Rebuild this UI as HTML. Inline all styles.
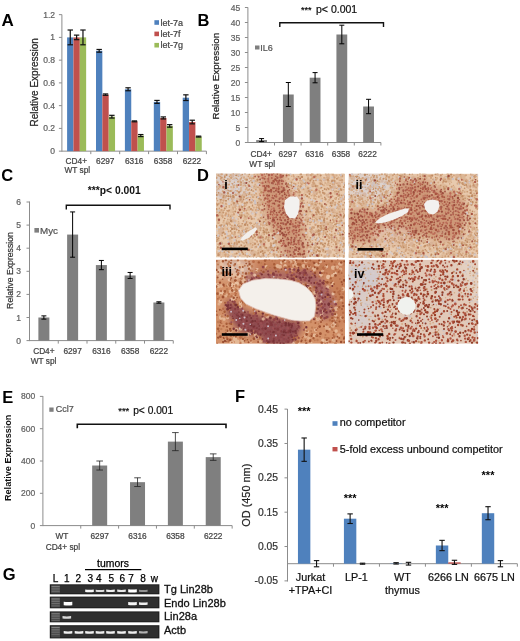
<!DOCTYPE html>
<html><head><meta charset="utf-8"><style>
html,body{margin:0;padding:0;background:#fff;width:520px;height:641px;overflow:hidden}
svg{display:block;filter:blur(0.35px)}
text{font-family:"Liberation Sans", sans-serif}
</style></head><body>
<svg width="520" height="641" viewBox="0 0 520 641">
<rect width="520" height="641" fill="#fff"/>
<defs><filter id="bl1" x="-20%" y="-20%" width="140%" height="140%"><feGaussianBlur stdDeviation="0.7"/></filter>
<filter id="bl3" x="-30%" y="-30%" width="160%" height="160%"><feGaussianBlur stdDeviation="3"/></filter>
<filter id="bl5" x="-40%" y="-40%" width="180%" height="180%"><feGaussianBlur stdDeviation="5"/></filter>
<filter id="bd" x="-50%" y="-50%" width="200%" height="200%"><feGaussianBlur stdDeviation="0.55"/></filter>
<clipPath id="c_i"><rect x="216" y="173.6" width="129" height="84"/></clipPath>
<clipPath id="c_ii"><rect x="348.5" y="173.6" width="129.8" height="84.4"/></clipPath>
<clipPath id="c_iii"><rect x="216" y="259.6" width="129" height="84.2"/></clipPath>
<clipPath id="c_iv"><rect x="348.5" y="259.8" width="129.8" height="84"/></clipPath></defs>
<text x="1.50" y="26.30" font-size="17" text-anchor="start" fill="#000" font-weight="bold" >A</text>
<line x1="61.90" y1="14.60" x2="61.90" y2="151.65" stroke="#8c8c8c" stroke-width="1" />
<line x1="58.90" y1="151.15" x2="61.90" y2="151.15" stroke="#8c8c8c" stroke-width="1" />
<text x="55.00" y="154.15" font-size="8.5" text-anchor="end" fill="#626262" font-weight="normal" stroke="#626262" stroke-width="0.22" >0</text>
<line x1="58.90" y1="128.40" x2="61.90" y2="128.40" stroke="#8c8c8c" stroke-width="1" />
<text x="55.00" y="131.40" font-size="8.5" text-anchor="end" fill="#626262" font-weight="normal" stroke="#626262" stroke-width="0.22" >0.2</text>
<line x1="58.90" y1="105.65" x2="61.90" y2="105.65" stroke="#8c8c8c" stroke-width="1" />
<text x="55.00" y="108.65" font-size="8.5" text-anchor="end" fill="#626262" font-weight="normal" stroke="#626262" stroke-width="0.22" >0.4</text>
<line x1="58.90" y1="82.90" x2="61.90" y2="82.90" stroke="#8c8c8c" stroke-width="1" />
<text x="55.00" y="85.90" font-size="8.5" text-anchor="end" fill="#626262" font-weight="normal" stroke="#626262" stroke-width="0.22" >0.6</text>
<line x1="58.90" y1="60.15" x2="61.90" y2="60.15" stroke="#8c8c8c" stroke-width="1" />
<text x="55.00" y="63.15" font-size="8.5" text-anchor="end" fill="#626262" font-weight="normal" stroke="#626262" stroke-width="0.22" >0.8</text>
<line x1="58.90" y1="37.40" x2="61.90" y2="37.40" stroke="#8c8c8c" stroke-width="1" />
<text x="55.00" y="40.40" font-size="8.5" text-anchor="end" fill="#626262" font-weight="normal" stroke="#626262" stroke-width="0.22" >1</text>
<line x1="58.90" y1="14.65" x2="61.90" y2="14.65" stroke="#8c8c8c" stroke-width="1" />
<text x="55.00" y="17.65" font-size="8.5" text-anchor="end" fill="#626262" font-weight="normal" stroke="#626262" stroke-width="0.22" >1.2</text>
<line x1="61.90" y1="151.15" x2="206.40" y2="151.15" stroke="#8c8c8c" stroke-width="1" />
<line x1="90.80" y1="151.15" x2="90.80" y2="154.15" stroke="#8c8c8c" stroke-width="1" />
<line x1="119.70" y1="151.15" x2="119.70" y2="154.15" stroke="#8c8c8c" stroke-width="1" />
<line x1="148.60" y1="151.15" x2="148.60" y2="154.15" stroke="#8c8c8c" stroke-width="1" />
<line x1="177.50" y1="151.15" x2="177.50" y2="154.15" stroke="#8c8c8c" stroke-width="1" />
<line x1="206.40" y1="151.15" x2="206.40" y2="154.15" stroke="#8c8c8c" stroke-width="1" />
<rect x="67.10" y="37.40" width="6.35" height="113.75" fill="#4F81BD" />
<rect x="73.45" y="37.40" width="6.35" height="113.75" fill="#C0504D" />
<rect x="79.80" y="37.40" width="6.35" height="113.75" fill="#9BBB59" />
<line x1="70.27" y1="30.01" x2="70.27" y2="44.79" stroke="#111" stroke-width="1.2" />
<line x1="67.57" y1="30.01" x2="72.97" y2="30.01" stroke="#111" stroke-width="1.2" />
<line x1="67.57" y1="44.79" x2="72.97" y2="44.79" stroke="#111" stroke-width="1.2" />
<line x1="76.62" y1="35.12" x2="76.62" y2="39.68" stroke="#111" stroke-width="1.2" />
<line x1="73.92" y1="35.12" x2="79.32" y2="35.12" stroke="#111" stroke-width="1.2" />
<line x1="73.92" y1="39.68" x2="79.32" y2="39.68" stroke="#111" stroke-width="1.2" />
<line x1="82.97" y1="30.01" x2="82.97" y2="44.79" stroke="#111" stroke-width="1.2" />
<line x1="80.27" y1="30.01" x2="85.67" y2="30.01" stroke="#111" stroke-width="1.2" />
<line x1="80.27" y1="44.79" x2="85.67" y2="44.79" stroke="#111" stroke-width="1.2" />
<rect x="96.00" y="50.82" width="6.35" height="100.33" fill="#4F81BD" />
<rect x="102.35" y="94.62" width="6.35" height="56.53" fill="#C0504D" />
<rect x="108.70" y="116.68" width="6.35" height="34.47" fill="#9BBB59" />
<line x1="99.17" y1="49.46" x2="99.17" y2="52.19" stroke="#111" stroke-width="1.2" />
<line x1="96.47" y1="49.46" x2="101.88" y2="49.46" stroke="#111" stroke-width="1.2" />
<line x1="96.47" y1="52.19" x2="101.88" y2="52.19" stroke="#111" stroke-width="1.2" />
<line x1="105.52" y1="93.93" x2="105.52" y2="95.30" stroke="#111" stroke-width="1.2" />
<line x1="102.82" y1="93.93" x2="108.22" y2="93.93" stroke="#111" stroke-width="1.2" />
<line x1="102.82" y1="95.30" x2="108.22" y2="95.30" stroke="#111" stroke-width="1.2" />
<line x1="111.88" y1="115.32" x2="111.88" y2="118.05" stroke="#111" stroke-width="1.2" />
<line x1="109.17" y1="115.32" x2="114.58" y2="115.32" stroke="#111" stroke-width="1.2" />
<line x1="109.17" y1="118.05" x2="114.58" y2="118.05" stroke="#111" stroke-width="1.2" />
<rect x="124.90" y="89.27" width="6.35" height="61.88" fill="#4F81BD" />
<rect x="131.25" y="121.35" width="6.35" height="29.80" fill="#C0504D" />
<rect x="137.60" y="135.57" width="6.35" height="15.58" fill="#9BBB59" />
<line x1="128.07" y1="87.79" x2="128.07" y2="90.75" stroke="#111" stroke-width="1.2" />
<line x1="125.37" y1="87.79" x2="130.77" y2="87.79" stroke="#111" stroke-width="1.2" />
<line x1="125.37" y1="90.75" x2="130.77" y2="90.75" stroke="#111" stroke-width="1.2" />
<line x1="134.43" y1="120.89" x2="134.43" y2="121.80" stroke="#111" stroke-width="1.2" />
<line x1="131.73" y1="120.89" x2="137.12" y2="120.89" stroke="#111" stroke-width="1.2" />
<line x1="131.73" y1="121.80" x2="137.12" y2="121.80" stroke="#111" stroke-width="1.2" />
<line x1="140.78" y1="134.54" x2="140.78" y2="136.59" stroke="#111" stroke-width="1.2" />
<line x1="138.08" y1="134.54" x2="143.47" y2="134.54" stroke="#111" stroke-width="1.2" />
<line x1="138.08" y1="136.59" x2="143.47" y2="136.59" stroke="#111" stroke-width="1.2" />
<rect x="153.80" y="101.90" width="6.35" height="49.25" fill="#4F81BD" />
<rect x="160.15" y="117.94" width="6.35" height="33.21" fill="#C0504D" />
<rect x="166.50" y="125.90" width="6.35" height="25.25" fill="#9BBB59" />
<line x1="156.97" y1="100.42" x2="156.97" y2="103.38" stroke="#111" stroke-width="1.2" />
<line x1="154.28" y1="100.42" x2="159.67" y2="100.42" stroke="#111" stroke-width="1.2" />
<line x1="154.28" y1="103.38" x2="159.67" y2="103.38" stroke="#111" stroke-width="1.2" />
<line x1="163.32" y1="116.91" x2="163.32" y2="118.96" stroke="#111" stroke-width="1.2" />
<line x1="160.62" y1="116.91" x2="166.02" y2="116.91" stroke="#111" stroke-width="1.2" />
<line x1="160.62" y1="118.96" x2="166.02" y2="118.96" stroke="#111" stroke-width="1.2" />
<line x1="169.67" y1="124.65" x2="169.67" y2="127.15" stroke="#111" stroke-width="1.2" />
<line x1="166.97" y1="124.65" x2="172.37" y2="124.65" stroke="#111" stroke-width="1.2" />
<line x1="166.97" y1="127.15" x2="172.37" y2="127.15" stroke="#111" stroke-width="1.2" />
<rect x="182.70" y="97.69" width="6.35" height="53.46" fill="#4F81BD" />
<rect x="189.05" y="122.03" width="6.35" height="29.12" fill="#C0504D" />
<rect x="195.40" y="136.59" width="6.35" height="14.56" fill="#9BBB59" />
<line x1="185.88" y1="94.84" x2="185.88" y2="100.53" stroke="#111" stroke-width="1.2" />
<line x1="183.18" y1="94.84" x2="188.57" y2="94.84" stroke="#111" stroke-width="1.2" />
<line x1="183.18" y1="100.53" x2="188.57" y2="100.53" stroke="#111" stroke-width="1.2" />
<line x1="192.22" y1="120.21" x2="192.22" y2="123.85" stroke="#111" stroke-width="1.2" />
<line x1="189.53" y1="120.21" x2="194.92" y2="120.21" stroke="#111" stroke-width="1.2" />
<line x1="189.53" y1="123.85" x2="194.92" y2="123.85" stroke="#111" stroke-width="1.2" />
<line x1="198.57" y1="136.13" x2="198.57" y2="137.05" stroke="#111" stroke-width="1.2" />
<line x1="195.88" y1="136.13" x2="201.27" y2="136.13" stroke="#111" stroke-width="1.2" />
<line x1="195.88" y1="137.05" x2="201.27" y2="137.05" stroke="#111" stroke-width="1.2" />
<text x="76.35" y="164.30" font-size="8.3" text-anchor="middle" fill="#444" font-weight="normal" stroke="#444" stroke-width="0.22" >CD4+</text>
<text x="105.25" y="164.30" font-size="8.3" text-anchor="middle" fill="#444" font-weight="normal" stroke="#444" stroke-width="0.22" >6297</text>
<text x="134.15" y="164.30" font-size="8.3" text-anchor="middle" fill="#444" font-weight="normal" stroke="#444" stroke-width="0.22" >6316</text>
<text x="163.05" y="164.30" font-size="8.3" text-anchor="middle" fill="#444" font-weight="normal" stroke="#444" stroke-width="0.22" >6358</text>
<text x="191.95" y="164.30" font-size="8.3" text-anchor="middle" fill="#444" font-weight="normal" stroke="#444" stroke-width="0.22" >6222</text>
<text x="77.35" y="172.60" font-size="8.3" text-anchor="middle" fill="#444" font-weight="normal" stroke="#444" stroke-width="0.22" >WT spl</text>
<text x="37.70" y="82.30" font-size="10" text-anchor="middle" fill="#222" font-weight="normal" stroke="#222" stroke-width="0.22" transform="rotate(-90 37.7 82.3)">Relative Expression</text>
<rect x="154.40" y="20.20" width="4.60" height="4.60" fill="#4F81BD" />
<text x="160.60" y="25.50" font-size="9" text-anchor="start" fill="#444" font-weight="normal" stroke="#444" stroke-width="0.22" >let-7a</text>
<rect x="154.40" y="31.60" width="4.60" height="4.60" fill="#C0504D" />
<text x="160.60" y="36.90" font-size="9" text-anchor="start" fill="#444" font-weight="normal" stroke="#444" stroke-width="0.22" >let-7f</text>
<rect x="154.40" y="42.90" width="4.60" height="4.60" fill="#9BBB59" />
<text x="160.60" y="48.20" font-size="9" text-anchor="start" fill="#444" font-weight="normal" stroke="#444" stroke-width="0.22" >let-7g</text>
<text x="197.50" y="26.30" font-size="16.5" text-anchor="start" fill="#000" font-weight="bold" >B</text>
<text x="197.00" y="181.00" font-size="16.5" text-anchor="start" fill="#000" font-weight="bold" >D</text>
<line x1="247.90" y1="7.40" x2="247.90" y2="143.00" stroke="#8c8c8c" stroke-width="1" />
<line x1="244.90" y1="142.50" x2="247.90" y2="142.50" stroke="#8c8c8c" stroke-width="1" />
<text x="240.20" y="145.50" font-size="8.5" text-anchor="end" fill="#626262" font-weight="normal" stroke="#626262" stroke-width="0.22" >0</text>
<line x1="244.90" y1="127.50" x2="247.90" y2="127.50" stroke="#8c8c8c" stroke-width="1" />
<text x="240.20" y="130.50" font-size="8.5" text-anchor="end" fill="#626262" font-weight="normal" stroke="#626262" stroke-width="0.22" >5</text>
<line x1="244.90" y1="112.50" x2="247.90" y2="112.50" stroke="#8c8c8c" stroke-width="1" />
<text x="240.20" y="115.50" font-size="8.5" text-anchor="end" fill="#626262" font-weight="normal" stroke="#626262" stroke-width="0.22" >10</text>
<line x1="244.90" y1="97.50" x2="247.90" y2="97.50" stroke="#8c8c8c" stroke-width="1" />
<text x="240.20" y="100.50" font-size="8.5" text-anchor="end" fill="#626262" font-weight="normal" stroke="#626262" stroke-width="0.22" >15</text>
<line x1="244.90" y1="82.50" x2="247.90" y2="82.50" stroke="#8c8c8c" stroke-width="1" />
<text x="240.20" y="85.50" font-size="8.5" text-anchor="end" fill="#626262" font-weight="normal" stroke="#626262" stroke-width="0.22" >20</text>
<line x1="244.90" y1="67.50" x2="247.90" y2="67.50" stroke="#8c8c8c" stroke-width="1" />
<text x="240.20" y="70.50" font-size="8.5" text-anchor="end" fill="#626262" font-weight="normal" stroke="#626262" stroke-width="0.22" >25</text>
<line x1="244.90" y1="52.50" x2="247.90" y2="52.50" stroke="#8c8c8c" stroke-width="1" />
<text x="240.20" y="55.50" font-size="8.5" text-anchor="end" fill="#626262" font-weight="normal" stroke="#626262" stroke-width="0.22" >30</text>
<line x1="244.90" y1="37.50" x2="247.90" y2="37.50" stroke="#8c8c8c" stroke-width="1" />
<text x="240.20" y="40.50" font-size="8.5" text-anchor="end" fill="#626262" font-weight="normal" stroke="#626262" stroke-width="0.22" >35</text>
<line x1="244.90" y1="22.50" x2="247.90" y2="22.50" stroke="#8c8c8c" stroke-width="1" />
<text x="240.20" y="25.50" font-size="8.5" text-anchor="end" fill="#626262" font-weight="normal" stroke="#626262" stroke-width="0.22" >40</text>
<line x1="244.90" y1="7.50" x2="247.90" y2="7.50" stroke="#8c8c8c" stroke-width="1" />
<text x="240.20" y="10.50" font-size="8.5" text-anchor="end" fill="#626262" font-weight="normal" stroke="#626262" stroke-width="0.22" >45</text>
<line x1="247.90" y1="142.50" x2="380.90" y2="142.50" stroke="#8c8c8c" stroke-width="1" />
<line x1="274.50" y1="142.50" x2="274.50" y2="145.50" stroke="#8c8c8c" stroke-width="1" />
<line x1="301.10" y1="142.50" x2="301.10" y2="145.50" stroke="#8c8c8c" stroke-width="1" />
<line x1="327.70" y1="142.50" x2="327.70" y2="145.50" stroke="#8c8c8c" stroke-width="1" />
<line x1="354.30" y1="142.50" x2="354.30" y2="145.50" stroke="#8c8c8c" stroke-width="1" />
<line x1="380.90" y1="142.50" x2="380.90" y2="145.50" stroke="#8c8c8c" stroke-width="1" />
<rect x="256.18" y="140.10" width="10.80" height="2.40" fill="#7F7F7F" />
<line x1="261.57" y1="138.60" x2="261.57" y2="141.60" stroke="#000" stroke-width="1" />
<line x1="259.07" y1="138.60" x2="264.07" y2="138.60" stroke="#000" stroke-width="1" />
<line x1="259.07" y1="141.60" x2="264.07" y2="141.60" stroke="#000" stroke-width="1" />
<rect x="282.93" y="94.50" width="10.80" height="48.00" fill="#7F7F7F" />
<line x1="288.32" y1="82.50" x2="288.32" y2="106.50" stroke="#000" stroke-width="1" />
<line x1="285.82" y1="82.50" x2="290.82" y2="82.50" stroke="#000" stroke-width="1" />
<line x1="285.82" y1="106.50" x2="290.82" y2="106.50" stroke="#000" stroke-width="1" />
<rect x="309.68" y="77.70" width="10.80" height="64.80" fill="#7F7F7F" />
<line x1="315.07" y1="72.60" x2="315.07" y2="82.80" stroke="#000" stroke-width="1" />
<line x1="312.57" y1="72.60" x2="317.57" y2="72.60" stroke="#000" stroke-width="1" />
<line x1="312.57" y1="82.80" x2="317.57" y2="82.80" stroke="#000" stroke-width="1" />
<rect x="336.43" y="34.50" width="10.80" height="108.00" fill="#7F7F7F" />
<line x1="341.82" y1="25.20" x2="341.82" y2="43.80" stroke="#000" stroke-width="1" />
<line x1="339.32" y1="25.20" x2="344.32" y2="25.20" stroke="#000" stroke-width="1" />
<line x1="339.32" y1="43.80" x2="344.32" y2="43.80" stroke="#000" stroke-width="1" />
<rect x="363.18" y="106.50" width="10.80" height="36.00" fill="#7F7F7F" />
<line x1="368.57" y1="99.30" x2="368.57" y2="113.70" stroke="#000" stroke-width="1" />
<line x1="366.07" y1="99.30" x2="371.07" y2="99.30" stroke="#000" stroke-width="1" />
<line x1="366.07" y1="113.70" x2="371.07" y2="113.70" stroke="#000" stroke-width="1" />
<text x="261.20" y="156.70" font-size="8.3" text-anchor="middle" fill="#444" font-weight="normal" stroke="#444" stroke-width="0.22" >CD4+</text>
<text x="287.80" y="156.70" font-size="8.3" text-anchor="middle" fill="#444" font-weight="normal" stroke="#444" stroke-width="0.22" >6297</text>
<text x="314.40" y="156.70" font-size="8.3" text-anchor="middle" fill="#444" font-weight="normal" stroke="#444" stroke-width="0.22" >6316</text>
<text x="341.00" y="156.70" font-size="8.3" text-anchor="middle" fill="#444" font-weight="normal" stroke="#444" stroke-width="0.22" >6358</text>
<text x="367.60" y="156.70" font-size="8.3" text-anchor="middle" fill="#444" font-weight="normal" stroke="#444" stroke-width="0.22" >6222</text>
<text x="262.20" y="166.60" font-size="8.3" text-anchor="middle" fill="#444" font-weight="normal" stroke="#444" stroke-width="0.22" >WT spl</text>
<text x="218.60" y="76.10" font-size="9.8" text-anchor="middle" fill="#222" font-weight="normal" stroke="#222" stroke-width="0.22" transform="rotate(-90 218.6 76.1)">Relative Expression</text>
<rect x="255.00" y="45.50" width="4.50" height="4.00" fill="#7F7F7F" />
<text x="260.30" y="50.50" font-size="9" text-anchor="start" fill="#555" font-weight="normal" stroke="#555" stroke-width="0.22" >IL6</text>
<path d="M279.8,27 V22.7 H383.5 V27" fill="none" stroke="#111" stroke-width="1.4"/>
<text x="301.00" y="12.80" font-size="9" text-anchor="start" fill="#111" font-weight="bold" >***</text>
<text x="316.00" y="12.80" font-size="10.5" text-anchor="start" fill="#111" font-weight="normal" stroke="#111" stroke-width="0.22" >p&lt; 0.001</text>
<text x="1.20" y="180.80" font-size="16.5" text-anchor="start" fill="#000" font-weight="bold" >C</text>
<line x1="29.50" y1="201.50" x2="29.50" y2="341.10" stroke="#8c8c8c" stroke-width="1" />
<line x1="26.50" y1="340.60" x2="29.50" y2="340.60" stroke="#8c8c8c" stroke-width="1" />
<text x="21.00" y="343.60" font-size="8.5" text-anchor="end" fill="#626262" font-weight="normal" stroke="#626262" stroke-width="0.22" >0</text>
<line x1="26.50" y1="317.50" x2="29.50" y2="317.50" stroke="#8c8c8c" stroke-width="1" />
<text x="21.00" y="320.50" font-size="8.5" text-anchor="end" fill="#626262" font-weight="normal" stroke="#626262" stroke-width="0.22" >1</text>
<line x1="26.50" y1="294.40" x2="29.50" y2="294.40" stroke="#8c8c8c" stroke-width="1" />
<text x="21.00" y="297.40" font-size="8.5" text-anchor="end" fill="#626262" font-weight="normal" stroke="#626262" stroke-width="0.22" >2</text>
<line x1="26.50" y1="271.30" x2="29.50" y2="271.30" stroke="#8c8c8c" stroke-width="1" />
<text x="21.00" y="274.30" font-size="8.5" text-anchor="end" fill="#626262" font-weight="normal" stroke="#626262" stroke-width="0.22" >3</text>
<line x1="26.50" y1="248.20" x2="29.50" y2="248.20" stroke="#8c8c8c" stroke-width="1" />
<text x="21.00" y="251.20" font-size="8.5" text-anchor="end" fill="#626262" font-weight="normal" stroke="#626262" stroke-width="0.22" >4</text>
<line x1="26.50" y1="225.10" x2="29.50" y2="225.10" stroke="#8c8c8c" stroke-width="1" />
<text x="21.00" y="228.10" font-size="8.5" text-anchor="end" fill="#626262" font-weight="normal" stroke="#626262" stroke-width="0.22" >5</text>
<line x1="26.50" y1="202.00" x2="29.50" y2="202.00" stroke="#8c8c8c" stroke-width="1" />
<text x="21.00" y="205.00" font-size="8.5" text-anchor="end" fill="#626262" font-weight="normal" stroke="#626262" stroke-width="0.22" >6</text>
<line x1="29.50" y1="340.60" x2="173.25" y2="340.60" stroke="#8c8c8c" stroke-width="1" />
<line x1="58.25" y1="340.60" x2="58.25" y2="343.60" stroke="#8c8c8c" stroke-width="1" />
<line x1="87.00" y1="340.60" x2="87.00" y2="343.60" stroke="#8c8c8c" stroke-width="1" />
<line x1="115.75" y1="340.60" x2="115.75" y2="343.60" stroke="#8c8c8c" stroke-width="1" />
<line x1="144.50" y1="340.60" x2="144.50" y2="343.60" stroke="#8c8c8c" stroke-width="1" />
<line x1="173.25" y1="340.60" x2="173.25" y2="343.60" stroke="#8c8c8c" stroke-width="1" />
<rect x="38.38" y="317.50" width="11.00" height="23.10" fill="#7F7F7F" />
<line x1="43.88" y1="315.88" x2="43.88" y2="319.12" stroke="#000" stroke-width="1" />
<line x1="41.38" y1="315.88" x2="46.38" y2="315.88" stroke="#000" stroke-width="1" />
<line x1="41.38" y1="319.12" x2="46.38" y2="319.12" stroke="#000" stroke-width="1" />
<rect x="67.12" y="234.57" width="11.00" height="106.03" fill="#7F7F7F" />
<line x1="72.62" y1="211.93" x2="72.62" y2="257.21" stroke="#000" stroke-width="1" />
<line x1="70.12" y1="211.93" x2="75.12" y2="211.93" stroke="#000" stroke-width="1" />
<line x1="70.12" y1="257.21" x2="75.12" y2="257.21" stroke="#000" stroke-width="1" />
<rect x="95.88" y="265.06" width="11.00" height="75.54" fill="#7F7F7F" />
<line x1="101.38" y1="260.44" x2="101.38" y2="269.68" stroke="#000" stroke-width="1" />
<line x1="98.88" y1="260.44" x2="103.88" y2="260.44" stroke="#000" stroke-width="1" />
<line x1="98.88" y1="269.68" x2="103.88" y2="269.68" stroke="#000" stroke-width="1" />
<rect x="124.62" y="275.46" width="11.00" height="65.14" fill="#7F7F7F" />
<line x1="130.12" y1="272.46" x2="130.12" y2="278.46" stroke="#000" stroke-width="1" />
<line x1="127.62" y1="272.46" x2="132.62" y2="272.46" stroke="#000" stroke-width="1" />
<line x1="127.62" y1="278.46" x2="132.62" y2="278.46" stroke="#000" stroke-width="1" />
<rect x="153.38" y="302.49" width="11.00" height="38.12" fill="#7F7F7F" />
<line x1="158.88" y1="301.79" x2="158.88" y2="303.18" stroke="#000" stroke-width="1" />
<line x1="156.38" y1="301.79" x2="161.38" y2="301.79" stroke="#000" stroke-width="1" />
<line x1="156.38" y1="303.18" x2="161.38" y2="303.18" stroke="#000" stroke-width="1" />
<text x="43.88" y="354.20" font-size="8.3" text-anchor="middle" fill="#444" font-weight="normal" stroke="#444" stroke-width="0.22" >CD4+</text>
<text x="72.62" y="354.20" font-size="8.3" text-anchor="middle" fill="#444" font-weight="normal" stroke="#444" stroke-width="0.22" >6297</text>
<text x="101.38" y="354.20" font-size="8.3" text-anchor="middle" fill="#444" font-weight="normal" stroke="#444" stroke-width="0.22" >6316</text>
<text x="130.12" y="354.20" font-size="8.3" text-anchor="middle" fill="#444" font-weight="normal" stroke="#444" stroke-width="0.22" >6358</text>
<text x="158.88" y="354.20" font-size="8.3" text-anchor="middle" fill="#444" font-weight="normal" stroke="#444" stroke-width="0.22" >6222</text>
<text x="43.58" y="363.60" font-size="8.3" text-anchor="middle" fill="#444" font-weight="normal" stroke="#444" stroke-width="0.22" >WT spl</text>
<text x="12.80" y="270.50" font-size="8.7" text-anchor="middle" fill="#333" font-weight="normal" stroke="#333" stroke-width="0.22" transform="rotate(-90 12.8 270.5)">Relative Expression</text>
<rect x="34.40" y="228.00" width="4.60" height="4.60" fill="#7F7F7F" />
<text x="40.00" y="234.00" font-size="9.8" text-anchor="start" fill="#555" font-weight="normal" stroke="#555" stroke-width="0.22" >Myc</text>
<path d="M66.3,209.5 V205.2 H170 V209.5" fill="none" stroke="#111" stroke-width="1.4"/>
<text x="114.30" y="193.50" font-size="10.3" text-anchor="middle" fill="#111" font-weight="bold" >***p&lt; 0.001</text>
<text x="2.20" y="402.50" font-size="16.5" text-anchor="start" fill="#000" font-weight="bold" >E</text>
<line x1="42.90" y1="396.00" x2="42.90" y2="526.10" stroke="#8c8c8c" stroke-width="1" />
<line x1="39.90" y1="525.60" x2="42.90" y2="525.60" stroke="#8c8c8c" stroke-width="1" />
<text x="35.20" y="528.60" font-size="8.5" text-anchor="end" fill="#626262" font-weight="normal" stroke="#626262" stroke-width="0.22" >0</text>
<line x1="39.90" y1="493.30" x2="42.90" y2="493.30" stroke="#8c8c8c" stroke-width="1" />
<text x="35.20" y="496.30" font-size="8.5" text-anchor="end" fill="#626262" font-weight="normal" stroke="#626262" stroke-width="0.22" >200</text>
<line x1="39.90" y1="461.00" x2="42.90" y2="461.00" stroke="#8c8c8c" stroke-width="1" />
<text x="35.20" y="464.00" font-size="8.5" text-anchor="end" fill="#626262" font-weight="normal" stroke="#626262" stroke-width="0.22" >400</text>
<line x1="39.90" y1="428.70" x2="42.90" y2="428.70" stroke="#8c8c8c" stroke-width="1" />
<text x="35.20" y="431.70" font-size="8.5" text-anchor="end" fill="#626262" font-weight="normal" stroke="#626262" stroke-width="0.22" >600</text>
<line x1="39.90" y1="396.40" x2="42.90" y2="396.40" stroke="#8c8c8c" stroke-width="1" />
<text x="35.20" y="399.40" font-size="8.5" text-anchor="end" fill="#626262" font-weight="normal" stroke="#626262" stroke-width="0.22" >800</text>
<line x1="42.90" y1="525.60" x2="232.15" y2="525.60" stroke="#8c8c8c" stroke-width="1" />
<line x1="80.75" y1="525.60" x2="80.75" y2="528.60" stroke="#8c8c8c" stroke-width="1" />
<line x1="118.60" y1="525.60" x2="118.60" y2="528.60" stroke="#8c8c8c" stroke-width="1" />
<line x1="156.45" y1="525.60" x2="156.45" y2="528.60" stroke="#8c8c8c" stroke-width="1" />
<line x1="194.30" y1="525.60" x2="194.30" y2="528.60" stroke="#8c8c8c" stroke-width="1" />
<line x1="232.15" y1="525.60" x2="232.15" y2="528.60" stroke="#8c8c8c" stroke-width="1" />
<rect x="92.17" y="465.52" width="15.00" height="60.08" fill="#7F7F7F" />
<line x1="99.67" y1="461.00" x2="99.67" y2="470.04" stroke="#222" stroke-width="0.8" />
<line x1="96.38" y1="461.00" x2="102.97" y2="461.00" stroke="#222" stroke-width="0.8" />
<line x1="96.38" y1="470.04" x2="102.97" y2="470.04" stroke="#222" stroke-width="0.8" />
<rect x="130.03" y="482.16" width="15.00" height="43.44" fill="#7F7F7F" />
<line x1="137.53" y1="477.80" x2="137.53" y2="486.52" stroke="#222" stroke-width="0.8" />
<line x1="134.22" y1="477.80" x2="140.83" y2="477.80" stroke="#222" stroke-width="0.8" />
<line x1="134.22" y1="486.52" x2="140.83" y2="486.52" stroke="#222" stroke-width="0.8" />
<rect x="167.88" y="441.62" width="15.00" height="83.98" fill="#7F7F7F" />
<line x1="175.38" y1="432.58" x2="175.38" y2="450.66" stroke="#222" stroke-width="0.8" />
<line x1="172.08" y1="432.58" x2="178.68" y2="432.58" stroke="#222" stroke-width="0.8" />
<line x1="172.08" y1="450.66" x2="178.68" y2="450.66" stroke="#222" stroke-width="0.8" />
<rect x="205.73" y="457.12" width="15.00" height="68.48" fill="#7F7F7F" />
<line x1="213.23" y1="453.89" x2="213.23" y2="460.35" stroke="#222" stroke-width="0.8" />
<line x1="209.93" y1="453.89" x2="216.53" y2="453.89" stroke="#222" stroke-width="0.8" />
<line x1="209.93" y1="460.35" x2="216.53" y2="460.35" stroke="#222" stroke-width="0.8" />
<text x="61.83" y="539.20" font-size="8.3" text-anchor="middle" fill="#444" font-weight="normal" stroke="#444" stroke-width="0.22" >WT</text>
<text x="99.67" y="539.20" font-size="8.3" text-anchor="middle" fill="#444" font-weight="normal" stroke="#444" stroke-width="0.22" >6297</text>
<text x="137.53" y="539.20" font-size="8.3" text-anchor="middle" fill="#444" font-weight="normal" stroke="#444" stroke-width="0.22" >6316</text>
<text x="175.38" y="539.20" font-size="8.3" text-anchor="middle" fill="#444" font-weight="normal" stroke="#444" stroke-width="0.22" >6358</text>
<text x="213.23" y="539.20" font-size="8.3" text-anchor="middle" fill="#444" font-weight="normal" stroke="#444" stroke-width="0.22" >6222</text>
<text x="62.83" y="549.60" font-size="8.3" text-anchor="middle" fill="#444" font-weight="normal" stroke="#444" stroke-width="0.22" >CD4+ spl</text>
<text x="10.80" y="457.80" font-size="9.1" text-anchor="middle" fill="#111" font-weight="bold" transform="rotate(-90 10.8 457.8)">Relative Expression</text>
<rect x="49.30" y="407.50" width="4.30" height="4.30" fill="#7F7F7F" />
<text x="55.70" y="412.30" font-size="9" text-anchor="start" fill="#555" font-weight="normal" stroke="#555" stroke-width="0.22" >Ccl7</text>
<path d="M77.3,428.3 V424.2 H226 V428.3" fill="none" stroke="#111" stroke-width="1.6"/>
<text x="118.20" y="413.80" font-size="9.5" text-anchor="start" fill="#111" font-weight="normal" stroke="#111" stroke-width="0.22" >***</text>
<text x="133.20" y="413.80" font-size="10.2" text-anchor="start" fill="#111" font-weight="normal" stroke="#111" stroke-width="0.22" >p&lt; 0.001</text>
<text x="235.00" y="402.00" font-size="16.5" text-anchor="start" fill="#000" font-weight="bold" >F</text>
<line x1="287.50" y1="409.00" x2="287.50" y2="581.50" stroke="#8c8c8c" stroke-width="1" />
<line x1="284.50" y1="580.88" x2="287.50" y2="580.88" stroke="#8c8c8c" stroke-width="1" />
<text x="278.00" y="584.48" font-size="10.3" text-anchor="end" fill="#333" font-weight="normal" stroke="#333" stroke-width="0.22" >-0.05</text>
<line x1="284.50" y1="546.53" x2="287.50" y2="546.53" stroke="#8c8c8c" stroke-width="1" />
<text x="278.00" y="550.13" font-size="10.3" text-anchor="end" fill="#333" font-weight="normal" stroke="#333" stroke-width="0.22" >0.05</text>
<line x1="284.50" y1="512.18" x2="287.50" y2="512.18" stroke="#8c8c8c" stroke-width="1" />
<text x="278.00" y="515.78" font-size="10.3" text-anchor="end" fill="#333" font-weight="normal" stroke="#333" stroke-width="0.22" >0.15</text>
<line x1="284.50" y1="477.83" x2="287.50" y2="477.83" stroke="#8c8c8c" stroke-width="1" />
<text x="278.00" y="481.43" font-size="10.3" text-anchor="end" fill="#333" font-weight="normal" stroke="#333" stroke-width="0.22" >0.25</text>
<line x1="284.50" y1="443.48" x2="287.50" y2="443.48" stroke="#8c8c8c" stroke-width="1" />
<text x="278.00" y="447.08" font-size="10.3" text-anchor="end" fill="#333" font-weight="normal" stroke="#333" stroke-width="0.22" >0.35</text>
<line x1="284.50" y1="409.12" x2="287.50" y2="409.12" stroke="#8c8c8c" stroke-width="1" />
<text x="278.00" y="412.73" font-size="10.3" text-anchor="end" fill="#333" font-weight="normal" stroke="#333" stroke-width="0.22" >0.45</text>
<line x1="287.50" y1="563.70" x2="517.35" y2="563.70" stroke="#8c8c8c" stroke-width="1" />
<line x1="333.47" y1="563.70" x2="333.47" y2="566.70" stroke="#8c8c8c" stroke-width="1" />
<line x1="379.44" y1="563.70" x2="379.44" y2="566.70" stroke="#8c8c8c" stroke-width="1" />
<line x1="425.41" y1="563.70" x2="425.41" y2="566.70" stroke="#8c8c8c" stroke-width="1" />
<line x1="471.38" y1="563.70" x2="471.38" y2="566.70" stroke="#8c8c8c" stroke-width="1" />
<line x1="517.35" y1="563.70" x2="517.35" y2="566.70" stroke="#8c8c8c" stroke-width="1" />
<rect x="297.95" y="449.66" width="12.40" height="114.04" fill="#4F81BD" />
<line x1="304.15" y1="437.98" x2="304.15" y2="461.34" stroke="#111" stroke-width="1.1" />
<line x1="301.45" y1="437.98" x2="306.85" y2="437.98" stroke="#111" stroke-width="1.1" />
<line x1="301.45" y1="461.34" x2="306.85" y2="461.34" stroke="#111" stroke-width="1.1" />
<line x1="316.55" y1="560.61" x2="316.55" y2="566.79" stroke="#111" stroke-width="1.1" />
<line x1="313.85" y1="560.61" x2="319.25" y2="560.61" stroke="#111" stroke-width="1.1" />
<line x1="313.85" y1="566.79" x2="319.25" y2="566.79" stroke="#111" stroke-width="1.1" />
<rect x="343.92" y="518.70" width="12.40" height="45.00" fill="#4F81BD" />
<line x1="350.12" y1="513.89" x2="350.12" y2="523.51" stroke="#111" stroke-width="1.1" />
<line x1="347.42" y1="513.89" x2="352.82" y2="513.89" stroke="#111" stroke-width="1.1" />
<line x1="347.42" y1="523.51" x2="352.82" y2="523.51" stroke="#111" stroke-width="1.1" />
<line x1="362.52" y1="563.18" x2="362.52" y2="564.22" stroke="#111" stroke-width="1.1" />
<line x1="359.82" y1="563.18" x2="365.22" y2="563.18" stroke="#111" stroke-width="1.1" />
<line x1="359.82" y1="564.22" x2="365.22" y2="564.22" stroke="#111" stroke-width="1.1" />
<rect x="389.89" y="563.36" width="12.40" height="0.34" fill="#4F81BD" />
<line x1="396.09" y1="562.67" x2="396.09" y2="564.04" stroke="#111" stroke-width="1.1" />
<line x1="393.39" y1="562.67" x2="398.79" y2="562.67" stroke="#111" stroke-width="1.1" />
<line x1="393.39" y1="564.04" x2="398.79" y2="564.04" stroke="#111" stroke-width="1.1" />
<line x1="408.49" y1="562.33" x2="408.49" y2="565.07" stroke="#111" stroke-width="1.1" />
<line x1="405.79" y1="562.33" x2="411.19" y2="562.33" stroke="#111" stroke-width="1.1" />
<line x1="405.79" y1="565.07" x2="411.19" y2="565.07" stroke="#111" stroke-width="1.1" />
<rect x="435.86" y="545.49" width="12.40" height="18.21" fill="#4F81BD" />
<line x1="442.06" y1="540.34" x2="442.06" y2="550.65" stroke="#111" stroke-width="1.1" />
<line x1="439.36" y1="540.34" x2="444.76" y2="540.34" stroke="#111" stroke-width="1.1" />
<line x1="439.36" y1="550.65" x2="444.76" y2="550.65" stroke="#111" stroke-width="1.1" />
<rect x="448.26" y="562.33" width="12.40" height="1.37" fill="#C0504D" />
<line x1="454.46" y1="560.27" x2="454.46" y2="564.39" stroke="#111" stroke-width="1.1" />
<line x1="451.76" y1="560.27" x2="457.16" y2="560.27" stroke="#111" stroke-width="1.1" />
<line x1="451.76" y1="564.39" x2="457.16" y2="564.39" stroke="#111" stroke-width="1.1" />
<rect x="481.83" y="513.21" width="12.40" height="50.49" fill="#4F81BD" />
<line x1="488.03" y1="506.68" x2="488.03" y2="519.73" stroke="#111" stroke-width="1.1" />
<line x1="485.33" y1="506.68" x2="490.73" y2="506.68" stroke="#111" stroke-width="1.1" />
<line x1="485.33" y1="519.73" x2="490.73" y2="519.73" stroke="#111" stroke-width="1.1" />
<line x1="500.43" y1="560.61" x2="500.43" y2="566.79" stroke="#111" stroke-width="1.1" />
<line x1="497.73" y1="560.61" x2="503.13" y2="560.61" stroke="#111" stroke-width="1.1" />
<line x1="497.73" y1="566.79" x2="503.13" y2="566.79" stroke="#111" stroke-width="1.1" />
<text x="304.15" y="415.10" font-size="11" text-anchor="middle" fill="#000" font-weight="bold" >***</text>
<text x="350.12" y="501.50" font-size="11" text-anchor="middle" fill="#000" font-weight="bold" >***</text>
<text x="442.06" y="512.10" font-size="11" text-anchor="middle" fill="#000" font-weight="bold" >***</text>
<text x="488.03" y="479.00" font-size="11" text-anchor="middle" fill="#000" font-weight="bold" >***</text>
<text x="310.49" y="581.00" font-size="10.8" text-anchor="middle" fill="#111" font-weight="normal" stroke="#111" stroke-width="0.22" >Jurkat</text>
<text x="310.49" y="593.50" font-size="10.8" text-anchor="middle" fill="#111" font-weight="normal" stroke="#111" stroke-width="0.22" >+TPA+CI</text>
<text x="356.46" y="581.00" font-size="10.8" text-anchor="middle" fill="#111" font-weight="normal" stroke="#111" stroke-width="0.22" >LP-1</text>
<text x="402.43" y="581.00" font-size="10.8" text-anchor="middle" fill="#111" font-weight="normal" stroke="#111" stroke-width="0.22" >WT</text>
<text x="402.43" y="593.50" font-size="10.8" text-anchor="middle" fill="#111" font-weight="normal" stroke="#111" stroke-width="0.22" >thymus</text>
<text x="448.39" y="581.00" font-size="10.8" text-anchor="middle" fill="#111" font-weight="normal" stroke="#111" stroke-width="0.22" >6266 LN</text>
<text x="494.37" y="581.00" font-size="10.8" text-anchor="middle" fill="#111" font-weight="normal" stroke="#111" stroke-width="0.22" >6675 LN</text>
<text x="250.40" y="495.20" font-size="10.9" text-anchor="middle" fill="#222" font-weight="normal" stroke="#222" stroke-width="0.22" transform="rotate(-90 250.4 495.2)">OD (450 nm)</text>
<rect x="332.50" y="421.20" width="5.00" height="4.60" fill="#4F81BD" />
<text x="339.80" y="426.40" font-size="10.85" text-anchor="start" fill="#111" font-weight="normal" stroke="#111" stroke-width="0.22" >no competitor</text>
<rect x="332.50" y="447.00" width="5.00" height="4.40" fill="#C0504D" />
<text x="339.80" y="452.50" font-size="10.85" text-anchor="start" fill="#111" font-weight="normal" stroke="#111" stroke-width="0.22" >5-fold excess unbound competitor</text>
<g clip-path="url(#c_i)">
<rect x="216" y="173.6" width="129" height="84" fill="#E8CAAE"/>
<ellipse cx="229" cy="185" rx="22" ry="15" fill="#DCD0CC" filter="url(#bl5)"/>
<path d="M258.0,168.0 L261.0,187.5 L264.0,210.7 L269.4,223.5 L277.0,236.4 L282.0,249.3 L285.0,262.0 L306.0,262.0 L306.0,249.3 L304.0,236.4 L302.0,221.0 L300.0,200.0 L287.0,187.5 L282.0,168.0 Z" fill="#CE9878" filter="url(#bl3)"/>
<g fill="none" stroke-linecap="round" opacity="0.5"><path d="M217.4 174.2h0M226.2 174.6h0M241.6 176.0h0M246.4 180.0h0M299.8 187.8h0M302.6 189.1h0M238.0 194.2h0M223.4 199.0h0M267.1 200.6h0M239.3 213.4h0M255.2 212.0h0M266.8 212.3h0M317.6 221.3h0M312.1 227.8h0M222.5 248.9h0M216.1 252.2h0" stroke="#D8B08C" stroke-width="3.2"/><path d="M221.7 173.8h0M232.6 176.2h0M227.0 189.9h0M327.1 195.1h0M263.4 219.3h0M240.7 233.0h0M328.7 236.0h0M343.5 245.0h0M255.3 246.9h0" stroke="#CCA084" stroke-width="3.2"/><path d="M233.0 174.5h0M297.5 177.5h0M341.8 176.2h0M294.6 178.5h0M332.1 189.1h0M239.7 195.9h0M261.1 210.3h0M340.9 218.2h0M234.8 221.0h0M220.6 233.8h0M259.1 235.9h0M276.6 233.5h0M244.7 239.3h0M315.3 244.7h0M279.1 248.6h0M321.9 249.0h0M344.5 250.2h0M274.1 254.5h0M344.3 257.4h0" stroke="#CCA084" stroke-width="3.6"/><path d="M237.6 174.1h0M333.1 181.1h0M253.8 195.8h0M261.9 203.5h0M314.6 204.9h0M216.7 211.0h0M231.0 216.1h0M317.0 217.9h0M327.2 223.6h0M271.8 230.6h0M324.6 229.8h0M248.5 244.0h0M263.9 251.8h0" stroke="#D0A47E" stroke-width="4.8"/><path d="M247.8 176.2h0M256.7 174.6h0M267.0 175.7h0M252.9 179.8h0M328.5 201.6h0M300.2 206.5h0M260.9 214.5h0M310.8 212.6h0M339.0 223.3h0M233.5 235.9h0M330.0 235.2h0M249.8 237.1h0M282.4 240.2h0M238.4 242.3h0M227.2 245.8h0M249.6 257.3h0" stroke="#E0BC9C" stroke-width="4.4"/><path d="M251.6 177.5h0M312.4 174.2h0M312.7 177.1h0M332.1 173.9h0M235.7 178.9h0M239.2 181.1h0M316.1 178.7h0M309.5 182.1h0M217.3 187.1h0M223.6 194.5h0M313.9 195.1h0M297.6 199.6h0M256.9 203.7h0M340.0 234.3h0M221.2 243.1h0M337.3 242.6h0M232.3 248.8h0M324.5 251.5h0M338.4 251.9h0M225.9 254.3h0" stroke="#D0A47E" stroke-width="3.6"/><path d="M278.1 173.9h0M287.5 175.5h0M328.7 181.5h0M221.9 187.7h0M217.3 190.8h0M331.0 193.5h0M228.5 195.6h0M233.2 197.9h0M316.1 202.6h0M242.9 206.7h0M251.1 210.4h0M308.7 207.3h0M247.0 213.9h0M261.3 218.7h0M224.4 223.8h0M265.0 220.7h0M248.2 227.7h0M329.2 227.1h0M283.5 229.5h0M301.1 228.4h0M247.4 235.0h0M255.6 233.0h0M262.7 234.3h0M237.1 237.0h0M263.1 245.7h0M335.8 246.7h0M223.1 252.5h0M259.2 250.3h0M233.5 255.3h0" stroke="#D8B08C" stroke-width="3.6"/><path d="M287.4 177.1h0M301.7 184.3h0M253.0 186.8h0M321.1 197.4h0M341.3 196.4h0M257.3 202.0h0M341.2 202.2h0M306.9 204.3h0M320.2 204.7h0M343.7 215.7h0M238.5 223.4h0M309.1 221.1h0M256.2 225.1h0M260.3 229.7h0M324.5 236.2h0M276.2 237.6h0M255.9 244.8h0M323.9 243.9h0M267.2 256.9h0" stroke="#E0BC9C" stroke-width="4.0"/><path d="M307.8 174.8h0M328.1 175.9h0M312.9 185.6h0M342.3 198.9h0M315.8 215.5h0M339.6 214.1h0M307.2 218.2h0M330.9 226.7h0M243.3 230.4h0M319.5 232.2h0M261.7 243.4h0M308.4 241.1h0M327.5 250.2h0" stroke="#CCA084" stroke-width="4.0"/><path d="M318.6 175.2h0M308.1 210.3h0M333.3 214.6h0M316.1 221.4h0M325.4 229.3h0M232.4 236.1h0M300.0 238.5h0M307.0 237.7h0M250.3 246.1h0" stroke="#D8B08C" stroke-width="5.2"/><path d="M334.1 176.1h0M229.2 180.1h0M340.1 179.2h0M307.3 188.3h0M305.9 191.4h0M216.4 204.7h0M333.7 203.3h0M241.1 209.1h0M334.3 211.4h0M307.1 220.8h0M239.6 226.6h0M345.0 227.5h0M306.4 233.4h0M251.3 241.2h0M339.9 241.6h0M223.7 255.1h0" stroke="#D8B08C" stroke-width="4.4"/><path d="M342.6 174.7h0M290.8 181.9h0M216.8 182.2h0M240.5 182.6h0M244.0 183.8h0M304.6 182.2h0M339.0 188.4h0M261.8 191.6h0M317.4 191.2h0M304.4 194.7h0M264.0 208.7h0M324.4 207.9h0M326.4 212.3h0M336.2 212.9h0M217.6 219.3h0M246.9 222.5h0M225.6 228.2h0M257.7 230.7h0M288.9 238.8h0M230.4 241.1h0" stroke="#D8B08C" stroke-width="4.0"/><path d="M222.2 179.1h0M232.3 204.7h0M344.9 206.0h0M343.1 209.5h0M228.4 214.5h0M221.7 217.0h0M245.3 222.7h0M336.9 225.9h0M273.0 235.9h0M280.2 236.2h0M333.8 235.3h0M329.0 239.0h0M276.6 242.4h0M243.2 251.8h0M243.2 256.5h0M296.4 253.7h0" stroke="#E0BC9C" stroke-width="4.8"/><path d="M226.4 180.7h0M324.9 186.1h0M232.3 189.0h0M241.0 190.3h0M294.5 187.2h0M327.8 188.9h0M300.7 192.1h0M321.8 199.1h0M330.3 200.3h0M225.7 207.4h0M216.9 226.1h0M329.3 244.3h0M248.3 247.4h0M293.2 246.7h0M245.9 255.5h0M333.4 255.4h0M338.7 256.5h0" stroke="#E0BC9C" stroke-width="3.6"/><path d="M304.1 180.6h0M223.4 185.8h0M320.7 183.1h0M255.1 187.2h0M335.7 192.8h0M244.1 195.1h0M221.3 211.3h0M323.5 215.4h0M308.5 219.2h0M227.8 222.5h0M268.3 224.1h0M272.6 225.7h0M265.9 230.4h0M313.3 233.0h0M229.2 237.6h0M332.9 239.2h0M274.8 242.4h0M260.4 249.0h0M274.7 245.3h0M254.8 252.8h0M268.0 249.4h0M314.7 252.0h0" stroke="#D0A47E" stroke-width="4.4"/><path d="M308.8 180.9h0M338.6 207.1h0M220.6 213.5h0" stroke="#D0A47E" stroke-width="5.2"/><path d="M320.0 179.2h0M317.8 188.9h0M238.3 200.0h0M231.5 211.0h0M339.2 210.3h0M307.2 213.7h0M316.4 217.0h0M334.5 218.5h0M261.8 223.1h0M242.1 226.8h0M217.3 239.6h0M270.3 238.2h0M234.5 245.5h0M243.3 247.0h0M325.1 257.4h0" stroke="#D8B08C" stroke-width="4.8"/><path d="M324.8 179.3h0M271.9 185.0h0M338.8 183.9h0M333.9 187.3h0M338.2 194.2h0M259.9 202.1h0M310.3 204.8h0M317.4 208.0h0M329.4 210.2h0M263.0 215.4h0M323.2 216.0h0M234.8 227.2h0M312.4 232.0h0M260.3 237.6h0M342.1 238.0h0M263.4 242.3h0M291.2 240.8h0M270.2 248.4h0M273.0 250.2h0M312.4 251.1h0M329.8 251.9h0M336.4 250.2h0M219.2 254.1h0M262.6 256.4h0M283.8 254.4h0M315.0 255.4h0M328.2 254.8h0" stroke="#CCA084" stroke-width="4.4"/><path d="M227.3 183.9h0M327.8 184.2h0M311.1 203.0h0M331.5 203.2h0M248.5 208.8h0M243.0 214.4h0M245.3 218.6h0M218.4 220.3h0M268.8 223.4h0M330.8 223.4h0M219.5 230.7h0M250.6 230.7h0M299.7 229.4h0M316.5 231.2h0M244.7 235.0h0M314.6 248.3h0M258.1 255.1h0M278.6 257.4h0" stroke="#D0A47E" stroke-width="4.0"/><path d="M333.8 182.1h0M309.1 191.1h0M224.3 196.7h0M241.3 199.8h0M235.5 204.6h0M323.9 223.7h0M220.7 228.1h0M258.1 226.4h0M235.0 245.0h0" stroke="#CCA084" stroke-width="5.2"/><path d="M233.0 187.0h0M242.1 187.0h0M247.5 187.0h0M228.2 194.3h0M247.0 195.5h0M265.4 199.8h0M334.8 221.2h0M227.4 227.7h0M321.7 227.6h0M313.1 238.1h0M225.6 244.0h0" stroke="#E0BC9C" stroke-width="3.2"/><path d="M245.2 193.3h0M314.9 192.3h0M219.7 194.7h0M232.6 197.6h0M344.3 196.5h0M332.9 210.3h0M232.0 220.4h0M264.6 224.2h0M221.8 231.1h0M304.3 228.3h0M319.2 233.2h0M308.9 245.8h0M252.5 253.0h0M292.4 256.4h0" stroke="#CCA084" stroke-width="4.8"/><path d="M299.0 193.1h0M321.4 204.9h0" stroke="#D0A47E" stroke-width="3.2"/><path d="M255.8 195.6h0M250.2 200.9h0M222.9 204.7h0M263.5 206.5h0M255.0 209.4h0M309.5 238.8h0M318.8 242.6h0" stroke="#E0BC9C" stroke-width="5.2"/></g>
<g filter="url(#bd)">
<g fill="none" stroke-linecap="round"><path d="M218.4 175.4h0M311.9 173.9h0M313.1 177.8h0M254.5 180.9h0M288.5 179.1h0M217.6 182.4h0M238.0 181.8h0M294.0 183.4h0M334.5 181.8h0M245.4 185.8h0M298.0 185.7h0M338.4 185.6h0M297.7 188.4h0M316.7 186.5h0M331.7 187.1h0M336.5 187.9h0M340.0 186.3h0M224.9 189.1h0M303.6 189.2h0M315.7 190.9h0M297.6 192.3h0M216.3 198.4h0M247.6 197.5h0M253.0 197.0h0M253.9 200.8h0M302.4 200.9h0M315.4 201.9h0M218.8 203.8h0M237.8 203.9h0M312.0 204.1h0M343.1 205.0h0M256.7 207.4h0M244.1 210.8h0M246.3 210.5h0M315.7 209.2h0M345.0 209.3h0M337.0 213.5h0M255.6 214.7h0M341.0 215.4h0M227.8 216.2h0M320.1 217.0h0M322.4 217.2h0M337.1 218.6h0M243.4 221.0h0M246.4 221.9h0M256.0 223.2h0M230.2 224.4h0M307.5 224.2h0M216.4 227.1h0M241.0 226.3h0M332.6 227.9h0M223.2 228.9h0M260.4 229.9h0M265.8 229.7h0M328.2 229.0h0M246.0 231.4h0M254.0 231.6h0M263.4 232.6h0M222.1 235.6h0M268.6 237.2h0M304.5 237.8h0M336.5 238.0h0M326.8 239.7h0M329.0 241.1h0M339.2 240.8h0M216.8 241.3h0M220.0 243.2h0M317.5 242.9h0M319.0 241.2h0M219.1 244.8h0M224.3 245.9h0M228.2 243.8h0M234.0 244.6h0M245.3 245.6h0M239.4 246.8h0M256.4 246.8h0M265.1 247.7h0M272.4 247.4h0M317.3 246.9h0M337.2 246.5h0M339.6 247.7h0M314.0 250.2h0M342.5 252.1h0" stroke="#CFA07A" stroke-width="2.0"/><path d="M219.4 174.4h0M242.3 174.5h0M249.3 174.4h0M252.1 176.1h0M220.1 176.4h0M227.8 179.0h0M250.9 180.7h0M261.0 179.0h0M316.0 180.4h0M320.2 180.3h0M340.1 180.3h0M249.3 181.8h0M344.4 183.3h0M322.4 184.6h0M223.1 188.1h0M258.0 187.2h0M292.0 186.4h0M305.0 186.4h0M310.1 188.0h0M313.0 186.2h0M228.3 190.7h0M235.5 190.7h0M240.6 191.1h0M333.3 190.0h0M231.5 191.2h0M336.7 191.3h0M226.5 195.9h0M236.2 195.3h0M246.5 195.4h0M249.0 194.4h0M256.2 193.7h0M316.8 194.0h0M341.6 195.4h0M289.7 196.3h0M336.4 197.7h0M322.0 201.0h0M338.8 199.1h0M330.4 202.9h0M314.1 207.8h0M224.0 210.2h0M242.0 212.5h0M230.5 216.2h0M245.1 216.8h0M251.2 216.9h0M260.5 217.9h0M334.4 217.3h0M308.6 219.4h0M317.0 219.7h0M332.8 219.7h0M251.5 223.2h0M302.6 223.2h0M250.6 223.8h0M252.4 225.9h0M231.0 227.5h0M305.6 226.6h0M336.4 226.5h0M246.9 230.8h0M338.3 231.0h0M228.5 231.5h0M245.9 231.7h0M305.8 232.3h0M306.2 231.1h0M334.9 233.4h0M244.8 234.7h0M216.9 237.4h0M235.6 236.5h0M250.7 237.5h0M325.9 236.6h0M223.8 238.8h0M244.0 243.1h0M276.6 242.8h0M310.5 241.9h0M312.3 243.0h0M312.4 243.9h0M224.6 252.1h0M264.8 252.5h0M336.3 253.5h0M218.2 255.5h0M253.5 257.1h0M274.6 257.1h0M343.6 257.4h0" stroke="#C6946C" stroke-width="1.6"/><path d="M221.6 174.1h0M300.6 174.4h0M310.9 175.1h0M313.0 182.6h0M295.4 184.3h0M237.1 191.1h0M260.3 189.7h0M235.5 194.7h0M314.8 195.6h0M318.8 196.8h0M223.5 200.6h0M335.7 198.8h0M241.8 205.9h0M244.6 206.0h0M258.0 204.9h0M332.1 210.1h0M226.0 213.5h0M222.4 215.9h0M225.5 215.2h0M233.9 214.3h0M250.4 216.4h0M344.2 223.4h0M315.5 224.7h0M303.1 229.4h0M325.6 233.0h0M218.9 236.1h0M225.2 233.9h0M241.5 236.4h0M329.3 237.8h0M260.4 241.0h0M343.3 238.9h0M236.6 242.3h0M335.5 242.1h0M307.0 247.5h0M225.4 254.7h0" stroke="#D2A27C" stroke-width="2.4"/><path d="M224.6 175.6h0M286.8 174.0h0M238.6 176.2h0M291.6 176.3h0M229.4 179.9h0M233.0 179.2h0M233.6 179.0h0M292.4 179.9h0M301.5 180.9h0M324.0 178.8h0M333.0 180.4h0M225.0 182.5h0M231.9 183.5h0M330.2 183.4h0M243.2 185.8h0M298.6 185.7h0M216.3 186.7h0M223.6 187.4h0M259.4 188.3h0M289.7 187.7h0M294.5 190.6h0M316.6 189.1h0M343.7 189.7h0M221.7 194.3h0M230.6 194.7h0M245.3 193.7h0M311.3 195.6h0M320.1 193.7h0M328.4 194.4h0M316.4 196.6h0M249.4 201.0h0M239.3 201.2h0M312.5 201.6h0M317.3 203.4h0M337.7 203.6h0M235.3 205.8h0M246.5 204.9h0M303.4 207.5h0M216.2 212.4h0M251.7 213.1h0M256.4 211.5h0M311.5 211.6h0M335.0 212.6h0M218.8 215.2h0M248.7 214.4h0M255.1 216.4h0M238.1 219.1h0M340.8 220.4h0M223.1 222.2h0M238.5 221.5h0M238.9 223.4h0M323.2 222.5h0M328.0 223.3h0M266.7 228.4h0M319.8 227.7h0M342.0 227.0h0M219.0 233.3h0M239.1 232.6h0M343.3 231.9h0M253.4 234.3h0M223.4 238.2h0M227.5 237.8h0M218.9 240.7h0M235.7 240.0h0M280.9 239.8h0M312.5 240.3h0M253.0 242.8h0M250.4 243.9h0M316.2 245.1h0M333.3 244.6h0M246.3 247.5h0M323.8 247.3h0M328.6 247.6h0M335.7 246.3h0M228.9 250.7h0M253.5 250.3h0M280.0 250.5h0M307.1 250.2h0M310.3 249.3h0M332.7 249.7h0M341.4 249.6h0M223.2 252.5h0M245.5 252.9h0M329.9 252.0h0M229.0 255.5h0M247.2 255.7h0M257.9 254.1h0M259.4 256.1h0M263.8 255.8h0M267.0 255.0h0M312.4 254.5h0M337.2 254.0h0M266.3 257.5h0M268.7 257.0h0" stroke="#D6AC88" stroke-width="1.6"/><path d="M226.5 175.0h0M236.2 175.2h0M320.7 175.6h0M224.8 177.0h0M236.6 179.3h0M310.3 180.6h0M305.0 183.1h0M291.4 185.5h0M315.7 185.4h0M330.1 185.8h0M345.0 185.1h0M287.3 186.3h0M315.4 186.2h0M321.4 187.4h0M251.4 189.9h0M324.7 188.9h0M230.2 191.1h0M323.0 192.8h0M216.8 194.9h0M309.5 194.1h0M228.3 196.2h0M230.4 196.6h0M307.1 196.3h0M226.0 200.8h0M261.0 199.7h0M333.1 200.8h0M217.4 204.7h0M326.2 204.8h0M331.6 205.7h0M224.8 208.6h0M242.1 207.1h0M308.9 207.8h0M330.5 206.3h0M251.0 209.1h0M258.1 209.8h0M263.5 209.9h0M235.2 211.4h0M218.1 215.8h0M321.9 213.9h0M336.9 215.7h0M344.4 215.3h0M312.8 216.7h0M324.4 218.4h0M343.8 216.6h0M319.9 219.0h0M307.7 221.4h0M235.0 225.3h0M237.4 225.0h0M223.1 226.3h0M238.7 226.9h0M263.4 230.5h0M267.2 229.7h0M223.5 232.6h0M243.2 231.4h0M268.6 232.4h0M326.7 234.7h0M225.7 237.6h0M247.8 236.2h0M272.8 238.5h0M314.0 236.9h0M276.0 241.0h0M246.5 242.4h0M325.1 243.4h0M258.5 244.6h0M273.5 243.6h0M307.3 245.0h0M320.8 243.6h0M322.9 244.4h0M217.9 247.2h0M231.1 247.3h0M266.2 247.7h0M274.7 247.3h0M251.8 250.5h0M262.4 251.1h0M276.8 250.3h0M317.4 250.1h0M323.2 250.1h0M236.7 253.4h0M242.3 252.5h0M260.7 251.9h0M263.2 253.4h0M249.5 255.8h0M280.7 254.7h0M229.1 256.9h0M235.3 257.3h0M334.5 256.1h0" stroke="#C08C64" stroke-width="2.0"/><path d="M230.6 175.1h0M328.5 174.1h0M244.0 177.5h0M286.3 177.0h0M299.9 177.5h0M328.7 178.1h0M300.1 180.4h0M254.9 181.2h0M233.7 185.2h0M248.4 184.8h0M312.9 184.5h0M219.8 186.7h0M248.0 189.9h0M223.8 192.0h0M321.0 195.5h0M308.9 197.2h0M220.6 202.2h0M232.4 201.3h0M242.1 202.0h0M232.9 207.6h0M318.6 208.0h0M239.0 209.1h0M342.5 211.4h0M319.8 214.1h0M247.2 216.5h0M327.1 218.9h0M338.8 224.2h0M331.7 228.9h0M233.3 235.2h0M234.6 233.9h0M245.8 241.0h0M333.8 240.8h0M337.1 239.9h0M315.8 245.9h0M280.2 248.4h0M304.1 246.3h0M220.1 252.3h0M238.7 252.1h0M333.9 255.0h0M263.5 256.1h0M277.7 256.4h0M324.6 257.4h0" stroke="#D6AC88" stroke-width="2.4"/><path d="M233.4 173.6h0M240.9 175.3h0M254.2 174.3h0M293.3 175.1h0M333.9 176.1h0M283.4 177.4h0M251.8 178.8h0M285.5 180.8h0M328.6 180.7h0M257.0 181.6h0M255.1 184.2h0M334.2 184.1h0M250.3 186.3h0M320.4 188.3h0M216.2 192.9h0M254.7 192.5h0M256.3 193.5h0M322.2 198.5h0M340.1 197.8h0M217.5 200.6h0M344.1 199.2h0M216.8 203.6h0M328.0 201.8h0M231.4 204.7h0M238.9 205.8h0M252.4 206.3h0M313.1 208.4h0M323.9 208.0h0M326.5 208.5h0M308.9 209.6h0M324.4 210.6h0M326.6 208.8h0M228.0 211.4h0M228.5 211.7h0M222.7 217.5h0M329.1 216.7h0M227.9 219.4h0M311.4 222.1h0M332.2 223.1h0M342.7 222.7h0M227.2 228.4h0M223.5 229.1h0M227.6 229.5h0M242.3 230.7h0M306.8 229.6h0M329.5 230.4h0M335.7 229.0h0M228.6 231.3h0M311.3 232.7h0M323.2 232.9h0M338.0 233.2h0M228.0 235.7h0M230.1 235.3h0M240.6 234.2h0M264.3 234.5h0M304.8 234.8h0M323.3 234.4h0M329.6 234.3h0M307.4 237.0h0M229.8 238.9h0M246.4 239.4h0M252.9 238.8h0M256.9 240.8h0M231.4 245.8h0M241.0 245.0h0M260.3 244.6h0M329.5 245.7h0M233.6 246.3h0M326.7 248.4h0M331.6 246.5h0M245.2 250.3h0M334.4 250.3h0M218.3 253.5h0M322.9 251.6h0M325.0 256.0h0M339.6 255.4h0M225.7 256.9h0" stroke="#D2A27C" stroke-width="1.6"/><path d="M245.0 173.7h0M342.3 176.0h0M241.5 178.0h0M298.4 176.8h0M315.8 176.2h0M224.2 179.3h0M296.5 178.7h0M246.9 182.8h0M232.7 183.9h0M248.9 185.1h0M249.6 189.4h0M322.7 190.7h0M326.3 189.8h0M218.5 192.7h0M253.1 191.1h0M305.7 194.7h0M307.2 196.0h0M324.8 197.4h0M236.2 200.9h0M243.6 199.4h0M257.7 202.9h0M304.1 203.2h0M344.5 202.8h0M252.5 205.2h0M255.2 204.1h0M330.8 203.6h0M335.1 204.9h0M226.3 206.8h0M317.1 208.1h0M227.1 210.8h0M321.3 209.4h0M342.7 209.3h0M219.8 212.4h0M329.3 211.1h0M239.1 214.9h0M305.5 214.9h0M306.2 214.6h0M325.2 214.4h0M341.2 216.0h0M224.8 218.6h0M343.4 217.7h0M231.5 221.4h0M310.1 222.5h0M324.3 222.1h0M330.2 222.0h0M216.2 225.9h0M242.2 223.8h0M266.8 225.2h0M323.9 225.9h0M234.2 229.1h0M245.9 229.1h0M323.8 230.7h0M343.3 231.1h0M222.3 233.1h0M259.2 232.9h0M327.4 231.6h0M216.7 235.5h0M261.2 236.0h0M312.4 235.7h0M218.7 238.3h0M310.4 237.8h0M317.0 238.2h0M319.1 237.3h0M315.5 239.7h0M234.6 243.1h0M280.4 243.3h0M328.4 241.6h0M328.6 243.2h0M241.3 245.3h0M244.4 246.5h0M314.8 248.0h0M313.7 253.1h0M316.3 251.9h0M325.6 251.9h0M239.9 255.0h0M263.5 255.0h0M321.6 255.1h0M247.2 257.2h0M256.4 257.6h0" stroke="#C08C64" stroke-width="1.6"/><path d="M257.4 175.1h0M260.8 173.8h0M333.0 174.7h0M249.7 178.3h0M293.7 176.2h0M240.6 179.1h0M320.4 183.2h0M220.0 185.8h0M229.1 184.5h0M301.7 184.2h0M332.5 184.3h0M227.8 187.6h0M233.7 187.3h0M246.7 188.1h0M327.4 188.2h0M330.5 187.4h0M218.7 188.9h0M222.7 191.2h0M335.0 191.6h0M259.7 194.1h0M250.3 197.2h0M330.3 198.2h0M332.4 196.2h0M264.8 199.0h0M315.5 199.1h0M222.7 203.0h0M225.9 203.4h0M262.7 202.4h0M335.3 202.8h0M338.6 204.6h0M239.4 207.1h0M258.8 206.9h0M336.8 208.1h0M221.5 210.0h0M252.6 209.9h0M255.9 209.9h0M247.2 213.2h0M305.9 211.8h0M324.3 212.3h0M339.7 212.1h0M228.4 215.2h0M216.9 216.4h0M231.6 218.1h0M261.7 217.9h0M223.8 220.7h0M230.3 219.4h0M307.6 220.1h0M333.7 220.6h0M336.3 220.3h0M229.2 222.9h0M314.3 221.7h0M320.8 223.0h0M333.8 221.9h0M224.8 225.5h0M231.9 225.8h0M260.5 224.6h0M328.1 224.3h0M247.0 228.5h0M263.9 228.2h0M317.8 227.6h0M248.7 230.9h0M231.9 232.9h0M310.4 231.3h0M331.5 231.5h0M241.2 235.8h0M266.8 233.6h0M274.0 235.2h0M335.5 235.7h0M337.9 233.8h0M328.3 236.3h0M331.6 237.6h0M333.7 237.5h0M249.2 238.8h0M255.2 239.8h0M263.4 239.8h0M322.9 240.0h0M222.3 243.4h0M257.2 241.7h0M341.8 241.5h0M218.3 244.3h0M252.8 245.1h0M242.7 248.5h0M268.2 250.4h0M269.9 253.0h0M278.4 251.9h0M245.4 254.9h0M303.9 254.3h0M227.6 257.0h0" stroke="#D2A27C" stroke-width="2.0"/><path d="M289.1 175.0h0M216.4 177.7h0M231.2 177.7h0M334.4 177.6h0M311.5 179.1h0M342.1 180.3h0M314.2 183.5h0M225.9 184.6h0M236.8 185.4h0M240.8 184.8h0M289.8 184.6h0M306.3 184.4h0M291.2 190.9h0M294.5 193.5h0M244.0 197.0h0M251.5 202.4h0M332.1 202.8h0M259.9 205.0h0M241.4 215.0h0M312.6 214.8h0M258.5 219.6h0M305.4 219.9h0M218.4 222.9h0M250.2 223.0h0M266.1 223.6h0M339.6 221.4h0M220.1 225.6h0M321.2 226.0h0M253.4 228.5h0M253.6 226.8h0M260.6 228.0h0M313.8 227.5h0M311.6 229.3h0M340.3 229.9h0M234.8 232.3h0M251.2 231.9h0M317.4 231.5h0M252.9 237.7h0M265.7 238.6h0M343.4 238.0h0M268.2 239.4h0M309.3 239.9h0M237.0 243.7h0M264.3 245.9h0M270.9 243.8h0M328.0 244.8h0M341.0 244.2h0M230.6 246.6h0M343.2 246.5h0M258.4 253.0h0M273.9 254.5h0M276.9 255.1h0M319.2 254.4h0M260.6 257.2h0" stroke="#CFA07A" stroke-width="2.4"/><path d="M301.1 174.0h0M253.6 178.0h0M308.1 178.7h0M313.6 180.8h0M334.3 180.7h0M337.0 178.7h0M241.1 182.4h0M244.5 183.2h0M252.2 182.4h0M291.4 182.4h0M320.8 183.8h0M338.8 186.0h0M308.0 188.3h0M343.8 187.0h0M255.8 189.9h0M298.9 190.2h0M308.8 191.0h0M328.7 189.1h0M249.5 192.9h0M310.3 192.0h0M319.9 192.0h0M338.5 191.7h0M223.8 195.8h0M233.0 195.6h0M299.3 195.6h0M223.4 197.3h0M246.4 199.1h0M252.1 199.8h0M237.2 201.8h0M319.6 203.4h0M339.1 202.1h0M315.4 204.4h0M249.3 207.1h0M216.5 208.9h0M229.0 210.6h0M223.3 212.4h0M256.0 213.3h0M310.2 211.5h0M316.0 212.2h0M326.0 211.2h0M316.6 214.2h0M330.4 215.1h0M239.3 216.3h0M338.7 217.0h0M265.7 219.6h0M341.5 220.8h0M226.7 223.4h0M246.0 223.1h0M247.5 224.9h0M320.2 225.7h0M335.0 224.5h0M234.5 228.4h0M230.7 230.9h0M236.6 229.6h0M238.9 230.8h0M252.4 230.1h0M256.9 230.4h0M266.5 232.6h0M319.2 233.5h0M254.2 235.0h0M306.2 234.6h0M254.9 236.6h0M266.5 237.1h0M274.4 237.4h0M217.5 239.5h0M241.2 240.7h0M275.2 242.3h0M343.8 243.6h0M230.1 245.5h0M271.1 245.6h0M223.6 246.5h0M310.7 246.9h0M272.1 249.8h0M318.5 251.0h0M227.6 251.7h0M228.8 252.3h0M271.1 251.9h0M243.3 253.9h0M221.2 257.5h0" stroke="#C6946C" stroke-width="2.0"/><path d="M306.7 174.9h0M315.1 175.9h0M317.6 174.6h0M326.1 175.1h0M229.5 176.6h0M248.4 176.4h0M258.5 176.8h0M324.1 177.7h0M220.5 178.9h0M221.9 180.3h0M243.0 180.9h0M321.4 180.9h0M229.9 181.8h0M234.4 182.3h0M240.4 181.4h0M300.8 183.0h0M336.9 183.2h0M342.0 182.4h0M317.7 185.9h0M254.3 186.2h0M217.2 190.0h0M297.7 189.3h0M311.9 190.4h0M319.1 190.8h0M234.3 191.9h0M329.0 193.0h0M301.4 195.5h0M225.3 197.0h0M344.9 197.1h0M231.8 199.1h0M242.5 201.0h0M303.7 200.5h0M310.5 198.8h0M329.1 199.9h0M250.3 202.6h0M301.0 201.2h0M307.5 202.2h0M341.2 201.2h0M309.6 204.6h0M316.5 205.0h0M321.6 205.1h0M219.3 208.3h0M235.1 207.4h0M340.1 206.4h0M219.3 210.2h0M233.3 209.0h0M236.0 209.0h0M304.5 210.5h0M263.4 211.8h0M307.1 212.3h0M318.0 211.2h0M333.1 212.3h0M343.6 213.3h0M228.6 214.3h0M238.4 215.5h0M244.8 215.6h0M233.7 217.9h0M316.0 218.3h0M327.2 218.4h0M314.2 220.1h0M257.7 223.3h0M239.4 226.1h0M254.1 224.2h0M304.4 223.7h0M310.0 224.4h0M333.2 225.8h0M263.3 227.9h0M312.4 227.1h0M333.8 226.7h0M272.2 231.0h0M318.5 229.9h0M238.1 232.8h0M248.7 231.5h0M256.3 231.7h0M273.3 231.3h0M315.6 232.6h0M344.7 232.7h0M247.3 234.8h0M343.4 234.5h0M227.9 238.6h0M236.3 240.4h0M331.7 239.5h0M231.6 243.4h0M250.8 243.5h0M270.8 243.0h0M315.5 242.9h0M331.6 242.4h0M309.3 245.5h0M344.0 245.0h0M220.3 247.5h0M252.1 247.2h0M255.7 246.8h0M238.3 251.0h0M239.4 249.4h0M241.8 250.9h0M327.2 249.1h0M339.3 249.4h0M268.7 254.6h0M329.0 255.6h0M343.6 255.7h0M337.2 257.2h0" stroke="#CFA07A" stroke-width="1.6"/><path d="M325.7 173.7h0M336.6 175.4h0M340.1 175.0h0M253.4 176.6h0M308.2 177.7h0M327.0 177.4h0M338.3 177.4h0M245.3 179.3h0M294.1 179.6h0M298.5 183.1h0M303.1 183.1h0M325.2 182.9h0M328.1 182.1h0M323.9 185.3h0M231.1 187.0h0M237.1 187.0h0M241.0 188.0h0M251.7 187.0h0M231.4 191.0h0M241.0 189.9h0M245.8 189.4h0M244.0 192.3h0M246.6 193.5h0M307.4 192.1h0M317.5 192.7h0M242.1 195.5h0M251.2 194.8h0M254.5 194.9h0M338.0 196.1h0M314.1 198.3h0M328.4 197.1h0M335.1 198.4h0M221.3 199.2h0M312.2 200.4h0M226.3 204.4h0M229.4 205.3h0M221.5 206.1h0M229.4 206.9h0M253.8 207.6h0M242.2 209.2h0M338.8 208.8h0M233.3 212.1h0M239.5 212.2h0M260.7 212.4h0M321.6 211.4h0M301.1 214.5h0M314.2 217.0h0M254.1 218.7h0M312.4 219.5h0M218.8 222.1h0M337.0 223.3h0M262.7 225.4h0M219.6 228.4h0M246.0 228.4h0M329.9 227.7h0M339.3 232.8h0M314.6 234.6h0M316.2 234.9h0M323.8 235.8h0M322.9 236.6h0M340.3 238.1h0M316.2 240.0h0M320.7 238.9h0M242.5 242.3h0M265.2 242.3h0M340.5 245.6h0M311.4 247.3h0M217.5 248.7h0M219.3 249.3h0M258.1 250.8h0M274.1 248.7h0M286.0 253.1h0M311.4 253.4h0M344.3 253.3h0M228.2 255.0h0M235.2 253.8h0M253.5 255.9h0M278.6 257.0h0M328.6 257.1h0" stroke="#D6AC88" stroke-width="2.0"/><path d="M221.6 177.6h0M246.9 179.6h0M327.8 179.7h0M300.7 186.5h0M339.8 189.2h0M341.3 189.8h0M227.9 193.2h0M299.6 192.0h0M324.4 193.5h0M339.1 195.2h0M241.2 197.2h0M257.1 197.1h0M228.6 199.1h0M240.6 199.6h0M325.5 199.3h0M233.9 203.3h0M244.7 203.4h0M246.9 202.6h0M259.0 208.7h0M251.7 218.7h0M227.0 224.8h0M336.6 223.9h0M321.4 228.3h0M324.6 228.5h0M339.7 228.1h0M319.0 234.5h0M331.5 235.3h0M231.7 237.5h0M239.0 236.6h0M258.5 237.4h0M268.7 240.7h0M238.9 241.9h0M321.4 243.1h0M254.9 243.7h0M324.3 246.1h0M336.1 244.1h0M260.3 246.9h0M270.7 247.2h0M277.6 247.4h0M218.6 254.7h0M310.2 255.8h0" stroke="#C6946C" stroke-width="2.4"/><path d="M302.0 176.9h0M257.5 179.8h0M259.8 183.3h0M332.2 181.1h0M288.4 184.3h0M239.1 192.3h0M261.4 192.2h0M233.4 196.9h0M259.3 198.6h0M220.7 199.5h0M322.0 206.5h0M317.5 210.3h0M318.5 212.3h0M334.5 216.1h0M241.3 216.3h0M231.1 220.9h0M324.1 220.3h0M264.0 222.3h0M221.6 225.4h0M245.1 224.7h0M318.0 225.9h0M310.3 228.3h0M232.1 228.9h0M276.7 229.8h0M318.8 230.8h0M321.2 230.8h0M264.4 232.2h0M340.4 235.0h0M244.7 236.4h0M262.7 237.4h0M260.8 241.5h0M319.1 247.7h0M225.9 249.5h0M247.9 249.8h0M249.3 250.0h0M319.9 251.4h0M254.5 254.8h0M318.4 256.0h0" stroke="#C08C64" stroke-width="2.4"/></g>
<g fill="none" stroke-linecap="round"><path d="M219.5 173.9h0M235.9 174.0h0M231.2 193.1h0M247.5 196.6h0M343.3 196.9h0M306.7 199.0h0M304.5 204.5h0M255.3 217.8h0M334.6 217.5h0M330.1 232.3h0M241.7 237.4h0" stroke="#D8CECC" stroke-width="1.6"/><path d="M239.4 175.3h0M340.9 174.9h0M303.5 180.2h0M323.7 179.6h0M332.4 177.6h0M245.4 183.2h0M333.2 182.4h0M238.8 189.0h0M339.1 188.9h0M258.0 197.3h0M341.2 198.7h0M304.6 214.4h0M309.9 220.0h0M234.6 222.7h0M256.8 222.8h0M313.2 221.0h0M341.8 222.8h0M310.0 228.1h0M337.2 229.0h0M338.2 233.6h0M312.4 239.1h0M313.6 243.7h0M231.5 256.2h0M239.7 253.7h0M327.6 254.8h0M338.1 255.6h0M238.1 256.8h0" stroke="#CCC2C4" stroke-width="2.0"/><path d="M252.1 176.1h0M294.8 179.9h0M314.5 179.3h0M228.1 182.7h0M289.9 183.4h0M255.9 191.3h0M254.2 192.9h0M329.5 192.8h0M218.7 196.4h0M246.5 199.9h0M237.7 205.2h0M327.0 207.4h0M243.6 212.9h0M250.7 211.6h0M238.4 215.0h0M236.5 219.0h0M264.7 223.3h0M315.6 222.5h0M222.5 226.2h0M226.2 225.6h0M236.6 224.8h0M259.2 224.4h0M256.2 229.0h0M321.6 231.5h0M232.5 235.8h0M273.8 237.2h0M318.4 238.2h0M324.4 235.9h0M231.2 248.9h0M258.4 246.7h0M308.4 251.6h0" stroke="#D8CECC" stroke-width="2.0"/><path d="M290.5 174.1h0M304.4 181.8h0M307.3 182.9h0M252.1 186.7h0M321.1 185.9h0M310.4 188.3h0M332.7 189.6h0M246.7 192.6h0M344.8 194.3h0M249.9 196.6h0M251.8 199.9h0M314.4 200.9h0M336.7 205.3h0M311.7 210.5h0M259.8 244.7h0M232.2 252.1h0M249.9 254.9h0M313.8 255.0h0" stroke="#D4CACA" stroke-width="2.0"/><path d="M234.0 179.4h0M297.3 185.5h0M336.3 187.2h0M304.4 197.0h0M330.3 206.5h0M331.7 213.8h0M248.1 240.7h0M276.5 252.0h0" stroke="#CCC2C4" stroke-width="1.6"/><path d="M235.9 179.9h0M258.0 184.4h0M293.7 185.4h0M220.7 197.9h0M230.1 199.7h0M335.5 207.5h0M326.9 212.4h0M252.5 213.6h0M232.7 217.9h0M306.1 232.9h0M334.2 237.2h0M317.7 240.2h0M219.2 250.9h0M311.4 250.8h0M265.9 255.5h0" stroke="#D4CACA" stroke-width="2.4"/><path d="M260.9 179.7h0M250.2 189.3h0M296.6 188.3h0M237.0 213.7h0M261.3 215.1h0M245.1 222.1h0M217.3 230.6h0M228.9 228.2h0M274.9 238.4h0M342.1 244.9h0M343.8 249.0h0M308.6 256.1h0M343.6 253.3h0" stroke="#D4CACA" stroke-width="1.6"/><path d="M317.7 179.6h0M235.4 191.7h0M321.3 200.7h0M218.6 210.6h0M256.5 212.6h0M226.9 234.2h0M218.3 235.6h0M227.7 238.0h0M313.6 236.8h0M234.5 240.3h0M340.7 242.7h0M327.7 248.7h0M285.7 255.4h0" stroke="#D0C6C6" stroke-width="2.4"/><path d="M233.3 184.1h0M259.7 183.9h0M343.9 183.6h0M257.9 209.4h0M227.1 215.9h0M303.9 221.6h0M238.2 227.8h0M232.8 244.3h0M251.0 249.6h0" stroke="#D0C6C6" stroke-width="1.6"/><path d="M253.6 180.9h0M302.3 187.9h0M294.8 188.4h0M254.9 201.2h0M223.3 205.8h0M255.3 203.2h0M321.4 220.7h0M344.4 250.9h0" stroke="#CCC2C4" stroke-width="2.4"/><path d="M304.3 186.8h0M218.5 190.8h0M311.6 199.8h0M229.0 203.9h0M242.5 204.8h0M309.2 204.9h0M219.2 227.4h0M337.7 224.9h0M226.3 232.0h0M244.2 233.6h0M246.6 234.5h0M278.0 232.9h0M321.6 241.1h0M274.5 245.2h0M273.4 245.7h0M326.4 248.8h0M271.5 252.1h0M246.9 253.7h0" stroke="#D8CECC" stroke-width="2.4"/><path d="M307.0 184.8h0M235.3 188.8h0M311.7 191.9h0M300.5 197.5h0M235.1 200.6h0M341.1 203.9h0M318.9 220.2h0M339.2 225.1h0M243.8 231.2h0M251.2 227.8h0M341.7 232.3h0M239.2 236.2h0M228.3 241.9h0M221.2 243.4h0M248.4 242.4h0M222.3 251.2h0M227.3 252.5h0M229.7 257.1h0M275.9 257.5h0" stroke="#D0C6C6" stroke-width="2.0"/></g>
<g fill="none" stroke-linecap="round"><path d="M262.1 175.0h0M262.7 177.9h0M314.3 177.0h0M262.5 183.0h0M268.4 181.3h0M276.4 190.3h0M316.4 189.7h0M267.7 198.8h0M295.7 201.8h0M289.2 205.0h0M293.3 205.6h0M269.0 206.8h0M273.7 208.4h0M290.7 208.7h0M288.8 211.1h0M267.9 215.0h0M273.2 217.7h0M283.4 217.6h0M294.4 217.1h0M274.9 222.5h0M290.8 221.6h0M292.6 224.3h0M278.4 226.9h0M305.9 229.4h0M312.9 235.3h0M260.4 237.4h0M291.1 239.9h0M264.1 244.3h0M293.6 257.1h0" stroke="#BC6C58" stroke-width="2.4"/><path d="M264.4 174.1h0M273.6 173.6h0M265.4 176.5h0M268.6 177.1h0M300.2 178.6h0M267.8 178.9h0M223.0 181.9h0M269.5 182.7h0M307.3 182.9h0M292.3 188.2h0M266.5 190.1h0M287.3 192.7h0M293.8 192.9h0M260.3 195.6h0M267.5 205.1h0M272.4 203.6h0M274.7 204.2h0M278.1 205.3h0M300.5 205.4h0M271.5 206.5h0M287.8 207.2h0M271.4 209.2h0M294.4 211.0h0M274.9 214.6h0M310.5 218.3h0M292.5 218.7h0M268.3 222.1h0M298.1 221.9h0M301.8 223.0h0M277.0 232.1h0M292.6 232.1h0M295.3 232.5h0M289.0 234.2h0M235.4 237.2h0M296.5 237.0h0M286.5 246.2h0M273.7 250.5h0M287.6 252.5h0M308.5 252.4h0M292.7 255.8h0M288.3 257.1h0" stroke="#BC6C58" stroke-width="1.6"/><path d="M266.8 173.7h0M277.3 174.1h0M275.9 176.3h0M265.6 182.1h0M218.9 184.6h0M285.7 184.1h0M274.3 188.0h0M275.8 190.7h0M289.4 189.7h0M274.0 191.8h0M279.8 193.3h0M274.7 195.9h0M285.4 197.2h0M287.0 199.7h0M290.2 200.1h0M288.8 202.9h0M264.3 205.9h0M286.2 210.3h0M270.7 212.1h0M276.5 212.7h0M294.7 212.0h0M263.6 217.3h0M288.7 218.0h0M268.1 218.8h0M277.5 219.4h0M281.4 220.4h0M290.9 220.9h0M283.5 223.2h0M273.2 225.1h0M284.4 228.5h0M284.2 228.7h0M282.7 238.4h0M288.6 239.4h0M288.3 244.9h0M290.4 247.8h0M295.2 246.8h0M241.2 250.6h0M305.2 257.4h0" stroke="#9C4C3C" stroke-width="1.6"/><path d="M268.9 174.9h0M277.4 177.8h0M281.7 176.8h0M281.6 180.8h0M272.1 183.0h0M223.4 187.1h0M273.2 188.1h0M283.7 188.3h0M269.1 191.1h0M224.3 192.4h0M268.3 191.1h0M292.9 198.2h0M301.9 198.5h0M296.3 208.3h0M300.1 206.6h0M303.0 206.5h0M283.9 212.5h0M286.6 212.9h0M292.9 215.8h0M268.2 216.8h0M292.3 217.9h0M219.0 219.8h0M285.1 220.2h0M269.4 223.2h0M299.7 222.8h0M295.8 227.2h0M336.1 230.2h0M269.0 235.1h0M313.8 234.5h0M294.3 240.0h0M302.4 244.8h0M303.6 247.0h0M295.0 250.0h0" stroke="#A85C4C" stroke-width="2.4"/><path d="M271.9 174.7h0M280.6 175.3h0M280.5 177.3h0M296.6 179.5h0M278.0 182.8h0M268.7 186.7h0M289.1 195.5h0M301.9 195.1h0M276.2 196.5h0M330.8 197.0h0M282.7 198.7h0M221.5 206.3h0M283.6 207.2h0M217.1 215.2h0M277.2 214.9h0M280.3 219.6h0M272.5 221.2h0M295.2 226.1h0M303.2 224.6h0M287.0 228.0h0M293.7 230.3h0M256.8 234.6h0M281.2 240.7h0M279.1 242.1h0M283.4 243.5h0M229.0 243.7h0M294.6 243.9h0M220.8 247.7h0M304.1 251.3h0" stroke="#B46250" stroke-width="2.4"/><path d="M283.1 175.8h0M286.6 175.4h0M276.8 180.7h0M225.8 184.2h0M264.3 185.9h0M268.3 186.0h0M287.0 186.5h0M287.9 190.9h0M233.0 192.9h0M294.9 196.9h0M237.3 201.4h0M283.5 203.5h0M269.1 205.5h0M297.9 208.7h0M279.2 212.2h0M270.5 214.3h0M313.7 215.2h0M240.8 217.7h0M280.2 217.5h0M288.0 219.6h0M281.0 223.3h0M297.9 225.5h0M299.5 225.5h0M299.6 229.8h0M326.1 229.3h0M251.1 235.7h0M283.1 235.4h0M298.8 235.0h0M302.9 234.5h0M285.2 236.5h0M325.1 237.0h0M298.3 240.8h0M291.3 242.2h0M307.9 245.4h0M277.6 248.5h0M339.5 250.3h0M303.4 257.5h0" stroke="#A85440" stroke-width="2.0"/><path d="M255.1 176.6h0M271.8 178.1h0M283.2 181.2h0M238.5 184.9h0M249.1 185.9h0M277.6 184.6h0M276.3 188.6h0M270.5 191.2h0M263.7 195.2h0M293.5 194.7h0M272.3 197.8h0M277.8 200.9h0M285.6 199.4h0M267.6 201.8h0M287.9 201.9h0M301.1 203.8h0M279.5 208.2h0M292.5 207.1h0M244.6 208.8h0M272.0 211.7h0M285.4 215.2h0M286.4 214.2h0M340.5 214.8h0M300.9 219.4h0M274.1 225.9h0M273.8 230.9h0M288.5 229.8h0M298.9 231.2h0M334.5 237.3h0M287.2 239.6h0M298.3 242.9h0M290.9 243.9h0M299.3 248.1h0M287.7 250.8h0M280.6 256.4h0" stroke="#B46250" stroke-width="2.0"/><path d="M258.6 176.7h0M260.1 179.5h0M264.5 178.8h0M278.7 181.9h0M286.2 183.3h0M282.1 183.8h0M266.7 186.1h0M284.6 190.1h0M271.2 191.7h0M282.4 195.8h0M273.5 198.2h0M290.6 198.4h0M279.4 198.9h0M282.8 203.5h0M302.0 203.1h0M324.9 204.0h0M264.5 209.0h0M280.3 210.8h0M285.5 209.6h0M238.1 212.5h0M276.2 217.2h0M301.6 220.7h0M283.4 224.0h0M289.5 227.7h0M293.3 226.5h0M326.2 226.9h0M280.1 234.6h0M293.8 233.7h0M287.7 237.9h0M294.8 237.9h0M300.3 238.0h0M304.5 236.4h0M317.3 243.8h0M285.5 246.3h0M296.7 247.7h0M336.5 247.3h0M248.3 249.8h0M285.3 250.8h0M296.1 250.1h0M289.7 251.6h0M293.7 252.1h0M299.8 253.5h0M308.9 251.2h0" stroke="#A85C4C" stroke-width="2.0"/><path d="M268.6 179.0h0M273.2 183.8h0M275.6 184.3h0M286.8 185.1h0M278.7 186.9h0M288.7 187.2h0M288.6 193.0h0M280.1 197.9h0M287.0 198.3h0M249.6 199.7h0M273.0 203.3h0M278.1 206.2h0M268.5 209.2h0M292.7 210.2h0M301.2 211.0h0M267.5 212.3h0M300.2 213.9h0M301.9 215.0h0M302.9 217.6h0M282.7 223.1h0M286.6 223.7h0M305.5 225.5h0M277.2 229.5h0M285.3 232.1h0M272.8 238.8h0M299.6 240.1h0M301.1 241.0h0M305.8 239.6h0M298.9 242.0h0M293.2 244.9h0M302.6 246.7h0M286.6 255.4h0" stroke="#A85C4C" stroke-width="1.6"/><path d="M273.5 181.0h0M273.8 181.6h0M265.4 188.0h0M264.8 190.3h0M271.1 189.9h0M278.6 188.8h0M330.5 193.3h0M265.3 198.4h0M269.6 201.0h0M279.1 205.4h0M239.9 209.8h0M281.5 214.6h0M285.8 224.4h0M256.6 232.0h0M274.5 234.0h0M281.0 240.8h0M294.6 253.9h0M298.3 254.1h0" stroke="#A85440" stroke-width="2.4"/><path d="M275.3 179.5h0M283.4 190.5h0M278.5 191.8h0M281.7 191.8h0M292.5 200.5h0M274.3 210.7h0M291.5 211.5h0M298.5 211.5h0M300.5 211.1h0M287.5 216.8h0M273.2 219.6h0M273.9 220.3h0M287.7 222.2h0M290.2 224.1h0M281.6 228.7h0M280.1 231.2h0M282.2 233.3h0M283.9 234.8h0M220.3 243.5h0M288.7 243.0h0M302.8 243.2h0M285.4 245.7h0M299.2 249.0h0M317.2 255.5h0" stroke="#9C4C3C" stroke-width="2.4"/><path d="M279.3 180.4h0M246.2 182.9h0M267.2 195.3h0M269.1 195.5h0M284.8 194.2h0M239.7 196.5h0M275.7 200.8h0M274.2 203.4h0M279.5 201.7h0M292.3 203.3h0M288.5 205.3h0M282.6 208.2h0M288.6 208.6h0M300.6 211.0h0M283.1 213.0h0M306.4 211.2h0M296.7 218.3h0M259.8 221.3h0M278.0 223.6h0M281.0 228.3h0M296.2 230.4h0M272.6 235.4h0M286.3 234.8h0M342.7 234.4h0M291.4 237.7h0M283.6 240.8h0M294.0 241.7h0M312.3 244.4h0M290.6 255.1h0M300.5 254.6h0M302.8 254.4h0M304.2 253.7h0" stroke="#9C4C3C" stroke-width="2.0"/><path d="M308.7 183.4h0M263.1 185.9h0M281.6 187.0h0M263.4 192.5h0M337.1 193.9h0M267.6 196.2h0M281.0 197.7h0M296.7 203.9h0M262.1 210.1h0M282.7 210.0h0M248.7 218.2h0M291.2 222.3h0M336.7 221.2h0M297.7 226.1h0M298.7 227.2h0M287.8 229.9h0M301.7 229.6h0M296.0 235.6h0M303.7 234.9h0M284.2 243.4h0M299.0 244.2h0M281.2 252.0h0" stroke="#BC6C58" stroke-width="2.0"/><path d="M259.7 185.3h0M293.7 186.6h0M284.5 192.8h0M286.5 195.4h0M297.8 203.5h0M284.0 204.1h0M273.6 213.0h0M270.3 218.3h0M299.5 218.2h0M295.7 220.4h0M330.4 220.3h0M295.8 222.9h0M269.4 224.5h0M277.0 225.0h0M280.3 225.8h0M342.3 225.4h0M288.3 232.9h0M289.5 232.0h0M296.8 232.7h0M307.8 242.9h0M296.4 244.3h0M298.2 251.4h0" stroke="#A85440" stroke-width="1.6"/><path d="M279.5 184.0h0M296.0 191.8h0M272.6 195.6h0M276.2 194.2h0M279.5 194.3h0M264.2 200.1h0M271.5 200.3h0M265.6 203.6h0M269.0 202.8h0M316.9 201.6h0M262.6 204.4h0M294.6 204.5h0M295.7 207.6h0M270.8 211.0h0M272.6 214.9h0M289.2 213.9h0M297.4 215.5h0M274.8 217.8h0M273.5 227.6h0M281.0 226.8h0M279.0 230.5h0M292.3 230.9h0M282.5 245.5h0M281.4 246.1h0M292.8 247.7h0M283.2 255.1h0M312.4 254.7h0M296.0 256.2h0" stroke="#B46250" stroke-width="1.6"/></g>
</g>
<g filter="url(#bl1)"><path d="M285.0,200.0 L290.0,196.5 L297.0,196.5 L299.5,200.0 L299.5,207.0 L298.0,214.0 L295.0,218.5 L289.5,218.0 L286.0,213.5 L284.0,207.0 Z" fill="#F3F1EF"/><path d="M240.0,240.5 L243.0,236.0 L249.0,231.0 L255.5,227.2 L257.0,229.0 L254.0,233.5 L249.0,237.5 L243.0,240.5 Z" fill="#F2EFEC"/></g>
</g>
<rect x="221.7" y="247.6" width="26.1" height="2.6" fill="#000"/>
<text x="224.2" y="189.4" font-size="12.5" font-weight="bold" fill="#000">i</text>
<g clip-path="url(#c_ii)">
<rect x="348.5" y="173.6" width="129.8" height="84.4" fill="#E8CAAE"/>
<ellipse cx="368" cy="186" rx="24" ry="15" fill="#DDD2CE" filter="url(#bl5)"/>
<path d="M397.5,182.3 L410.4,179.7 L425.9,178.4 L436.2,187.5 L454.2,192.6 L464.6,200.4 L467.1,218.4 L462.0,236.4 L449.0,241.6 L436.2,240.3 L423.3,236.4 L410.4,237.7 L397.5,233.9 L384.7,233.9 L376.9,241.6 L361.5,242.9 L346.0,241.6 L346.0,210.7 L361.5,208.0 L374.4,210.7 L389.8,202.9 L397.5,192.6 Z" fill="#CE9878" filter="url(#bl3)"/>
<ellipse cx="392" cy="236" rx="20" ry="9" fill="#E2C0AA" filter="url(#bl3)"/>
<g fill="none" stroke-linecap="round" opacity="0.5"><path d="M372.8 177.6h0M394.2 181.1h0M354.6 195.9h0M369.7 195.6h0M407.6 237.0h0M353.4 244.0h0M449.5 243.5h0M371.0 248.1h0M386.9 250.1h0M401.9 249.7h0M448.0 253.4h0M358.9 257.9h0" stroke="#E0BC9C" stroke-width="4.0"/><path d="M386.2 174.6h0M461.5 175.4h0M403.6 178.3h0M450.8 178.5h0M363.4 182.9h0M370.0 188.2h0M397.9 186.2h0M439.5 186.8h0M373.1 193.8h0M462.8 226.7h0M447.6 236.6h0M412.8 239.6h0M377.0 245.0h0M372.6 252.2h0M455.9 249.3h0M461.1 254.4h0" stroke="#D0A47E" stroke-width="4.0"/><path d="M390.9 174.9h0M376.1 178.7h0M372.1 183.7h0M442.9 185.2h0M476.3 190.9h0M351.2 198.0h0M362.9 198.3h0M453.4 197.1h0M459.0 197.8h0M355.4 199.1h0M429.4 202.4h0M464.6 199.0h0M477.6 201.0h0M348.6 216.2h0M466.3 216.5h0M471.8 224.1h0M405.8 235.1h0M415.1 248.5h0M430.6 250.1h0M349.4 255.7h0" stroke="#D8B08C" stroke-width="4.0"/><path d="M396.9 176.4h0M429.5 181.8h0M469.8 181.7h0M464.8 183.4h0M376.3 187.7h0M444.5 190.2h0M454.5 189.7h0M385.0 200.9h0M407.0 200.0h0M365.9 205.9h0M351.0 211.2h0M406.3 223.6h0M441.8 237.6h0M379.3 242.4h0M399.2 242.7h0M419.8 242.1h0M443.8 248.3h0M353.1 249.3h0M443.2 249.3h0" stroke="#D8B08C" stroke-width="4.8"/><path d="M401.8 174.1h0M379.8 181.0h0M390.4 179.4h0M380.4 188.7h0M365.4 198.1h0M370.6 210.3h0M470.4 217.4h0M439.8 234.2h0M434.4 242.4h0M459.6 243.6h0M367.3 247.5h0M420.8 251.5h0M410.3 254.1h0M453.2 256.9h0M455.6 254.2h0" stroke="#D8B08C" stroke-width="4.4"/><path d="M404.7 176.1h0M472.1 175.2h0M397.0 179.7h0M465.7 180.1h0M388.8 200.3h0M414.1 233.8h0M392.9 240.2h0M422.5 241.1h0M382.0 248.3h0M405.1 248.2h0M436.1 245.3h0M469.3 246.3h0M383.2 252.4h0M361.3 257.4h0" stroke="#CCA084" stroke-width="3.6"/><path d="M412.5 175.7h0M440.2 181.4h0M390.2 188.5h0M459.3 191.3h0M472.1 197.9h0M461.4 233.2h0M397.0 244.4h0M473.5 243.7h0M391.4 245.6h0" stroke="#E0BC9C" stroke-width="3.2"/><path d="M423.4 173.7h0M360.7 179.6h0M444.1 178.7h0M433.9 193.8h0M451.7 191.8h0M362.1 204.8h0M391.8 204.1h0M382.4 209.6h0M425.3 211.0h0M402.8 247.2h0M418.7 257.5h0" stroke="#D0A47E" stroke-width="3.6"/><path d="M424.9 175.3h0M367.0 178.1h0M457.0 178.8h0M386.2 182.2h0M356.6 193.7h0M361.0 191.6h0M372.0 199.9h0M450.5 224.3h0M438.6 232.4h0M353.2 246.2h0M429.9 245.5h0M419.2 253.2h0M470.2 255.2h0" stroke="#CCA084" stroke-width="4.0"/><path d="M437.6 174.4h0M440.9 176.6h0M351.0 178.0h0M373.2 179.7h0M382.2 181.1h0M458.4 180.3h0M468.4 182.8h0M473.5 186.4h0M470.6 232.8h0M392.3 242.4h0M453.9 243.8h0M363.1 247.4h0M470.9 246.9h0" stroke="#CCA084" stroke-width="3.2"/><path d="M449.1 177.5h0M359.4 183.3h0M455.6 194.4h0M352.1 201.9h0M383.7 205.1h0M439.8 212.0h0M378.9 221.9h0M477.0 223.2h0M468.5 236.1h0M389.0 242.0h0M388.1 248.7h0M421.3 247.6h0M380.7 253.1h0M357.9 257.2h0M440.6 257.1h0" stroke="#D8B08C" stroke-width="3.6"/><path d="M449.3 175.4h0M445.4 186.6h0M386.4 192.7h0M393.1 190.6h0M365.3 202.7h0M473.1 228.4h0M401.9 234.3h0M470.3 237.4h0M463.7 243.7h0M437.4 247.2h0M374.6 253.0h0" stroke="#D0A47E" stroke-width="4.4"/><path d="M457.4 175.9h0M353.1 178.2h0M413.5 178.7h0M389.4 182.9h0M353.4 187.1h0M369.2 188.5h0M468.7 186.6h0M360.3 197.9h0M397.8 222.8h0M395.8 234.5h0M411.7 244.3h0M364.1 251.7h0M411.2 250.4h0" stroke="#CCA084" stroke-width="4.8"/><path d="M463.0 176.7h0M448.9 180.1h0M430.2 233.5h0M477.4 243.4h0M378.3 254.0h0" stroke="#D0A47E" stroke-width="5.2"/><path d="M361.4 180.5h0M359.1 200.4h0M403.2 244.0h0M453.4 247.0h0" stroke="#D0A47E" stroke-width="3.2"/><path d="M349.5 182.1h0M365.8 199.4h0M474.2 201.7h0M476.6 215.0h0M398.4 231.6h0M383.4 236.0h0M382.3 239.1h0M420.3 237.0h0M445.6 244.8h0M360.4 247.7h0M397.2 248.9h0M424.4 247.4h0M422.7 256.5h0" stroke="#E0BC9C" stroke-width="4.4"/><path d="M375.6 184.6h0M464.2 197.3h0M395.6 253.6h0M443.8 255.4h0" stroke="#D8B08C" stroke-width="5.2"/><path d="M476.6 185.8h0M350.9 188.8h0M364.4 194.4h0M456.4 196.8h0M351.5 204.0h0M381.7 206.4h0M355.4 229.9h0M462.0 235.9h0M401.3 239.0h0M372.3 241.2h0M431.3 243.6h0M351.2 247.7h0M448.0 246.8h0M366.1 255.5h0" stroke="#CCA084" stroke-width="4.4"/><path d="M476.3 188.4h0M383.0 191.8h0M447.3 191.1h0M467.5 191.7h0M377.0 198.4h0M374.7 211.6h0M465.3 215.9h0M350.1 253.2h0M437.7 252.6h0M477.0 257.4h0" stroke="#E0BC9C" stroke-width="3.6"/><path d="M394.9 193.2h0M377.1 205.5h0M411.9 205.6h0M421.5 205.0h0M396.6 228.2h0M393.7 229.0h0M477.1 231.0h0M471.7 236.9h0" stroke="#D0A47E" stroke-width="4.8"/><path d="M432.3 192.0h0M464.3 190.5h0M473.6 194.3h0M379.9 209.0h0M407.3 213.7h0M416.5 240.0h0M469.0 240.9h0M406.9 249.8h0M434.8 250.3h0M477.7 250.5h0M370.0 256.7h0M462.7 257.4h0" stroke="#E0BC9C" stroke-width="5.2"/><path d="M381.4 196.1h0M478.1 206.3h0M443.1 232.8h0M448.8 251.9h0M451.1 252.6h0M460.6 249.6h0" stroke="#CCA084" stroke-width="5.2"/><path d="M469.6 197.5h0M397.9 219.0h0M474.0 220.0h0M396.5 240.0h0M424.3 237.3h0M424.8 250.2h0M463.3 253.0h0M405.1 257.3h0" stroke="#E0BC9C" stroke-width="4.8"/><path d="M353.6 206.3h0M460.8 247.0h0" stroke="#D8B08C" stroke-width="3.2"/></g>
<g filter="url(#bd)">
<g fill="none" stroke-linecap="round"><path d="M350.7 176.0h0M386.6 176.0h0M435.5 174.3h0M440.8 175.2h0M460.3 174.7h0M373.8 176.9h0M418.0 178.0h0M375.6 182.8h0M477.5 181.1h0M423.6 184.8h0M392.4 187.5h0M470.4 186.5h0M362.3 191.3h0M391.4 192.2h0M348.9 194.5h0M379.1 195.6h0M475.0 195.6h0M355.1 197.1h0M475.6 198.8h0M373.9 202.5h0M377.9 202.0h0M391.3 201.9h0M367.5 205.0h0M476.3 207.5h0M367.1 214.4h0M371.6 216.3h0M395.8 232.7h0M397.8 233.3h0M420.1 237.0h0M373.8 239.6h0M401.7 239.5h0M404.3 240.6h0M438.0 240.0h0M475.0 240.5h0M478.2 240.0h0M402.5 242.7h0M403.8 242.4h0M453.3 241.2h0M474.8 241.3h0M380.3 244.8h0M388.9 245.6h0M398.4 246.0h0M432.7 245.8h0M443.8 244.2h0M451.3 245.6h0M424.3 246.5h0M351.3 248.8h0M422.9 250.6h0M439.5 250.8h0M428.1 252.2h0M459.2 252.0h0M369.2 255.7h0M402.5 255.3h0M421.3 254.9h0M461.8 255.2h0M474.5 253.9h0M381.6 257.2h0M394.6 257.9h0M410.9 257.7h0M427.1 257.4h0M448.3 256.2h0" stroke="#C6946C" stroke-width="2.0"/><path d="M353.1 176.1h0M412.3 174.1h0M470.7 174.1h0M363.8 178.0h0M399.8 176.7h0M426.6 177.9h0M385.1 178.8h0M395.0 181.1h0M408.8 178.8h0M422.2 178.8h0M440.3 179.2h0M443.0 179.2h0M352.1 182.3h0M368.4 182.9h0M369.9 182.1h0M379.0 181.7h0M351.1 184.9h0M361.2 184.3h0M373.1 186.1h0M387.6 184.0h0M453.4 185.5h0M470.5 185.4h0M466.9 186.9h0M474.8 186.7h0M368.8 192.0h0M474.1 193.5h0M389.2 195.2h0M463.8 195.8h0M358.2 198.5h0M348.6 199.3h0M377.8 200.2h0M465.0 200.5h0M467.6 198.9h0M476.9 198.7h0M375.7 205.6h0M374.9 208.5h0M378.7 207.3h0M466.9 207.7h0M354.2 210.7h0M476.2 214.6h0M478.1 230.0h0M376.5 234.3h0M468.4 235.8h0M374.6 238.0h0M398.6 239.1h0M408.2 240.6h0M419.7 240.4h0M462.9 238.7h0M388.3 242.8h0M455.6 242.4h0M376.9 244.4h0M464.8 244.2h0M414.0 246.5h0M350.5 249.2h0M364.5 249.1h0M439.0 253.9h0M358.5 257.8h0M362.1 256.2h0" stroke="#CFA07A" stroke-width="1.6"/><path d="M358.3 174.2h0M417.5 175.0h0M442.2 174.4h0M371.2 177.3h0M456.9 177.5h0M373.4 179.7h0M384.4 183.2h0M392.5 182.6h0M365.0 184.0h0M370.3 185.6h0M399.7 184.1h0M449.7 183.9h0M372.9 187.6h0M348.6 192.0h0M373.6 195.0h0M377.5 196.5h0M460.4 197.3h0M474.6 197.7h0M371.3 200.5h0M455.5 198.9h0M373.4 202.8h0M351.5 203.7h0M361.8 205.5h0M363.7 208.2h0M377.0 206.8h0M473.4 218.3h0M392.4 229.0h0M387.2 232.6h0M401.6 233.1h0M470.0 234.7h0M385.6 238.3h0M398.5 237.4h0M406.0 238.1h0M470.2 236.4h0M377.9 240.1h0M425.2 240.7h0M458.4 239.3h0M384.3 241.1h0M419.2 242.7h0M436.2 243.4h0M459.7 241.3h0M348.8 243.8h0M362.4 245.6h0M406.3 244.9h0M416.8 245.8h0M473.4 244.1h0M474.6 243.7h0M352.4 248.2h0M366.2 248.5h0M439.5 248.1h0M378.0 250.6h0M426.5 250.9h0M441.0 248.8h0M361.9 253.3h0M404.0 252.2h0M441.7 251.6h0M462.9 253.3h0M355.0 254.3h0M383.9 257.0h0M399.9 256.7h0" stroke="#D2A27C" stroke-width="1.6"/><path d="M360.4 173.9h0M374.6 175.7h0M409.6 174.4h0M383.5 178.5h0M420.2 176.3h0M435.7 177.5h0M470.3 178.1h0M388.8 180.6h0M410.5 182.5h0M419.3 181.9h0M367.7 184.5h0M384.4 186.0h0M392.2 185.7h0M413.7 184.4h0M463.0 184.4h0M464.4 185.2h0M362.6 187.1h0M382.5 187.8h0M464.6 188.3h0M361.9 190.6h0M452.4 189.8h0M362.8 195.2h0M372.0 194.9h0M460.1 195.0h0M362.3 198.6h0M389.0 196.3h0M465.1 198.2h0M468.2 196.2h0M476.2 198.5h0M351.9 202.0h0M386.9 202.6h0M468.3 203.0h0M372.2 206.2h0M472.5 211.4h0M469.2 219.9h0M476.7 227.6h0M386.0 229.8h0M407.2 233.3h0M468.7 231.9h0M385.3 234.2h0M391.0 238.2h0M387.3 240.7h0M394.5 240.0h0M396.2 241.0h0M470.0 239.8h0M348.9 242.2h0M392.4 243.1h0M399.5 242.9h0M423.4 243.1h0M429.0 243.5h0M438.7 241.7h0M394.8 245.8h0M380.3 246.4h0M408.8 247.6h0M433.7 247.8h0M444.0 248.2h0M446.3 247.5h0M448.8 247.8h0M453.7 248.1h0M461.8 247.2h0M354.4 249.4h0M369.3 248.7h0M396.5 250.6h0M416.6 250.9h0M425.3 249.7h0M400.7 253.6h0M408.0 253.2h0M419.9 252.6h0M393.1 253.6h0M410.8 255.3h0M424.0 255.0h0M431.0 255.8h0M370.1 256.7h0M463.5 257.0h0" stroke="#C08C64" stroke-width="1.6"/><path d="M364.9 174.8h0M399.9 176.0h0M432.1 175.6h0M451.2 174.4h0M357.0 176.7h0M447.2 177.1h0M448.5 178.2h0M474.9 176.5h0M443.7 181.3h0M466.1 181.2h0M356.8 186.0h0M352.9 186.1h0M444.5 188.8h0M470.5 189.9h0M470.7 192.9h0M351.4 195.7h0M357.9 195.7h0M384.5 195.2h0M472.3 195.5h0M462.3 196.2h0M471.9 196.1h0M472.5 202.2h0M471.5 204.6h0M475.1 218.8h0M469.3 222.8h0M371.7 233.4h0M369.1 240.5h0M434.9 239.7h0M466.4 245.0h0M361.0 248.0h0M456.6 246.4h0M415.1 253.0h0M436.9 252.7h0M377.6 254.4h0M381.8 253.9h0M396.5 254.5h0M417.7 257.9h0" stroke="#C08C64" stroke-width="2.4"/><path d="M367.1 174.5h0M476.5 174.7h0M350.1 176.6h0M355.7 176.5h0M377.0 177.5h0M431.0 178.1h0M473.1 176.7h0M383.2 179.1h0M423.7 180.9h0M433.1 179.4h0M469.5 180.7h0M377.2 181.3h0M389.2 181.6h0M404.3 182.0h0M359.4 185.6h0M390.6 184.7h0M440.7 185.4h0M355.3 186.6h0M375.7 188.4h0M443.6 186.9h0M446.3 186.8h0M366.2 189.5h0M462.9 190.8h0M376.5 193.1h0M382.3 193.2h0M397.7 192.4h0M460.4 191.1h0M467.2 191.8h0M382.4 194.7h0M461.3 194.6h0M367.6 197.6h0M373.0 197.5h0M393.3 196.5h0M471.1 199.9h0M470.6 201.6h0M475.8 208.0h0M469.3 229.6h0M474.8 233.3h0M388.7 236.1h0M406.7 236.1h0M465.3 233.7h0M383.4 236.5h0M429.5 236.5h0M389.4 239.5h0M473.4 239.4h0M370.4 241.8h0M398.2 242.0h0M448.1 242.6h0M386.4 245.2h0M429.8 244.9h0M440.4 244.4h0M470.0 244.6h0M452.0 247.0h0M476.2 246.7h0M382.8 249.4h0M389.2 249.2h0M411.5 250.2h0M384.8 251.6h0M401.8 251.9h0M440.2 252.0h0M454.1 251.4h0M477.8 253.2h0M384.2 254.8h0M442.2 257.8h0" stroke="#C6946C" stroke-width="1.6"/><path d="M369.4 175.2h0M437.4 173.9h0M465.1 175.8h0M370.3 178.0h0M380.6 177.6h0M387.4 176.7h0M396.8 177.2h0M406.0 177.0h0M441.5 178.5h0M445.2 176.7h0M476.0 176.2h0M351.9 178.8h0M353.9 180.6h0M361.0 178.7h0M370.7 179.3h0M447.6 179.3h0M394.7 181.1h0M403.2 182.9h0M451.4 182.3h0M379.0 184.3h0M399.0 186.5h0M430.6 186.7h0M454.2 187.0h0M384.7 189.3h0M388.4 190.6h0M473.5 190.2h0M353.7 191.7h0M353.7 194.8h0M361.0 195.0h0M370.5 195.6h0M467.1 195.2h0M477.0 196.0h0M352.7 197.1h0M365.0 196.2h0M365.3 200.5h0M379.1 200.7h0M468.9 204.2h0M348.6 209.3h0M467.8 208.6h0M470.2 212.3h0M474.5 211.7h0M477.9 218.0h0M471.3 220.7h0M472.3 230.1h0M398.9 236.8h0M478.2 237.7h0M393.4 240.5h0M395.1 241.8h0M469.3 242.2h0M359.0 245.2h0M373.7 244.1h0M392.9 245.4h0M358.1 247.1h0M359.3 249.9h0M380.7 250.0h0M449.6 250.3h0M464.7 249.7h0M375.0 251.1h0M391.7 251.6h0M362.7 253.9h0M389.2 256.0h0M412.2 255.6h0M416.0 256.0h0M442.4 256.1h0M464.8 255.3h0M375.9 256.7h0M403.9 256.7h0" stroke="#D6AC88" stroke-width="1.6"/><path d="M372.9 175.3h0M384.9 174.1h0M453.9 175.4h0M466.0 175.2h0M431.1 177.5h0M380.1 179.1h0M391.3 180.0h0M449.4 178.9h0M442.9 182.4h0M469.6 182.0h0M473.3 183.1h0M382.9 186.0h0M435.9 184.7h0M459.1 183.7h0M461.1 187.2h0M476.1 187.4h0M359.9 188.8h0M369.8 189.8h0M448.1 189.4h0M471.5 191.1h0M394.9 192.4h0M450.5 191.2h0M452.8 192.9h0M381.9 198.2h0M370.3 198.7h0M393.0 199.3h0M363.6 203.4h0M366.6 201.9h0M350.7 204.3h0M369.4 204.8h0M354.5 206.1h0M464.4 207.5h0M352.0 210.1h0M469.3 216.0h0M473.1 221.6h0M476.5 224.2h0M468.3 226.7h0M391.5 233.1h0M428.9 233.2h0M471.6 232.5h0M409.4 238.6h0M434.2 236.6h0M466.5 238.4h0M357.6 242.0h0M408.9 241.1h0M415.7 241.6h0M457.1 242.6h0M409.0 245.2h0M413.4 245.4h0M414.4 244.7h0M447.6 245.5h0M350.6 247.2h0M361.7 247.0h0M364.8 248.5h0M389.2 247.8h0M397.0 248.0h0M468.1 247.1h0M472.0 247.9h0M457.0 249.2h0M471.5 249.0h0M367.8 252.4h0M468.6 252.9h0M386.2 255.2h0M395.0 255.9h0M404.6 254.5h0M449.9 254.5h0M460.3 254.1h0M352.4 257.4h0M406.2 257.6h0M422.5 256.9h0M454.1 256.5h0M466.4 256.3h0" stroke="#D2A27C" stroke-width="2.0"/><path d="M376.8 176.1h0M392.9 175.5h0M397.5 174.2h0M362.5 178.1h0M392.6 178.5h0M452.1 177.1h0M373.9 180.8h0M445.1 179.5h0M387.5 183.0h0M411.1 181.3h0M465.3 183.5h0M348.6 183.7h0M377.6 184.0h0M394.3 185.5h0M357.0 187.4h0M365.3 187.2h0M367.6 188.3h0M378.5 187.6h0M451.7 186.8h0M349.1 188.9h0M373.6 192.3h0M350.8 197.5h0M393.8 197.3h0M359.1 203.0h0M377.9 205.9h0M475.8 205.3h0M368.1 209.3h0M470.1 210.2h0M477.3 209.1h0M468.4 212.6h0M470.2 223.8h0M380.2 227.7h0M462.8 228.1h0M474.6 228.1h0M474.3 228.7h0M471.0 235.1h0M406.2 238.2h0M382.4 241.8h0M424.7 242.5h0M400.3 245.8h0M443.0 244.6h0M476.6 245.6h0M354.0 246.4h0M401.3 247.0h0M418.2 248.1h0M374.7 250.9h0M387.5 251.0h0M399.2 248.7h0M405.5 250.9h0M419.1 250.7h0M430.0 249.1h0M448.1 249.7h0M358.0 251.4h0M371.9 252.6h0M394.7 253.0h0M375.4 255.7h0M446.7 254.1h0M386.4 256.8h0M445.3 256.3h0" stroke="#CFA07A" stroke-width="2.0"/><path d="M379.6 175.0h0M402.4 174.9h0M420.0 173.8h0M428.2 176.1h0M450.2 175.9h0M460.8 176.1h0M461.2 177.9h0M361.3 180.1h0M397.7 179.4h0M434.3 180.5h0M455.9 179.1h0M463.2 180.0h0M463.6 180.1h0M474.3 179.0h0M365.5 181.8h0M371.2 181.1h0M438.2 182.5h0M370.8 186.6h0M353.9 188.7h0M358.0 193.2h0M368.2 193.1h0M464.6 192.1h0M360.0 197.3h0M358.1 202.4h0M354.1 205.3h0M477.4 221.0h0M468.0 228.8h0M392.3 234.9h0M392.2 238.0h0M412.1 239.9h0M375.8 241.9h0M377.7 242.2h0M406.7 242.6h0M444.5 242.8h0M464.5 242.7h0M357.9 244.9h0M370.8 244.0h0M385.3 245.8h0M373.2 246.5h0M399.0 247.8h0M429.3 248.1h0M409.0 250.1h0M466.3 249.9h0M469.7 250.1h0M474.0 249.7h0M354.8 252.3h0M377.3 253.5h0M382.6 251.5h0M386.3 251.8h0M443.5 252.7h0M452.2 252.0h0M360.0 254.0h0M358.2 257.5h0M435.8 258.0h0" stroke="#D6AC88" stroke-width="2.0"/><path d="M381.9 174.1h0M423.1 175.9h0M430.2 176.0h0M475.5 175.9h0M407.7 177.3h0M436.1 179.4h0M466.5 180.4h0M378.9 186.9h0M384.3 186.6h0M390.9 187.5h0M378.3 189.4h0M380.4 189.0h0M385.7 192.3h0M386.5 191.5h0M461.8 192.7h0M369.8 196.8h0M354.2 203.4h0M362.8 201.5h0M370.8 201.8h0M474.7 215.3h0M398.4 225.8h0M468.6 226.3h0M399.5 231.8h0M414.5 237.7h0M474.5 237.6h0M462.1 242.5h0M402.7 245.5h0M460.6 245.6h0M372.8 249.0h0M406.3 249.5h0M459.4 249.6h0M476.8 250.9h0M435.4 253.3h0" stroke="#D2A27C" stroke-width="2.4"/><path d="M394.2 173.9h0M404.7 173.7h0M357.3 179.6h0M377.2 180.9h0M386.2 178.9h0M405.9 179.0h0M408.2 178.9h0M418.6 179.4h0M456.4 179.4h0M472.5 180.6h0M466.2 185.1h0M373.1 189.0h0M383.2 189.6h0M372.2 192.8h0M454.7 193.0h0M457.1 192.0h0M458.2 195.6h0M469.4 196.4h0M355.3 200.5h0M375.2 199.8h0M381.3 200.2h0M463.2 199.2h0M385.0 203.3h0M476.1 202.4h0M371.6 203.8h0M383.7 205.2h0M350.0 206.5h0M368.9 206.5h0M381.8 206.9h0M354.3 212.4h0M408.9 232.8h0M477.3 233.2h0M402.7 235.1h0M404.7 234.4h0M475.0 235.0h0M477.1 235.6h0M432.2 237.2h0M461.2 238.4h0M465.6 240.4h0M364.9 243.3h0M416.8 242.5h0M467.2 242.1h0M351.0 244.9h0M419.4 243.9h0M425.2 245.7h0M436.2 245.3h0M461.7 243.8h0M376.5 246.6h0M383.9 247.6h0M403.7 247.3h0M436.9 248.5h0M379.7 251.1h0M418.3 252.3h0M431.4 254.5h0M472.0 255.9h0M392.9 257.3h0" stroke="#C08C64" stroke-width="2.0"/><path d="M447.6 174.1h0M385.9 178.1h0M426.0 177.4h0M437.0 178.2h0M364.6 179.6h0M401.6 180.5h0M457.7 183.5h0M351.9 190.1h0M356.6 190.0h0M386.1 193.9h0M380.4 198.2h0M352.4 199.5h0M368.0 199.8h0M360.1 211.3h0M468.4 225.5h0M473.1 228.5h0M395.8 230.4h0M398.0 229.3h0M422.1 235.4h0M377.2 237.3h0M381.7 239.7h0M410.6 239.2h0M471.9 241.8h0M405.1 245.4h0M386.1 248.6h0M393.2 246.5h0M406.1 246.7h0M412.9 246.3h0M465.5 248.1h0M445.7 248.7h0M455.7 249.1h0M353.4 251.3h0M364.0 252.4h0M449.1 252.8h0M472.7 253.0h0M367.7 255.2h0M453.8 254.7h0M474.9 257.1h0" stroke="#D6AC88" stroke-width="2.4"/><path d="M358.7 177.7h0M401.4 176.4h0M366.9 179.3h0M399.8 179.2h0M363.1 182.6h0M434.0 182.5h0M446.0 181.6h0M459.6 182.4h0M462.4 183.3h0M473.6 185.3h0M376.0 190.8h0M477.1 192.8h0M386.1 197.9h0M378.7 202.8h0M467.8 204.8h0M362.9 208.1h0M379.5 232.6h0M389.6 233.4h0M461.9 232.0h0M394.7 238.6h0M477.3 242.2h0M370.3 246.3h0M357.8 251.0h0M437.4 249.5h0M451.2 249.5h0M369.8 251.5h0M379.7 255.8h0M434.9 255.4h0M466.2 254.1h0M469.6 256.4h0" stroke="#C6946C" stroke-width="2.4"/><path d="M389.0 177.3h0M433.2 183.3h0M355.6 185.6h0M477.6 184.4h0M398.8 190.3h0M476.1 190.9h0M380.6 191.3h0M359.8 199.6h0M361.9 198.8h0M349.7 201.6h0M360.6 203.8h0M388.3 234.7h0M400.6 234.3h0M411.1 237.9h0M417.5 238.6h0M423.3 238.0h0M355.1 239.6h0M467.8 239.6h0M390.0 241.1h0M449.7 243.4h0M427.4 245.3h0M474.2 247.1h0M461.2 248.8h0M412.8 251.3h0M422.5 251.6h0M458.3 253.6h0M352.9 254.2h0M364.3 254.1h0M371.1 255.2h0M458.1 255.9h0M469.5 255.8h0M433.3 257.8h0" stroke="#CFA07A" stroke-width="2.4"/></g>
<g fill="none" stroke-linecap="round"><path d="M352.1 173.7h0M453.0 178.9h0M373.7 183.2h0M372.4 185.5h0M376.7 184.8h0M384.7 187.0h0M451.2 189.4h0M382.9 197.7h0M372.5 203.9h0M350.4 249.3h0M425.5 256.3h0M426.9 257.5h0" stroke="#CCC2C4" stroke-width="2.4"/><path d="M360.0 174.2h0M399.0 177.0h0M369.0 183.8h0M364.9 190.5h0M376.4 189.9h0M456.2 193.6h0M477.7 200.2h0M357.4 205.9h0M404.3 234.9h0M404.8 241.9h0M435.4 251.6h0M392.4 253.9h0M403.3 257.9h0" stroke="#D8CECC" stroke-width="2.0"/><path d="M364.7 177.0h0M367.0 176.9h0M393.8 180.2h0M379.7 189.5h0M387.0 200.9h0M391.1 232.2h0M397.8 233.2h0M475.0 238.0h0M402.1 252.7h0" stroke="#D4CACA" stroke-width="1.6"/><path d="M472.3 177.0h0M477.3 175.3h0M374.6 180.5h0M377.8 187.3h0M372.1 188.5h0M357.5 193.4h0M471.4 198.0h0M471.1 203.5h0M392.6 228.4h0M477.6 231.6h0M393.1 241.9h0M387.5 245.5h0M428.6 242.4h0M453.1 244.5h0M379.8 246.5h0M397.5 247.7h0M460.5 247.6h0M352.5 250.6h0M404.4 255.4h0M374.0 256.9h0M412.5 257.5h0" stroke="#D4CACA" stroke-width="2.0"/><path d="M358.0 177.8h0M469.3 180.6h0M367.1 186.8h0M392.9 186.0h0M367.0 189.1h0M387.1 229.5h0M474.3 235.2h0M377.8 239.8h0M460.8 238.8h0M438.6 247.0h0M428.6 251.2h0M365.8 253.3h0M429.4 255.0h0" stroke="#D8CECC" stroke-width="1.6"/><path d="M368.1 179.1h0M384.5 183.9h0M367.6 205.3h0M399.4 247.7h0M370.1 253.8h0" stroke="#D0C6C6" stroke-width="2.4"/><path d="M404.3 178.5h0M414.0 182.5h0M431.1 183.3h0M465.3 182.8h0M469.4 182.6h0M364.9 186.5h0M359.9 192.9h0M372.9 200.3h0M411.3 235.9h0M462.7 238.1h0M478.2 235.9h0M413.7 239.8h0M377.8 244.5h0M355.7 245.9h0M382.6 248.6h0M451.0 249.1h0M397.2 251.1h0M399.6 253.0h0M434.5 255.9h0M401.0 256.6h0" stroke="#D0C6C6" stroke-width="2.0"/><path d="M410.1 178.5h0M458.7 178.6h0M352.9 201.1h0M466.9 213.2h0M417.0 241.0h0M421.5 255.8h0M474.7 254.5h0M365.4 256.8h0" stroke="#D4CACA" stroke-width="2.4"/><path d="M434.2 179.9h0M458.7 184.1h0M390.3 192.7h0M372.8 208.1h0M471.8 216.6h0M421.0 245.5h0M456.9 254.7h0" stroke="#CCC2C4" stroke-width="1.6"/><path d="M446.2 177.4h0M389.6 186.0h0M387.8 203.9h0M467.9 234.7h0M392.1 235.2h0M351.9 249.1h0M470.3 253.6h0" stroke="#D0C6C6" stroke-width="1.6"/><path d="M460.4 187.5h0M349.4 196.7h0M394.4 227.0h0M460.3 229.1h0M392.4 234.7h0M408.6 233.0h0M384.7 241.4h0M348.9 244.9h0M371.6 245.7h0M469.0 247.9h0M357.6 252.3h0M443.5 250.8h0M414.8 253.0h0" stroke="#CCC2C4" stroke-width="2.0"/><path d="M459.8 244.8h0M476.5 243.1h0M390.6 252.4h0M447.7 249.4h0M451.6 257.1h0" stroke="#D8CECC" stroke-width="2.4"/></g>
<g fill="none" stroke-linecap="round"><path d="M349.8 174.8h0M418.5 190.8h0M432.0 190.6h0M424.5 191.2h0M434.8 192.4h0M397.1 195.1h0M384.3 196.9h0M403.9 197.7h0M414.3 197.7h0M433.5 197.5h0M418.7 200.9h0M442.0 201.0h0M403.7 202.8h0M408.4 202.7h0M459.9 202.8h0M452.2 205.6h0M448.6 208.3h0M360.2 210.2h0M407.5 210.4h0M409.4 210.2h0M437.1 210.4h0M440.9 209.2h0M458.1 208.7h0M370.1 212.7h0M382.2 213.1h0M412.6 212.6h0M458.0 211.5h0M391.7 213.9h0M427.9 214.2h0M439.1 215.7h0M459.4 215.5h0M369.0 217.3h0M372.8 217.0h0M384.4 216.7h0M433.6 218.5h0M462.1 217.5h0M356.1 220.8h0M377.6 218.8h0M379.3 219.5h0M451.0 221.0h0M392.0 221.9h0M440.0 223.2h0M451.0 222.6h0M455.7 223.1h0M459.4 223.5h0M354.6 224.3h0M402.2 224.5h0M417.9 223.8h0M351.6 227.5h0M357.3 227.8h0M371.2 228.5h0M394.7 227.2h0M398.4 228.3h0M434.8 233.1h0M359.1 234.4h0M370.7 234.1h0M378.6 235.8h0M433.9 234.1h0M436.8 235.5h0M459.4 233.8h0M411.6 236.4h0M453.0 236.6h0M363.3 244.0h0M442.9 244.8h0" stroke="#BC6C58" stroke-width="2.0"/><path d="M448.6 175.9h0M374.9 180.4h0M397.6 193.0h0M413.7 192.2h0M420.2 191.3h0M440.7 191.5h0M442.7 193.3h0M437.7 196.9h0M458.0 198.0h0M410.1 202.4h0M454.2 205.1h0M424.5 207.0h0M383.7 210.2h0M393.8 209.5h0M403.6 209.7h0M411.3 209.8h0M351.4 213.0h0M366.9 213.0h0M441.8 211.6h0M358.0 214.3h0M372.0 215.4h0M425.7 216.0h0M351.6 218.3h0M421.7 216.6h0M437.5 216.6h0M353.1 223.0h0M378.1 223.4h0M430.9 222.2h0M399.5 225.9h0M459.5 226.9h0M416.3 230.6h0M453.5 230.0h0M415.4 232.3h0M367.1 235.2h0M377.8 234.6h0M440.6 242.0h0M352.3 246.4h0M381.5 250.9h0" stroke="#9C4C3C" stroke-width="2.4"/><path d="M400.1 178.4h0M475.1 181.9h0M415.1 187.3h0M423.2 187.7h0M448.3 188.1h0M407.0 189.6h0M405.4 195.1h0M455.5 194.8h0M457.9 200.9h0M352.4 201.7h0M411.9 205.3h0M398.9 208.4h0M461.0 206.4h0M378.4 209.3h0M389.3 211.0h0M431.7 209.6h0M434.2 210.3h0M408.8 211.8h0M438.9 211.3h0M448.3 212.8h0M370.2 214.4h0M411.0 213.9h0M419.1 213.8h0M382.8 217.7h0M414.5 218.2h0M419.7 217.1h0M396.6 219.1h0M404.7 220.8h0M438.6 220.6h0M390.6 223.0h0M414.9 223.4h0M362.4 224.9h0M364.7 223.6h0M371.3 224.5h0M388.2 224.7h0M451.1 225.4h0M409.9 227.6h0M355.3 230.0h0M435.8 229.6h0M372.9 233.2h0M379.3 231.2h0M412.7 232.4h0M431.2 232.4h0M375.1 239.7h0M418.9 240.2h0M383.7 255.9h0M453.9 257.0h0" stroke="#B46250" stroke-width="2.4"/><path d="M404.3 177.0h0M365.8 180.1h0M418.3 182.7h0M425.6 182.2h0M427.6 182.9h0M422.2 184.5h0M408.4 188.1h0M420.8 188.4h0M387.3 195.8h0M413.0 195.7h0M427.2 195.4h0M437.6 193.7h0M395.3 196.4h0M403.2 196.7h0M394.4 199.3h0M401.6 200.2h0M428.6 200.1h0M447.9 199.1h0M397.5 202.0h0M396.5 203.6h0M428.2 205.6h0M431.1 207.3h0M456.0 207.6h0M424.1 210.8h0M441.1 208.7h0M445.7 208.8h0M387.7 213.5h0M401.3 213.1h0M421.3 211.7h0M459.0 212.6h0M387.8 214.6h0M391.0 215.8h0M445.9 213.9h0M456.0 214.7h0M392.2 216.2h0M417.2 218.3h0M459.9 217.4h0M349.8 218.7h0M391.5 221.1h0M424.3 220.3h0M436.3 219.6h0M410.7 221.1h0M356.6 224.7h0M367.4 225.6h0M408.4 225.5h0M454.8 224.7h0M458.4 225.4h0M350.8 232.0h0M357.6 233.5h0M365.4 231.9h0M426.3 235.2h0M360.5 236.9h0M446.6 239.0h0M453.1 241.8h0" stroke="#A85440" stroke-width="1.6"/><path d="M409.2 177.7h0M424.6 179.3h0M399.8 181.3h0M397.4 184.5h0M411.0 190.3h0M422.8 189.3h0M428.3 189.0h0M407.9 195.9h0M413.8 194.1h0M419.8 194.0h0M444.2 197.2h0M452.5 196.9h0M404.4 199.9h0M389.8 201.1h0M417.2 203.3h0M439.6 201.1h0M444.7 201.9h0M390.9 204.6h0M408.3 204.4h0M467.1 206.0h0M377.8 206.2h0M393.2 207.0h0M407.0 207.7h0M411.1 208.0h0M418.3 206.1h0M422.8 206.5h0M463.2 208.0h0M397.7 209.0h0M415.0 210.7h0M416.8 209.8h0M453.0 209.1h0M371.6 213.5h0M360.8 215.5h0M375.0 215.8h0M399.8 215.9h0M422.4 215.2h0M428.8 215.9h0M358.9 217.1h0M378.7 216.2h0M388.8 217.7h0M405.5 217.3h0M449.5 217.9h0M400.6 220.7h0M409.6 219.1h0M422.7 219.1h0M432.1 222.0h0M475.3 223.2h0M434.0 224.8h0M442.3 224.7h0M449.8 225.5h0M460.3 224.6h0M469.7 223.8h0M430.9 227.5h0M431.3 227.2h0M380.6 230.9h0M412.8 230.9h0M431.8 229.2h0M420.8 231.1h0M426.7 233.3h0M429.1 231.8h0M357.7 236.3h0M369.7 237.4h0M442.1 236.1h0M360.9 240.5h0M427.1 242.0h0M453.7 244.9h0M463.0 245.2h0M470.5 247.2h0" stroke="#A85440" stroke-width="2.0"/><path d="M424.7 176.1h0M415.1 179.3h0M423.2 182.4h0M403.5 184.4h0M399.3 188.0h0M412.4 188.3h0M424.9 187.0h0M434.2 191.0h0M427.5 191.2h0M401.0 196.0h0M431.9 195.1h0M424.9 197.6h0M397.7 200.3h0M449.2 199.3h0M401.5 203.1h0M441.3 201.2h0M437.6 204.9h0M383.1 207.2h0M427.2 207.7h0M441.3 206.9h0M364.5 209.7h0M381.0 210.6h0M448.8 209.6h0M459.9 208.8h0M465.0 210.6h0M384.1 212.3h0M388.5 211.5h0M396.0 211.5h0M397.3 211.3h0M397.7 215.1h0M444.5 216.3h0M362.9 220.1h0M385.2 219.6h0M433.5 219.3h0M457.7 219.0h0M460.0 220.3h0M467.7 220.1h0M373.3 222.2h0M379.4 223.4h0M445.8 225.9h0M444.5 228.0h0M394.9 230.4h0M446.5 230.1h0M362.3 231.5h0M367.3 231.6h0M399.9 232.6h0M469.3 231.4h0M449.1 239.3h0M445.7 249.1h0" stroke="#A85C4C" stroke-width="2.4"/><path d="M405.9 180.5h0M410.9 180.1h0M461.8 179.7h0M410.5 184.5h0M411.9 185.5h0M410.4 188.1h0M428.2 188.1h0M409.1 190.4h0M370.1 191.5h0M422.2 192.3h0M433.5 192.2h0M403.2 195.9h0M417.4 195.6h0M429.6 196.0h0M441.3 194.2h0M412.3 196.1h0M423.3 197.9h0M439.0 198.0h0M381.4 201.0h0M391.2 199.2h0M407.5 201.0h0M411.3 198.7h0M421.4 199.6h0M391.9 202.5h0M396.0 201.1h0M424.9 202.8h0M434.9 202.0h0M457.5 202.6h0M391.5 205.5h0M419.9 205.6h0M424.1 204.6h0M429.0 205.4h0M446.2 204.3h0M448.5 204.9h0M453.1 206.9h0M429.5 209.4h0M392.8 211.1h0M404.2 214.6h0M453.2 214.5h0M394.7 216.4h0M401.6 218.0h0M440.3 216.3h0M467.3 217.9h0M353.1 219.1h0M373.0 219.8h0M407.5 218.9h0M455.2 219.0h0M367.2 222.6h0M370.4 221.3h0M386.3 222.1h0M399.7 222.5h0M421.7 222.4h0M443.4 222.8h0M450.6 223.0h0M457.9 223.3h0M377.5 224.6h0M429.9 224.1h0M437.6 225.4h0M355.7 228.1h0M378.9 228.3h0M382.9 231.0h0M398.2 229.0h0M421.4 230.2h0M352.0 233.5h0M453.1 233.3h0M375.6 233.7h0M422.7 235.9h0M440.5 235.7h0M432.2 237.8h0M454.3 237.2h0M354.6 238.7h0M352.7 242.7h0M369.2 241.8h0M451.0 253.0h0M438.2 253.9h0" stroke="#B46250" stroke-width="2.0"/><path d="M406.3 179.3h0M458.5 180.7h0M431.3 187.8h0M396.8 188.9h0M417.4 191.9h0M423.2 196.0h0M447.8 196.1h0M399.7 200.8h0M438.2 199.4h0M438.5 199.9h0M444.1 199.8h0M429.9 202.2h0M452.2 202.1h0M462.8 203.0h0M431.6 203.9h0M442.5 203.7h0M456.2 204.8h0M386.4 207.1h0M414.8 208.1h0M466.2 206.8h0M420.0 208.9h0M415.8 211.4h0M445.6 212.3h0M364.7 215.2h0M367.0 213.9h0M383.3 216.0h0M414.0 215.9h0M377.4 216.6h0M426.0 217.9h0M427.8 217.1h0M431.9 217.8h0M458.4 218.2h0M370.6 219.8h0M429.2 221.1h0M434.4 221.1h0M451.6 220.1h0M463.3 219.1h0M416.3 222.5h0M394.0 225.7h0M421.6 223.7h0M424.1 225.1h0M369.9 227.9h0M412.6 228.4h0M416.0 228.4h0M426.5 226.9h0M453.9 227.6h0M470.8 227.1h0M352.9 231.1h0M438.7 230.1h0M449.1 228.8h0M458.3 228.8h0M353.9 232.4h0M423.1 232.3h0M453.7 232.8h0M373.2 235.2h0M432.6 234.0h0M434.7 237.1h0M439.5 237.8h0M409.9 238.8h0" stroke="#BC6C58" stroke-width="1.6"/><path d="M413.1 180.5h0M420.4 185.1h0M430.0 185.5h0M405.9 187.1h0M403.3 191.6h0M403.8 193.6h0M459.2 199.5h0M422.5 201.8h0M437.2 203.1h0M462.1 204.4h0M389.6 206.4h0M397.6 206.6h0M404.5 207.2h0M409.0 207.4h0M440.1 207.0h0M457.4 208.0h0M446.9 209.0h0M361.8 211.9h0M416.8 213.1h0M419.2 212.2h0M432.5 211.9h0M450.6 211.3h0M464.7 213.2h0M393.6 215.0h0M401.3 213.7h0M408.1 214.4h0M433.8 214.6h0M388.5 219.3h0M381.6 221.3h0M394.0 222.1h0M407.8 221.7h0M411.3 221.5h0M406.0 227.4h0M420.5 227.1h0M433.8 228.1h0M441.5 226.5h0M350.5 230.7h0M410.1 228.7h0M458.7 230.6h0M464.7 229.7h0M360.0 232.2h0M374.8 231.4h0M410.2 231.5h0M425.2 233.5h0M437.5 231.8h0M442.5 232.0h0M445.7 233.1h0M364.3 235.2h0M429.0 237.0h0M350.3 238.7h0M368.4 241.1h0M427.5 239.5h0M454.2 241.3h0M433.7 245.2h0M356.8 253.8h0" stroke="#A85C4C" stroke-width="1.6"/><path d="M416.4 180.5h0M441.1 178.7h0M414.8 184.1h0M434.4 185.9h0M435.1 187.1h0M403.2 190.3h0M405.5 190.6h0M445.0 191.6h0M406.3 197.4h0M431.6 199.3h0M426.9 201.8h0M454.1 202.2h0M435.4 204.9h0M439.0 203.8h0M385.0 208.4h0M419.8 207.8h0M434.5 208.3h0M402.3 211.0h0M422.3 211.0h0M455.8 211.0h0M375.6 212.3h0M398.9 211.2h0M361.1 215.9h0M376.3 213.9h0M379.6 214.9h0M446.4 213.9h0M451.0 215.1h0M387.5 217.5h0M366.5 219.7h0M415.9 219.6h0M416.4 219.4h0M418.7 220.4h0M426.5 220.9h0M447.9 219.9h0M360.9 221.1h0M421.0 222.1h0M437.4 221.3h0M370.5 225.2h0M378.9 226.1h0M383.1 224.4h0M350.2 227.8h0M389.6 226.9h0M391.2 228.4h0M403.5 226.2h0M438.0 226.5h0M447.1 227.8h0M462.7 227.9h0M357.7 229.7h0M425.3 230.3h0M441.1 228.7h0M368.7 231.3h0M363.2 235.2h0M408.5 233.8h0M424.0 234.9h0M352.8 238.5h0M361.9 236.5h0M366.8 238.1h0M457.6 238.3h0M458.5 237.4h0M353.1 240.9h0M363.0 239.5h0M364.3 240.6h0M369.1 240.4h0M472.3 241.2h0M355.8 247.0h0" stroke="#A85C4C" stroke-width="2.0"/><path d="M420.1 178.8h0M400.3 185.1h0M407.3 184.1h0M418.2 186.4h0M448.2 189.2h0M398.8 192.4h0M375.2 195.9h0M408.6 194.5h0M429.3 196.6h0M454.5 196.1h0M414.4 200.9h0M433.6 200.0h0M400.9 202.6h0M413.3 201.5h0M449.5 203.1h0M464.1 203.4h0M416.4 205.9h0M393.6 208.4h0M428.5 207.6h0M447.3 206.4h0M367.5 209.3h0M386.3 209.7h0M357.2 213.4h0M359.8 211.6h0M354.7 213.7h0M417.8 214.2h0M458.2 215.2h0M467.7 215.7h0M362.3 216.7h0M399.3 217.2h0M470.0 218.6h0M359.3 219.9h0M464.1 220.2h0M354.3 223.4h0M356.5 221.9h0M362.3 223.1h0M364.0 222.0h0M383.6 222.6h0M428.3 222.9h0M384.5 225.2h0M391.6 226.1h0M411.1 225.3h0M464.7 225.0h0M361.2 227.3h0M365.1 227.6h0M374.3 227.5h0M422.3 226.3h0M452.0 227.4h0M366.0 228.8h0M371.8 229.0h0M415.3 230.8h0M430.4 229.1h0M453.4 230.1h0M349.0 233.8h0M445.3 234.0h0M463.7 234.3h0M419.7 237.8h0M385.5 238.7h0" stroke="#9C4C3C" stroke-width="2.0"/><path d="M440.4 180.1h0M475.7 179.8h0M434.4 182.4h0M425.1 185.9h0M427.4 184.0h0M399.4 189.5h0M441.2 189.5h0M429.9 192.0h0M460.7 193.6h0M397.8 198.1h0M452.9 198.8h0M454.2 200.5h0M469.1 199.9h0M432.0 203.0h0M405.2 203.9h0M422.1 205.6h0M444.0 205.2h0M459.0 204.9h0M463.8 204.6h0M380.1 207.6h0M436.3 208.2h0M362.3 209.1h0M391.0 208.9h0M408.2 213.0h0M453.0 212.9h0M465.7 213.9h0M354.7 217.1h0M358.3 217.9h0M375.8 217.4h0M407.0 217.1h0M463.8 216.8h0M365.8 220.1h0M382.6 219.9h0M375.1 221.8h0M397.1 222.7h0M405.7 223.2h0M434.2 222.6h0M465.9 223.1h0M348.6 225.9h0M375.3 225.9h0M410.7 225.1h0M419.7 224.3h0M431.8 225.2h0M385.4 227.6h0M401.6 226.9h0M416.1 233.0h0M448.4 231.7h0M351.1 235.2h0M456.1 233.7h0M436.5 236.6h0M461.5 238.0h0M357.6 240.5h0M404.8 239.5h0M421.4 241.0h0M382.5 255.8h0M435.8 254.2h0" stroke="#9C4C3C" stroke-width="1.6"/><path d="M395.5 183.1h0M407.5 181.7h0M415.7 181.7h0M353.0 187.0h0M356.8 187.2h0M401.9 187.6h0M430.7 189.1h0M436.8 189.6h0M407.3 192.8h0M390.6 194.4h0M425.1 195.2h0M450.5 193.7h0M476.6 193.6h0M410.2 196.7h0M420.9 203.6h0M447.4 202.0h0M386.4 205.1h0M409.7 204.6h0M350.4 210.0h0M461.7 208.9h0M405.2 211.9h0M433.7 212.0h0M453.8 211.2h0M437.2 215.2h0M364.4 216.7h0M368.1 216.9h0M429.2 217.4h0M441.3 218.5h0M454.4 217.1h0M389.9 219.9h0M462.3 223.2h0M359.0 224.7h0M390.4 223.7h0M428.3 225.8h0M439.8 224.1h0M447.3 223.7h0M461.1 225.9h0M367.2 226.3h0M440.2 226.3h0M370.1 229.0h0M376.9 229.5h0M426.6 229.4h0M408.0 231.2h0M438.9 231.6h0M397.5 234.0h0M442.1 233.8h0M348.9 236.4h0M365.7 236.7h0M414.6 237.5h0M445.0 237.1h0M446.9 237.1h0M437.8 239.4h0M371.7 246.9h0M371.3 255.5h0M370.8 257.8h0" stroke="#B46250" stroke-width="1.6"/><path d="M412.8 181.7h0M420.3 183.6h0M459.3 189.0h0M410.9 191.1h0M411.0 193.5h0M436.3 193.4h0M450.3 193.2h0M454.1 191.7h0M459.2 192.7h0M438.6 195.1h0M370.5 198.1h0M398.7 198.4h0M427.1 197.4h0M435.4 198.2h0M450.3 196.5h0M476.9 199.5h0M394.8 205.0h0M398.6 203.8h0M475.2 205.6h0M401.5 208.6h0M476.5 206.3h0M351.9 209.4h0M428.3 210.7h0M467.0 209.9h0M364.6 212.0h0M376.6 213.6h0M427.7 211.5h0M442.4 215.4h0M462.3 214.4h0M412.1 218.1h0M424.6 223.1h0M446.4 222.6h0M360.0 226.9h0M360.0 230.3h0M406.7 228.8h0M410.9 234.3h0M454.4 235.5h0M355.0 237.5h0M452.6 238.7h0M417.9 247.4h0M416.0 253.3h0M466.5 251.9h0M386.9 254.0h0" stroke="#BC6C58" stroke-width="2.4"/><path d="M415.2 190.3h0M425.8 188.9h0M435.8 193.9h0M416.7 196.5h0M442.4 196.5h0M424.2 198.8h0M382.1 210.7h0M425.6 211.1h0M430.0 211.5h0M437.4 211.5h0M463.3 212.5h0M408.6 213.6h0M431.1 215.8h0M471.8 213.9h0M398.2 217.2h0M409.9 218.2h0M355.6 219.9h0M374.1 220.3h0M394.3 219.8h0M412.1 219.7h0M443.1 218.7h0M445.3 218.9h0M402.1 223.1h0M352.5 224.2h0M414.1 224.4h0M378.2 227.2h0M424.9 226.7h0M450.7 227.3h0M457.6 226.1h0M362.5 229.5h0M436.2 230.1h0M448.9 231.9h0M456.1 233.3h0M459.0 231.6h0M354.5 235.8h0M414.2 234.8h0M418.7 234.1h0M449.0 234.2h0M426.5 236.6h0M423.5 253.2h0" stroke="#A85440" stroke-width="2.4"/></g>
</g>
<g filter="url(#bl1)"><path d="M375.0,222.5 L380.0,218.0 L388.0,214.0 L397.0,211.0 L405.0,208.5 L409.0,208.5 L408.0,212.0 L402.0,216.0 L394.0,219.5 L385.0,222.5 L378.0,223.5 Z" fill="#F3F1EF"/><path d="M424.0,204.0 L427.0,200.5 L433.0,199.5 L438.5,201.0 L439.5,206.0 L437.5,211.5 L433.5,214.5 L428.5,213.5 L425.0,209.0 Z" fill="#F3F1EF"/></g>
</g>
<rect x="357.6" y="248" width="25.8" height="2.6" fill="#000"/>
<text x="355.6" y="189.4" font-size="12.5" font-weight="bold" fill="#000">ii</text>
<g clip-path="url(#c_iii)">
<rect x="216" y="259.6" width="129" height="84.2" fill="#D4926A"/>
<ellipse cx="300" cy="266" rx="50" ry="10" fill="#C47C56" filter="url(#bl5)"/>
<ellipse cx="338" cy="300" rx="10" ry="30" fill="#C88058" filter="url(#bl5)"/>
<ellipse cx="234" cy="268" rx="18" ry="9" fill="#D8C0B4" filter="url(#bl5)"/>
<path d="M229.0,297.0 L236.0,306.0 L252.0,314.0 L272.0,318.0 L290.0,320.5 L302.0,322.0 L300.0,331.0 L290.0,346.0 L266.0,346.0 L260.0,336.0 L240.0,332.0 L231.0,320.0 L226.0,308.0 Z" fill="#8E4C50" filter="url(#bl3)"/><path d="M247.5,275.0 L265.5,271.2 L291.3,272.5 L306.8,269.9 L317.1,275.0 L327.4,287.9 L335.1,300.8 L332.6,316.3 L322.2,318.9 L314.5,316.3 L317.1,306.0 L314.5,287.9 L299.0,281.5 L278.4,278.9 L252.7,281.5 L242.4,285.4 Z" fill="#A46262" filter="url(#bl3)"/>
<g fill="none" stroke-linecap="round" opacity="0.75"><path d="M221.4 261.3h0M308.8 266.7h0M315.9 264.6h0M318.0 264.8h0M222.2 276.1h0M309.8 287.0h0M265.9 291.7h0M281.8 294.5h0M304.0 321.7h0M329.8 328.7h0M255.0 334.6h0M336.1 331.1h0" stroke="#EAC4A4" stroke-width="3.6"/><path d="M238.7 262.7h0M249.6 267.3h0M239.4 276.2h0M320.9 274.7h0M334.9 273.5h0M255.8 282.5h0M235.0 285.5h0M258.7 292.7h0M220.4 301.5h0M232.4 299.0h0M247.1 300.4h0M312.6 305.6h0M313.2 307.2h0M334.3 324.1h0M224.7 340.4h0" stroke="#F0D0B4" stroke-width="4.0"/><path d="M281.8 262.6h0M294.3 261.9h0M266.4 266.7h0M285.1 265.9h0M326.4 266.6h0M219.8 270.2h0M242.3 269.8h0M257.2 269.9h0M217.5 284.6h0M244.3 288.8h0M274.6 289.9h0M275.8 297.5h0M286.1 304.5h0M297.1 304.3h0M322.4 312.1h0M335.8 315.0h0M315.8 329.9h0M307.1 331.7h0M323.0 340.2h0M298.5 343.7h0" stroke="#F0D0B4" stroke-width="3.6"/><path d="M284.9 261.1h0M320.4 261.7h0M232.5 267.6h0M254.7 275.1h0M229.3 279.8h0M228.4 284.8h0M314.9 296.5h0M333.1 293.8h0M249.8 301.5h0M260.2 298.4h0M240.4 302.6h0M266.8 312.2h0M294.2 315.1h0M319.9 318.2h0M305.1 329.0h0M293.3 343.4h0" stroke="#F0D0B4" stroke-width="3.2"/><path d="M290.4 261.6h0M305.8 261.7h0M242.0 265.1h0M337.2 267.1h0M340.9 264.2h0M322.6 271.3h0M340.6 269.3h0M232.8 275.5h0M219.1 278.0h0M266.9 283.6h0M221.3 285.9h0M230.3 291.6h0M274.6 293.4h0M251.0 302.3h0M330.4 307.7h0M275.0 310.7h0M288.0 312.2h0M267.3 316.6h0M321.5 315.4h0M317.7 319.5h0M326.0 326.7h0M227.2 332.3h0M338.8 335.1h0M308.8 338.3h0M250.6 341.6h0M260.7 341.2h0" stroke="#E4B898" stroke-width="3.6"/><path d="M339.6 263.8h0M332.4 275.5h0M278.2 280.0h0M218.4 286.7h0M282.7 285.5h0M256.9 289.8h0M314.7 292.6h0M288.9 296.5h0M312.1 297.5h0M321.1 301.9h0M286.3 309.2h0M227.6 317.7h0M224.1 319.2h0M263.2 318.9h0M316.0 318.5h0M311.0 343.1h0M333.2 339.9h0" stroke="#EAC4A4" stroke-width="3.2"/><path d="M221.8 264.4h0M277.5 265.9h0M280.0 266.8h0M303.5 266.0h0M216.8 273.2h0M234.8 275.1h0M244.7 277.0h0M332.3 283.3h0M327.9 287.3h0M268.4 289.9h0M343.2 289.0h0M252.6 297.0h0M266.2 298.2h0M301.1 304.5h0M293.8 306.5h0M236.6 329.9h0M314.7 335.4h0M237.6 341.5h0M326.4 340.9h0" stroke="#EAC4A4" stroke-width="4.0"/><path d="M225.9 266.8h0M233.2 272.0h0M227.6 275.5h0M244.6 276.1h0M303.1 284.8h0M288.2 287.4h0M237.8 289.2h0M306.7 290.5h0M308.7 292.4h0M301.2 296.4h0M282.7 298.6h0M340.9 300.0h0M219.1 304.0h0M259.2 304.1h0M315.5 303.1h0M253.5 307.5h0M336.4 337.6h0M334.5 340.7h0" stroke="#E4B898" stroke-width="3.2"/><path d="M239.7 266.2h0M333.1 267.7h0M313.8 269.2h0M243.5 280.8h0M283.7 285.4h0M293.9 286.4h0M234.0 297.9h0M273.6 301.1h0M336.1 308.8h0M221.0 317.5h0M247.9 334.4h0M235.0 339.0h0M256.6 337.4h0M237.0 342.2h0M242.3 341.2h0" stroke="#EAC4A4" stroke-width="4.4"/><path d="M294.1 265.5h0M292.2 269.6h0M248.8 283.3h0M258.4 288.6h0M220.6 293.7h0M226.0 295.4h0M256.5 294.4h0M256.1 303.1h0M307.4 313.4h0M278.0 316.5h0M341.7 317.7h0M240.7 328.7h0M305.5 335.9h0" stroke="#E4B898" stroke-width="4.0"/><path d="M296.4 265.0h0M291.2 270.2h0M220.5 277.0h0M236.4 277.4h0M286.6 279.4h0M272.1 288.0h0M307.6 286.3h0M246.4 290.0h0M234.4 296.9h0M277.6 296.8h0M335.9 302.2h0M263.2 307.3h0M332.8 325.8h0M230.3 331.0h0M327.1 327.8h0" stroke="#E4B898" stroke-width="4.4"/><path d="M328.2 277.0h0M231.5 284.8h0M236.8 283.8h0M221.7 292.4h0M233.2 290.2h0M276.3 292.2h0M288.3 301.1h0M240.1 306.1h0M270.5 306.7h0M297.7 307.9h0M335.3 320.5h0M231.7 342.4h0" stroke="#F0D0B4" stroke-width="4.4"/></g>
<g filter="url(#bd)">
<g fill="none" stroke-linecap="round"><path d="M216.8 260.9h0M269.3 259.8h0M313.2 262.0h0M334.5 264.5h0M286.8 267.5h0M238.8 270.6h0M250.6 270.6h0M312.1 270.6h0M335.7 269.6h0M339.7 270.5h0M326.7 273.3h0M242.4 275.9h0M294.6 275.6h0M319.2 276.6h0M339.9 279.1h0M332.0 281.3h0M342.5 283.5h0M224.1 286.3h0M239.6 287.0h0M266.2 287.1h0M319.3 285.3h0M244.8 289.1h0M280.6 288.5h0M235.2 293.1h0M223.9 294.0h0M229.0 294.0h0M253.6 294.8h0M261.4 294.1h0M285.0 293.6h0M326.7 293.5h0M343.1 293.9h0M308.7 297.3h0M335.9 296.8h0M217.9 298.8h0M300.8 299.7h0M339.5 299.4h0M290.7 305.3h0M260.3 308.7h0M333.7 309.6h0M262.8 311.6h0M267.7 315.0h0M304.5 328.5h0M304.4 330.1h0M342.1 330.8h0M216.3 333.8h0M333.4 335.1h0M342.2 334.5h0M260.3 338.0h0M299.1 338.2h0M328.8 338.2h0M327.2 342.7h0" stroke="#B86C48" stroke-width="2.0"/><path d="M222.9 261.2h0M282.8 261.6h0M302.7 260.8h0M331.9 261.2h0M258.8 262.4h0M274.2 264.2h0M289.1 266.6h0M305.9 266.3h0M249.0 268.8h0M275.3 268.3h0M230.0 273.1h0M321.8 273.1h0M338.8 272.1h0M228.6 274.0h0M304.6 274.7h0M260.0 278.6h0M330.7 278.4h0M250.9 280.4h0M285.1 279.3h0M252.1 282.6h0M287.1 284.0h0M216.4 286.5h0M314.6 287.0h0M259.8 289.3h0M310.2 288.3h0M270.3 293.0h0M334.5 292.1h0M280.0 294.7h0M280.6 295.5h0M244.9 296.1h0M313.0 298.7h0M340.7 297.3h0M316.2 308.8h0M339.3 307.2h0M224.6 311.7h0M314.2 315.6h0M227.7 316.3h0M293.9 316.2h0M306.5 317.2h0M332.3 317.9h0M332.4 321.1h0M226.6 323.8h0M316.5 335.9h0M344.3 337.4h0M242.9 338.9h0M294.2 338.1h0M310.3 340.1h0M313.5 338.3h0" stroke="#A85C38" stroke-width="2.4"/><path d="M225.8 260.1h0M284.4 260.1h0M319.3 260.4h0M249.6 264.2h0M314.3 263.0h0M341.2 262.5h0M216.4 269.9h0M317.4 268.5h0M246.0 273.5h0M263.5 271.9h0M315.0 273.0h0M224.5 275.4h0M237.8 274.6h0M245.2 277.4h0M291.0 278.7h0M235.2 280.5h0M220.0 282.6h0M223.5 284.8h0M230.4 283.2h0M240.5 282.8h0M274.6 282.8h0M305.6 284.7h0M330.8 282.5h0M230.1 285.5h0M274.3 286.6h0M305.8 286.3h0M236.4 290.4h0M278.3 291.5h0M297.7 291.0h0M321.1 291.0h0M233.7 297.8h0M342.3 297.5h0M266.4 300.7h0M330.8 301.6h0M268.5 306.8h0M274.0 305.1h0M282.8 305.3h0M343.2 306.1h0M265.9 307.8h0M285.3 308.8h0M297.9 307.9h0M281.8 310.1h0M296.7 312.4h0M310.7 312.5h0M333.2 310.3h0M308.0 315.0h0M335.1 314.1h0M300.3 318.1h0M326.0 317.7h0M274.7 319.2h0M299.5 320.3h0M335.6 322.4h0M230.1 329.0h0M227.4 330.7h0M236.0 330.4h0M326.9 331.0h0M225.8 333.5h0M237.1 334.7h0M218.2 337.6h0M233.7 335.3h0M311.3 335.7h0M224.9 340.8h0M227.4 338.9h0M326.8 339.8h0M223.2 342.0h0M306.3 343.5h0M310.1 341.3h0M341.1 342.0h0" stroke="#9C5030" stroke-width="2.4"/><path d="M229.1 262.0h0M245.5 260.2h0M293.6 261.9h0M335.7 262.1h0M227.9 264.0h0M283.4 263.3h0M329.0 264.1h0M234.4 265.3h0M285.0 267.2h0M258.6 270.5h0M221.8 273.1h0M249.0 273.2h0M252.0 272.1h0M271.0 272.8h0M315.8 276.3h0M339.6 273.7h0M241.5 278.8h0M280.1 278.3h0M295.9 278.2h0M330.6 281.2h0M228.8 284.5h0M278.7 283.5h0M250.7 286.6h0M268.6 287.7h0M247.3 291.8h0M224.5 294.0h0M258.0 294.3h0M286.1 295.2h0M228.3 296.4h0M247.4 298.3h0M310.8 299.2h0M244.4 303.8h0M248.4 301.6h0M270.5 303.9h0M276.2 303.7h0M239.9 306.4h0M295.9 304.7h0M341.1 306.1h0M304.4 309.2h0M338.0 309.1h0M249.6 312.2h0M277.7 310.7h0M289.5 311.0h0M292.8 311.9h0M221.8 316.4h0M290.1 316.2h0M311.1 320.0h0M336.8 320.5h0M310.8 322.0h0M337.2 323.8h0M221.3 329.1h0M227.2 326.9h0M312.1 327.6h0M329.9 326.9h0M331.6 328.8h0M226.0 330.4h0M306.8 331.0h0M243.5 334.8h0M241.9 336.8h0M317.5 340.0h0M296.6 341.7h0" stroke="#C07C54" stroke-width="2.4"/><path d="M231.3 260.3h0M310.3 260.5h0M230.9 263.0h0M235.1 264.0h0M264.8 264.3h0M318.5 263.5h0M326.3 265.1h0M242.8 266.9h0M294.8 266.5h0M309.1 266.4h0M322.9 267.3h0M218.2 271.9h0M236.6 271.7h0M278.6 271.7h0M231.2 278.2h0M235.5 277.2h0M240.6 281.6h0M272.6 282.0h0M325.3 281.7h0M260.7 283.9h0M334.1 284.1h0M285.3 285.0h0M263.9 291.8h0M235.4 295.3h0M339.5 294.3h0M250.7 296.4h0M255.0 296.2h0M269.7 296.7h0M301.5 298.5h0M333.1 298.8h0M257.1 299.6h0M258.3 300.9h0M274.6 301.1h0M316.9 300.1h0M325.0 299.4h0M225.0 302.7h0M267.9 303.3h0M282.7 302.5h0M294.2 302.6h0M296.2 303.2h0M342.7 302.9h0M254.9 305.8h0M264.5 304.9h0M331.7 306.3h0M267.9 308.3h0M277.6 308.9h0M342.0 309.1h0M284.4 314.8h0M296.3 313.1h0M337.8 317.8h0M220.4 322.4h0M229.5 323.4h0M304.8 323.0h0M315.4 322.9h0M339.5 321.4h0M219.7 325.6h0M336.1 326.0h0M333.8 332.5h0M235.9 336.7h0M332.6 337.9h0M223.9 338.4h0M305.5 340.5h0M339.3 338.1h0M344.3 342.3h0" stroke="#A85C38" stroke-width="2.0"/><path d="M237.9 260.3h0M289.2 262.3h0M220.9 267.0h0M239.8 267.3h0M226.9 269.2h0M238.4 273.3h0M292.3 272.7h0M324.3 272.6h0M293.9 276.1h0M254.9 281.6h0M316.1 282.5h0M259.2 287.6h0M298.0 289.2h0M304.3 288.8h0M337.2 288.5h0M221.1 291.0h0M256.6 290.6h0M325.8 293.1h0M339.9 291.1h0M231.6 296.4h0M239.9 297.4h0M327.6 296.7h0M242.3 301.0h0M247.2 300.1h0M299.0 299.9h0M286.2 302.7h0M288.9 302.0h0M309.0 303.8h0M321.5 304.1h0M320.9 305.8h0M223.2 308.7h0M254.3 308.2h0M228.6 310.3h0M253.7 310.0h0M325.8 311.0h0M343.1 312.7h0M216.9 314.9h0M253.7 313.5h0M220.6 321.1h0M232.6 320.0h0M329.9 320.3h0M223.4 326.1h0M326.7 324.5h0M218.9 331.2h0M316.4 329.9h0M341.4 330.3h0M252.7 334.3h0M311.9 334.0h0M316.9 335.2h0M226.8 337.4h0M230.8 335.9h0M250.8 340.6h0M228.4 341.2h0M330.0 341.6h0M240.4 343.8h0" stroke="#B86C48" stroke-width="2.4"/><path d="M249.1 261.9h0M247.9 265.9h0M235.4 268.7h0M261.2 270.6h0M334.1 272.0h0M341.8 273.1h0M261.8 274.3h0M222.6 279.3h0M230.5 279.9h0M236.0 280.4h0M257.1 282.7h0M284.0 292.8h0M293.3 293.1h0M283.3 298.7h0M221.0 300.4h0M240.4 302.0h0M242.6 302.8h0M216.5 311.3h0M303.5 310.7h0M278.7 313.2h0M300.0 315.6h0M259.6 337.4h0M302.3 337.8h0M317.8 336.0h0M320.0 336.7h0" stroke="#A85C38" stroke-width="1.6"/><path d="M253.5 261.7h0M306.3 260.8h0M309.2 265.1h0M323.5 268.6h0M227.3 272.1h0M286.6 272.6h0M298.6 281.1h0M338.5 292.4h0M260.1 298.4h0M280.8 297.2h0M290.7 296.1h0M260.0 302.5h0M285.3 302.0h0M306.6 304.3h0M266.3 315.2h0M334.1 320.6h0M344.6 321.5h0M328.1 331.9h0M240.4 337.5h0M297.8 337.4h0M334.3 336.8h0M267.2 343.0h0M297.8 341.7h0" stroke="#B86C48" stroke-width="2.8"/><path d="M265.1 260.5h0M298.1 264.4h0M300.0 264.6h0M221.7 268.1h0M296.9 271.8h0M258.3 276.2h0M278.5 281.2h0M224.9 291.4h0M232.3 290.5h0M307.3 290.9h0M217.5 293.7h0M286.6 300.3h0M315.1 300.1h0M262.3 304.7h0M342.6 317.6h0M304.3 320.0h0M218.1 328.8h0M230.6 330.6h0M321.8 342.8h0" stroke="#A85C38" stroke-width="2.8"/><path d="M266.7 259.9h0M272.2 261.0h0M337.7 259.8h0M293.4 263.4h0M269.9 267.5h0M255.9 269.5h0M277.6 269.5h0M223.2 274.5h0M240.3 278.4h0M317.8 283.9h0M233.6 285.9h0M263.1 286.2h0M294.0 289.0h0M290.5 293.1h0M236.4 293.8h0M244.7 295.5h0M310.1 293.9h0M312.0 293.5h0M236.2 299.4h0M279.9 303.5h0M291.8 305.4h0M221.5 310.4h0M288.8 311.8h0M312.8 312.1h0M222.8 313.5h0M221.7 323.2h0M300.8 325.8h0M317.6 328.4h0M332.2 330.0h0M303.3 336.6h0M217.2 343.2h0M231.9 342.4h0" stroke="#B86C48" stroke-width="1.6"/><path d="M275.1 260.8h0M279.4 259.8h0M218.0 264.4h0M261.2 263.0h0M344.5 263.8h0M244.8 265.8h0M261.9 266.0h0M268.0 266.4h0M335.2 268.0h0M343.8 265.3h0M292.3 270.0h0M301.5 268.3h0M242.9 272.8h0M256.5 272.0h0M333.6 271.9h0M323.0 276.7h0M285.7 283.1h0M226.6 286.0h0M330.0 287.4h0M275.4 289.9h0M313.6 289.6h0M340.4 288.9h0M342.3 289.3h0M227.9 291.9h0M251.8 291.4h0M261.2 290.9h0M219.2 297.5h0M305.3 298.3h0M227.3 300.7h0M291.9 299.4h0M237.6 303.7h0M266.3 303.1h0M245.1 305.6h0M277.0 305.3h0M277.7 306.2h0M330.7 306.3h0M272.3 315.6h0M278.3 316.4h0M302.6 321.5h0M232.3 324.1h0M332.6 325.3h0M253.3 330.7h0M311.1 331.0h0M234.1 333.7h0M325.5 335.0h0M244.8 337.8h0M256.8 335.9h0M310.1 336.2h0M325.0 337.6h0M327.0 337.8h0M245.7 340.3h0M257.9 339.6h0M262.0 339.8h0M314.8 340.3h0M325.2 343.5h0" stroke="#C07C54" stroke-width="2.0"/><path d="M296.5 260.0h0M344.2 261.5h0M230.2 266.2h0M274.5 267.6h0M314.7 267.2h0M237.2 270.0h0M307.3 269.0h0M217.7 277.6h0M274.1 278.3h0M245.1 281.9h0M271.7 281.7h0M288.4 280.3h0M341.6 281.9h0M241.8 284.3h0M265.7 282.0h0M282.8 282.3h0M299.9 284.3h0M275.0 286.1h0M288.4 287.7h0M303.1 292.2h0M317.6 291.3h0M249.2 294.0h0M272.7 294.7h0M234.7 301.4h0M307.5 301.2h0M234.2 303.7h0M315.6 302.4h0M287.8 304.8h0M219.8 309.7h0M299.9 310.4h0M289.7 313.6h0M291.9 318.8h0M231.1 324.0h0M321.0 321.9h0M324.0 326.2h0M296.9 335.4h0M337.4 336.8h0M301.7 340.5h0M343.9 338.7h0M225.9 341.2h0M248.6 342.2h0M258.1 342.1h0M301.3 341.2h0M336.5 341.0h0" stroke="#9C5030" stroke-width="2.0"/><path d="M324.4 261.2h0M246.2 263.5h0M300.8 267.1h0M266.2 269.8h0M281.4 269.2h0M232.1 274.4h0M294.0 280.3h0M304.8 280.0h0M286.7 285.4h0M342.3 284.8h0M231.5 288.0h0M254.6 290.9h0M291.5 295.3h0M237.1 297.6h0M272.8 304.3h0M298.8 303.9h0M259.2 311.4h0M314.2 312.3h0M275.2 315.3h0M292.2 315.5h0M322.4 320.2h0M226.9 326.8h0M223.4 337.5h0M247.5 339.8h0M244.4 340.9h0" stroke="#9C5030" stroke-width="1.6"/><path d="M229.1 265.9h0M252.0 266.4h0M300.0 267.4h0M321.6 266.4h0M267.0 268.0h0M320.7 268.9h0M224.7 272.5h0M324.8 283.8h0M236.1 285.7h0M290.1 285.4h0M302.7 284.9h0M227.1 289.4h0M235.6 290.0h0M262.7 303.1h0M300.9 301.8h0M338.0 303.0h0M290.0 309.8h0M295.0 307.6h0M272.3 311.6h0M324.1 310.4h0M261.7 313.7h0M314.8 319.0h0M218.2 322.0h0M337.9 325.7h0M296.6 343.6h0M335.5 343.7h0" stroke="#C07C54" stroke-width="2.8"/><path d="M325.6 267.2h0M230.2 270.2h0M252.7 270.7h0M326.1 269.9h0M312.2 275.4h0M329.6 274.2h0M343.8 276.3h0M294.7 280.7h0M218.0 284.3h0M305.7 282.8h0M245.7 286.2h0M253.6 287.4h0M255.8 286.6h0M343.7 292.7h0M220.9 294.9h0M266.3 293.8h0M311.9 305.3h0M312.7 314.0h0M226.4 316.4h0M318.5 324.0h0M315.1 327.9h0M342.5 328.9h0M249.2 335.1h0M240.8 342.2h0" stroke="#C07C54" stroke-width="1.6"/><path d="M335.5 275.4h0M344.2 280.4h0M327.4 282.4h0M258.6 292.1h0M310.6 291.6h0M223.0 297.0h0M268.9 297.0h0M296.4 298.2h0M245.8 300.1h0M237.3 305.4h0M303.3 304.9h0M306.7 306.7h0M332.4 314.3h0M303.7 317.7h0M320.9 317.5h0M319.7 326.6h0M306.6 334.5h0M320.4 333.7h0M220.4 336.7h0M230.2 339.9h0M254.0 338.7h0" stroke="#9C5030" stroke-width="2.8"/></g>
<g fill="none" stroke-linecap="round"><path d="M263.1 267.1h0M289.8 269.4h0M294.1 269.6h0M304.9 270.5h0M280.4 275.1h0M270.0 278.7h0M259.2 280.4h0M279.9 279.1h0M284.6 279.5h0M256.3 284.0h0M320.0 284.7h0M316.3 290.6h0M316.7 302.8h0M335.7 304.2h0M322.7 307.6h0M320.7 311.0h0M326.6 312.4h0M248.5 314.9h0M327.2 317.1h0M269.2 321.0h0M274.0 319.8h0M240.3 323.2h0M246.2 323.9h0M275.4 324.8h0M253.6 327.9h0M277.4 328.6h0M289.0 328.6h0M271.8 341.1h0" stroke="#904448" stroke-width="2.8"/><path d="M285.3 268.6h0M303.3 272.6h0M291.6 275.4h0M259.4 278.7h0M287.5 277.0h0M291.9 278.6h0M293.5 278.6h0M293.9 280.3h0M253.4 283.8h0M299.1 284.0h0M318.7 284.4h0M314.9 296.3h0M225.8 304.9h0M230.7 304.9h0M321.8 303.7h0M228.2 307.3h0M235.3 309.0h0M330.4 311.4h0M247.0 317.1h0M250.0 315.6h0M294.3 317.6h0M237.2 320.8h0M251.9 321.8h0M260.8 321.2h0M262.1 321.9h0M271.7 324.2h0M277.6 322.3h0M290.7 324.2h0M293.1 323.9h0M270.7 324.7h0M281.6 326.1h0M262.6 328.8h0M255.7 331.4h0M270.5 331.6h0M265.9 333.6h0M294.2 331.6h0M296.0 333.1h0M291.9 336.9h0M279.2 340.4h0M295.5 339.5h0M269.5 341.8h0" stroke="#843A3E" stroke-width="2.4"/><path d="M298.6 267.9h0M275.9 271.4h0M251.6 278.0h0M281.0 282.3h0M329.8 295.3h0M237.5 307.6h0M231.5 312.2h0M258.6 311.3h0M234.7 314.2h0M225.3 315.1h0M232.5 316.4h0M236.8 318.9h0M241.7 320.4h0M267.8 331.6h0M281.1 330.4h0M252.5 332.2h0M270.7 334.8h0" stroke="#843A3E" stroke-width="1.6"/><path d="M268.0 271.3h0M297.2 272.6h0M273.1 274.8h0M274.6 274.9h0M303.6 274.8h0M323.8 280.7h0M300.9 283.4h0M311.2 283.0h0M324.0 283.4h0M308.6 285.7h0M323.6 284.0h0M320.4 292.7h0M322.2 297.6h0M230.2 300.2h0M231.8 307.3h0M242.2 308.6h0M333.7 311.0h0M253.1 316.1h0M273.3 314.8h0M246.2 318.9h0M279.5 320.3h0M238.6 323.4h0M256.5 322.1h0M284.0 323.0h0M248.2 327.7h0M256.0 328.2h0M263.2 330.0h0M262.2 332.9h0M267.6 332.0h0M275.4 331.9h0M296.9 335.4h0M276.1 338.8h0M263.8 341.4h0" stroke="#904448" stroke-width="2.0"/><path d="M298.3 270.5h0M264.3 280.4h0M327.9 294.7h0M318.8 300.4h0M235.7 305.0h0M328.8 303.9h0M227.6 309.2h0M237.5 315.0h0M270.4 318.0h0M285.8 323.5h0M298.2 323.0h0M239.1 325.3h0M289.0 325.2h0M265.5 328.6h0M251.5 330.7h0M273.4 332.0h0" stroke="#783236" stroke-width="2.8"/><path d="M303.4 270.2h0M311.0 271.5h0M260.2 273.2h0M313.1 274.0h0M304.1 279.7h0M237.2 314.7h0M242.8 313.7h0M266.8 326.6h0M268.5 327.2h0M278.9 327.2h0M249.7 334.8h0M264.4 335.5h0M266.6 334.7h0M273.1 334.1h0M269.5 338.0h0M298.7 337.9h0M269.5 339.3h0M286.5 339.6h0M291.9 339.6h0M282.3 342.2h0" stroke="#904448" stroke-width="1.6"/><path d="M251.6 273.3h0M302.2 272.7h0M269.4 275.6h0M294.0 274.6h0M306.8 274.8h0M253.6 278.1h0M263.9 278.4h0M299.0 276.6h0M248.8 281.2h0M268.7 278.8h0M321.7 287.8h0M228.1 302.7h0M241.5 310.0h0M324.1 311.2h0M239.6 314.1h0M255.2 315.7h0M246.1 326.2h0M261.7 325.8h0M287.7 328.2h0M299.1 327.5h0M287.5 331.2h0M287.9 334.7h0M266.1 337.7h0M267.0 338.5h0M273.4 337.0h0M284.7 336.9h0M264.2 340.6h0" stroke="#9A5052" stroke-width="2.8"/><path d="M273.4 273.7h0M299.8 273.4h0M305.6 273.0h0M322.7 282.8h0M325.0 309.6h0M292.6 319.9h0M267.2 324.2h0M270.7 322.7h0M298.3 326.4h0M248.4 330.5h0M277.8 329.4h0M284.5 330.6h0M288.8 331.3h0M290.7 335.1h0M288.2 341.7h0" stroke="#843A3E" stroke-width="2.8"/><path d="M290.3 272.0h0M276.9 275.2h0M287.5 274.7h0M289.8 278.4h0M317.0 290.0h0M327.6 291.4h0M320.0 305.1h0M324.7 305.7h0M329.7 307.2h0M230.1 311.7h0M236.6 310.8h0M321.4 312.7h0M332.5 314.2h0M254.0 318.8h0M266.4 319.5h0M277.8 321.0h0M283.0 320.9h0M243.8 322.4h0M247.5 322.4h0M260.9 323.3h0M241.3 324.6h0M293.8 324.4h0M273.0 327.9h0M274.0 329.5h0M280.7 329.2h0M260.4 332.0h0M278.2 332.1h0M278.8 335.0h0M286.5 337.3h0M281.2 339.4h0M265.8 341.4h0M291.8 341.5h0" stroke="#9A5052" stroke-width="2.4"/><path d="M320.1 272.7h0M296.4 276.8h0M300.4 277.9h0M309.1 280.8h0M306.6 287.6h0M316.4 287.7h0M328.7 304.8h0M227.1 305.7h0M237.9 307.2h0M262.8 313.6h0M239.4 317.1h0M277.2 318.8h0M246.7 320.9h0M252.7 321.3h0M279.6 322.1h0M251.3 325.2h0M253.6 326.6h0M285.6 325.2h0M291.9 325.7h0M233.7 328.8h0M306.3 327.2h0M290.5 330.5h0M295.6 331.0h0M283.7 332.0h0M260.5 334.5h0M268.1 342.1h0M273.5 341.8h0M283.6 343.6h0" stroke="#783236" stroke-width="2.4"/><path d="M261.1 274.0h0M246.8 277.1h0M257.9 277.5h0M305.1 280.3h0M318.5 286.1h0M320.1 286.3h0M321.3 290.5h0M327.9 289.3h0M326.3 293.4h0M323.4 301.6h0M233.0 309.1h0M248.0 312.0h0M246.4 314.6h0M234.3 315.0h0M313.5 314.9h0M237.9 321.5h0M231.2 322.3h0M236.7 322.2h0M276.3 325.9h0M279.5 326.2h0M261.3 327.1h0M269.5 328.1h0M303.7 329.7h0M280.0 331.7h0M246.0 334.2h0" stroke="#9A5052" stroke-width="2.0"/><path d="M261.9 274.5h0M268.3 274.4h0M314.7 275.6h0M303.0 277.2h0M309.4 277.4h0M311.4 277.4h0M252.2 279.3h0M314.3 282.9h0M307.0 285.7h0M332.3 285.9h0M321.9 292.3h0M321.2 294.0h0M325.2 296.9h0M228.2 304.9h0M230.5 308.1h0M318.0 309.0h0M244.8 312.3h0M317.0 312.9h0M242.6 315.1h0M251.2 318.1h0M255.1 321.1h0M266.8 320.0h0M288.6 323.3h0M291.5 327.4h0M236.4 330.4h0M292.8 331.4h0M252.0 333.7h0M285.9 332.6h0M290.5 331.9h0M284.0 335.3h0M257.0 337.4h0M273.7 340.2h0M292.9 339.7h0M280.4 343.2h0" stroke="#783236" stroke-width="2.0"/><path d="M256.3 277.1h0M330.2 297.3h0M229.5 308.3h0M331.8 307.6h0M323.7 311.6h0M326.2 312.4h0M241.9 316.0h0M233.1 318.4h0M240.9 319.2h0M272.9 322.0h0M254.6 326.3h0M259.2 326.1h0M257.0 328.1h0M257.5 333.1h0" stroke="#783236" stroke-width="1.6"/><path d="M276.1 278.5h0M315.5 276.9h0M251.3 280.0h0M268.9 279.8h0M309.8 278.8h0M254.8 283.2h0M326.4 288.5h0M316.2 292.5h0M322.7 298.1h0M232.6 301.4h0M324.8 304.2h0M318.3 305.2h0M238.8 312.3h0M241.2 314.5h0M256.0 313.5h0M262.5 316.6h0M239.9 319.5h0M314.0 319.3h0M250.9 322.5h0M258.2 324.0h0M244.7 326.5h0M272.0 325.3h0M243.4 328.9h0M274.9 328.8h0M297.0 328.9h0M259.2 329.3h0M254.8 333.1h0M281.3 331.6h0M288.1 332.4h0M282.3 334.7h0M256.2 336.6h0M273.8 338.6h0M288.5 337.9h0M262.6 339.1h0M266.9 340.7h0M274.0 343.1h0M277.1 342.4h0" stroke="#843A3E" stroke-width="2.0"/><path d="M284.1 278.7h0M234.8 311.6h0M230.4 315.1h0M243.3 320.5h0M253.1 323.2h0M265.1 326.0h0M297.5 326.4h0M246.5 328.7h0M283.0 327.9h0M284.2 326.8h0M294.7 327.5h0M253.8 329.7h0M265.2 331.0h0M271.9 331.0h0M298.1 330.7h0M289.8 334.7h0M276.3 338.0h0" stroke="#9A5052" stroke-width="1.6"/><path d="M305.8 278.2h0M285.6 279.5h0M301.0 279.7h0M320.1 280.8h0M247.6 282.5h0M258.0 282.8h0M279.7 282.2h0M317.2 283.2h0M319.0 293.4h0M319.7 296.1h0M317.9 299.8h0M234.4 302.3h0M238.1 309.0h0M255.8 312.4h0M314.6 312.8h0M256.9 315.9h0M276.6 316.8h0M321.9 316.0h0M242.6 318.0h0M257.2 318.8h0M275.9 318.5h0M324.5 318.2h0M257.8 321.5h0M265.2 321.2h0M297.5 321.5h0M263.3 322.9h0M282.2 323.9h0M241.4 327.5h0M257.6 331.0h0M269.6 332.6h0M258.5 334.0h0M274.5 334.9h0M277.9 335.3h0M294.8 335.9h0M278.5 337.9h0M281.3 336.7h0M284.1 339.2h0M289.3 340.1h0M286.3 341.4h0" stroke="#904448" stroke-width="2.4"/></g>
<g fill="none" stroke-linecap="round"><path d="M285.7 269.8h0M244.5 317.4h0M236.3 320.0h0M243.4 323.7h0M275.9 335.5h0" stroke="#D0C0CA" stroke-width="2.0"/><path d="M273.8 276.9h0M248.9 280.1h0M243.3 285.5h0M239.8 318.4h0M284.7 320.1h0M239.8 328.8h0M250.2 334.2h0" stroke="#D0C0CA" stroke-width="1.6"/><path d="M321.5 294.6h0M334.5 301.7h0M231.1 311.8h0M243.2 310.8h0M268.1 326.2h0M245.4 329.7h0M268.2 338.6h0" stroke="#C8B8C4" stroke-width="2.0"/><path d="M254.8 311.1h0M250.3 324.2h0" stroke="#C8B8C4" stroke-width="1.6"/></g>
</g>
<g filter="url(#bl1)"><path d="M238.5,290.5 L243.0,284.0 L252.7,280.2 L265.0,278.6 L278.4,278.9 L290.0,280.2 L299.0,282.8 L306.0,287.0 L311.9,293.1 L315.2,299.0 L315.8,306.0 L314.5,316.3 L309.4,320.9 L300.0,321.0 L291.3,320.1 L273.3,315.0 L255.2,308.5 L246.0,304.0 L240.5,298.0 Z" fill="#F4F0EB" stroke="#E0C0B8" stroke-width="0.8"/></g>
</g>
<rect x="221.8" y="333.2" width="25.9" height="2.6" fill="#000"/>
<text x="221.6" y="276" font-size="12.5" font-weight="bold" fill="#000">iii</text>
<g clip-path="url(#c_iv)">
<rect x="348.5" y="259.8" width="129.8" height="84" fill="#E2C9B8"/>
<ellipse cx="362" cy="278" rx="20" ry="16" fill="#D2CACE" filter="url(#bl5)"/>
<ellipse cx="362" cy="312" rx="11" ry="20" fill="#D8CCCA" filter="url(#bl5)"/>
<path d="M458,258 L480,258 L480,302 L468,300 Z" fill="#E4D2C2" filter="url(#bl5)"/>
<g filter="url(#bd)">
<g fill="none" stroke-linecap="round"><path d="M358.6 261.6h0M352.3 269.1h0M352.6 270.4h0M360.2 272.8h0M459.1 271.6h0M465.3 271.6h0M396.5 279.3h0M429.9 276.9h0M439.1 279.7h0M454.7 277.4h0M364.4 283.0h0M372.2 283.5h0M392.9 283.2h0M409.1 280.2h0M362.1 286.8h0M353.7 287.5h0M413.0 292.6h0M458.8 293.1h0M354.2 302.0h0M365.4 303.8h0M374.0 300.9h0M442.5 300.9h0M367.3 305.1h0M462.4 306.6h0M357.1 323.3h0M384.0 323.9h0M460.2 329.6h0M365.6 333.4h0M420.5 342.2h0" stroke="#CCC2C4" stroke-width="2.0"/><path d="M368.7 260.4h0M460.5 263.0h0M469.3 261.6h0M363.1 271.7h0M370.3 272.7h0M455.3 271.0h0M352.4 275.2h0M444.6 284.7h0M357.8 291.4h0M381.3 293.8h0M391.5 290.6h0M393.5 292.1h0M374.7 293.8h0M468.6 295.2h0M476.6 295.0h0M477.4 302.1h0M408.9 308.1h0M382.0 318.0h0M452.7 319.2h0M472.7 320.9h0M424.8 322.7h0M398.7 326.5h0M476.6 331.2h0M364.5 332.7h0M453.5 331.5h0" stroke="#D0C6C6" stroke-width="2.4"/><path d="M388.4 261.9h0M455.6 260.5h0M466.0 263.7h0M442.1 270.4h0M371.5 278.2h0M373.6 282.7h0M385.5 284.7h0M412.7 285.0h0M441.8 283.9h0M475.7 284.6h0M445.7 290.0h0M474.0 290.4h0M361.3 293.5h0M387.6 292.8h0M371.3 296.9h0M464.3 295.0h0M376.3 301.5h0M381.7 301.7h0M403.3 309.5h0M424.3 309.0h0M440.5 309.8h0M369.2 312.5h0M417.0 316.7h0M349.5 320.6h0M361.9 319.2h0M360.8 322.9h0M407.3 327.4h0M419.6 330.1h0M354.4 337.4h0M349.4 342.2h0" stroke="#D4CACA" stroke-width="2.0"/><path d="M400.7 260.3h0M365.6 267.1h0M413.5 275.6h0M384.6 278.4h0M351.5 285.9h0M460.0 285.7h0M364.4 290.8h0M452.2 291.1h0M468.6 292.0h0M369.9 304.5h0M397.9 308.2h0M478.0 314.2h0M357.9 329.2h0M423.4 330.6h0M396.5 339.6h0M436.8 343.5h0" stroke="#CCC2C4" stroke-width="1.6"/><path d="M441.5 259.9h0M355.8 270.7h0M463.9 272.3h0M445.2 273.9h0M405.8 279.5h0M350.5 282.3h0M355.0 284.5h0M422.6 284.5h0M350.5 289.5h0M358.5 295.5h0M359.7 297.3h0M397.1 305.0h0M425.5 305.5h0M356.4 310.5h0M362.8 309.6h0M377.9 308.4h0M380.9 315.3h0M441.3 315.1h0M374.6 325.9h0M378.8 327.0h0M434.1 327.0h0M448.3 325.3h0M382.8 337.4h0" stroke="#D8CECC" stroke-width="2.4"/><path d="M464.2 261.1h0M363.4 263.8h0M384.5 268.5h0M468.5 267.8h0M377.4 273.1h0M372.8 274.8h0M388.9 275.1h0M473.5 276.7h0M381.9 277.3h0M366.4 282.4h0M423.4 284.0h0M464.2 284.5h0M406.1 287.7h0M448.4 289.3h0M360.4 295.6h0M444.1 302.0h0M435.6 304.1h0M443.5 304.7h0M434.9 334.0h0" stroke="#D4CACA" stroke-width="2.4"/><path d="M472.6 262.8h0M354.0 265.0h0M432.0 271.4h0M475.4 272.9h0M361.6 274.2h0M363.0 275.4h0M358.8 279.7h0M382.5 282.3h0M396.2 283.1h0M472.7 280.6h0M368.6 285.8h0M356.7 288.6h0M369.9 290.0h0M373.0 288.4h0M443.3 293.2h0M394.6 294.5h0M440.4 295.5h0M472.7 297.0h0M368.7 299.3h0M393.8 298.8h0M472.1 300.7h0M455.7 309.8h0M355.9 310.9h0M440.0 312.9h0M442.9 312.2h0M477.4 311.1h0M424.1 319.1h0M477.0 319.6h0M410.4 322.5h0M467.6 322.4h0M427.2 326.1h0M419.0 334.3h0M443.9 333.9h0M476.8 333.6h0M440.0 334.8h0M476.8 335.7h0" stroke="#D0C6C6" stroke-width="2.0"/><path d="M416.2 263.8h0M454.6 265.1h0M359.8 266.7h0M375.8 267.4h0M365.9 272.6h0M455.3 274.4h0M391.1 282.1h0M433.3 284.3h0M375.7 295.0h0M432.4 303.3h0M430.9 329.2h0M422.2 337.0h0M400.4 338.3h0" stroke="#D8CECC" stroke-width="1.6"/><path d="M469.8 266.6h0M398.1 267.5h0M477.2 273.5h0M419.1 279.1h0M463.0 277.8h0M429.9 281.5h0M454.9 280.3h0M363.4 284.9h0M397.0 298.0h0M438.9 299.0h0M455.0 302.0h0M377.3 307.0h0M447.0 304.5h0M380.9 308.3h0M473.7 308.2h0M444.0 311.5h0M449.7 313.4h0M358.9 315.0h0M405.3 315.9h0M409.9 316.1h0M450.5 317.0h0M416.4 325.8h0M386.9 328.3h0M443.5 330.4h0M403.8 336.5h0M413.6 341.8h0" stroke="#CCC2C4" stroke-width="2.4"/><path d="M351.6 266.9h0M387.8 269.7h0M406.0 269.8h0M350.4 271.2h0M373.3 273.3h0M400.9 271.9h0M469.4 271.0h0M365.8 275.6h0M370.4 274.0h0M353.4 277.1h0M365.3 277.7h0M441.9 278.7h0M465.7 283.2h0M388.5 285.0h0M467.6 285.6h0M471.9 284.3h0M401.5 288.4h0M437.6 293.1h0M353.9 297.6h0M423.1 298.3h0M368.7 309.3h0M416.3 309.1h0M458.5 310.0h0M478.2 308.9h0M380.8 313.6h0M387.8 313.1h0M366.2 316.6h0M428.9 317.4h0M449.5 320.6h0M436.2 323.7h0M456.5 322.7h0M402.1 330.4h0M411.5 337.4h0M469.0 338.5h0M443.2 343.3h0" stroke="#D8CECC" stroke-width="2.0"/><path d="M373.6 266.7h0M405.2 274.3h0M361.3 282.9h0M471.2 293.6h0M476.2 298.1h0M470.4 301.6h0M362.7 306.7h0M411.7 310.3h0M349.0 313.3h0M455.6 316.4h0M394.4 333.4h0M391.5 335.1h0" stroke="#D0C6C6" stroke-width="1.6"/><path d="M399.4 274.7h0M466.4 274.0h0M469.4 279.7h0M460.0 280.3h0M474.4 282.9h0M365.1 290.4h0M398.9 295.6h0M439.0 305.2h0M450.8 317.2h0M363.1 319.9h0M376.0 329.6h0M383.8 329.8h0M405.3 331.1h0" stroke="#D4CACA" stroke-width="1.6"/></g>
<g fill="none" stroke-linecap="round"><path d="M353.6 261.3h0M359.3 261.7h0M470.6 262.2h0M416.0 266.0h0M470.2 271.6h0M391.0 273.7h0M435.3 280.2h0M406.2 285.3h0M432.2 305.6h0M449.2 308.4h0M361.9 315.8h0M351.6 336.1h0M406.5 334.5h0" stroke="#C08C64" stroke-width="1.2"/><path d="M368.1 262.7h0M436.4 262.2h0M406.4 265.1h0M461.2 264.6h0M468.1 265.3h0M351.7 271.8h0M360.8 271.4h0M469.9 273.3h0M365.6 278.1h0M361.3 279.8h0M477.9 281.9h0M350.4 282.3h0M447.4 282.4h0M358.0 286.4h0M426.6 288.5h0M477.8 287.4h0M370.7 289.2h0M368.6 293.3h0M427.7 293.8h0M369.9 295.6h0M426.3 296.1h0M430.2 296.1h0M477.3 299.5h0M469.6 302.6h0M367.5 306.5h0M386.1 306.9h0M463.8 306.4h0M370.2 308.3h0M387.8 309.9h0M469.8 323.0h0M362.7 332.2h0M454.7 335.7h0" stroke="#D2A27C" stroke-width="1.6"/><path d="M380.6 262.0h0M417.9 260.6h0M364.8 268.4h0M432.9 267.2h0M442.1 269.7h0M413.5 272.6h0M392.4 277.4h0M373.3 280.9h0M376.9 280.9h0M402.8 281.8h0M442.1 279.0h0M462.6 285.2h0M370.7 286.1h0M456.9 287.5h0M445.1 290.2h0M464.3 288.9h0M394.0 294.0h0M435.5 300.1h0M361.2 305.1h0M398.7 307.6h0M430.8 307.7h0M458.6 308.1h0M359.3 311.5h0M467.1 311.9h0M360.3 315.5h0M432.0 315.1h0M451.3 314.4h0M411.7 318.4h0M430.1 321.5h0M350.2 328.0h0M424.9 329.2h0M451.0 332.3h0M438.3 333.4h0M417.7 339.0h0" stroke="#C08C64" stroke-width="1.6"/><path d="M456.2 260.9h0M351.9 265.2h0M400.5 266.1h0M363.7 274.2h0M462.8 274.3h0M379.3 276.4h0M407.0 295.1h0M376.1 301.3h0M411.0 301.1h0M471.1 299.6h0M478.0 304.8h0M435.1 311.9h0M375.3 320.3h0M395.5 317.4h0M475.7 320.8h0M356.5 328.4h0M420.9 328.3h0M356.4 332.9h0" stroke="#D2A27C" stroke-width="2.0"/><path d="M358.3 265.9h0M457.7 264.8h0M357.4 266.8h0M383.0 267.6h0M474.4 268.4h0M406.6 272.6h0M456.2 273.2h0M357.1 280.1h0M359.7 280.6h0M378.9 279.3h0M355.7 283.9h0M378.4 283.4h0M473.8 287.6h0M359.8 291.7h0M362.5 288.7h0M387.7 289.5h0M467.1 290.4h0M461.4 292.8h0M478.2 297.1h0M408.7 300.9h0M349.7 302.1h0M360.9 303.4h0M355.1 310.4h0M461.0 307.9h0M472.0 309.5h0M420.6 313.5h0M382.4 319.5h0M392.1 321.6h0M433.1 322.8h0M431.7 327.5h0M438.6 330.1h0M423.0 330.6h0M376.7 340.7h0" stroke="#CFA07A" stroke-width="1.6"/><path d="M364.3 264.5h0M426.0 265.9h0M363.9 268.7h0M393.0 269.4h0M376.3 278.5h0M362.5 286.1h0M374.4 286.9h0M398.7 286.0h0M447.8 289.3h0M354.3 293.8h0M382.9 293.7h0M473.3 298.2h0M391.2 309.7h0M461.0 317.2h0M362.1 323.2h0M362.1 325.9h0M405.0 330.0h0" stroke="#C6946C" stroke-width="1.2"/><path d="M369.3 263.2h0M385.6 266.7h0M379.1 274.5h0M388.0 274.2h0M350.3 279.0h0M409.1 280.1h0M447.7 281.4h0M415.6 286.9h0M378.2 292.9h0M426.0 300.3h0M434.3 314.0h0M370.9 316.4h0M422.5 325.1h0M399.1 330.8h0" stroke="#D2A27C" stroke-width="1.2"/><path d="M368.4 268.6h0M376.7 268.9h0M390.2 269.5h0M412.4 272.5h0M473.4 275.5h0M368.7 280.8h0M377.6 286.8h0M423.9 287.1h0M426.9 289.3h0M354.3 297.4h0M434.8 309.8h0M417.3 313.7h0" stroke="#CFA07A" stroke-width="2.0"/><path d="M419.8 266.6h0M377.5 272.0h0M348.5 275.4h0M435.9 276.7h0M429.5 282.0h0M468.0 280.7h0M363.5 284.5h0M426.3 284.0h0M437.2 284.5h0M466.1 287.6h0M357.9 293.6h0M472.8 292.2h0M450.1 295.9h0M360.7 300.4h0M433.1 300.1h0M392.4 305.4h0M430.1 316.8h0M389.6 322.8h0M399.3 337.2h0" stroke="#C6946C" stroke-width="1.6"/><path d="M468.1 268.9h0M354.8 275.0h0M402.1 277.1h0M477.9 275.9h0M474.5 284.9h0M458.6 286.9h0M465.6 295.7h0M400.5 310.3h0M456.0 318.1h0M462.3 319.6h0M402.1 324.1h0M407.3 324.7h0M430.3 323.8h0M419.7 342.0h0M476.0 342.3h0" stroke="#D6AC88" stroke-width="2.0"/><path d="M472.5 267.0h0M364.8 274.7h0M359.1 275.8h0M363.9 276.0h0M460.6 276.8h0M399.4 281.9h0M423.8 284.4h0M476.4 292.4h0M358.0 299.1h0M402.2 299.3h0M436.4 304.9h0M439.9 308.5h0M459.7 312.5h0M380.9 326.4h0M396.0 333.7h0" stroke="#CFA07A" stroke-width="1.2"/><path d="M476.9 268.9h0M351.5 271.5h0M363.3 271.6h0M452.3 276.9h0M423.6 281.2h0M365.8 286.5h0M367.5 290.4h0M431.6 290.1h0M375.0 315.2h0M369.1 319.6h0M381.7 330.0h0M437.2 332.1h0M366.0 334.0h0M405.9 336.5h0M413.7 335.3h0M362.8 336.6h0" stroke="#C6946C" stroke-width="2.0"/><path d="M365.9 270.3h0M410.9 275.0h0M434.1 278.6h0M458.6 275.9h0M466.3 278.5h0M475.8 278.2h0M465.6 279.8h0M474.4 281.9h0M371.0 286.5h0M472.7 288.1h0M473.7 290.0h0M454.5 292.7h0M398.0 298.0h0M414.8 295.1h0M445.6 297.7h0M475.1 296.5h0M356.0 305.1h0M354.8 308.1h0M369.0 311.4h0M389.9 312.4h0M398.2 311.3h0M355.2 325.7h0M376.8 324.7h0M417.0 324.9h0M435.7 326.1h0M461.0 326.0h0M359.3 327.4h0M436.3 328.2h0M433.2 332.7h0M356.2 339.3h0M424.3 337.3h0M409.3 341.7h0M439.0 341.1h0" stroke="#D6AC88" stroke-width="1.6"/><path d="M453.8 271.7h0M474.6 272.6h0M396.4 286.5h0M366.9 297.7h0M366.8 300.1h0M441.3 299.1h0M366.5 315.8h0M476.7 323.3h0M352.1 323.9h0M448.7 325.5h0M351.3 330.2h0M353.6 333.6h0M387.8 337.1h0M414.4 342.8h0M418.6 341.7h0" stroke="#C08C64" stroke-width="2.0"/><path d="M355.2 275.4h0M370.8 274.2h0M470.2 275.7h0M357.8 278.0h0M387.1 276.3h0M399.1 291.9h0M370.0 299.9h0M361.9 302.7h0M451.3 302.0h0M369.1 316.3h0M396.3 320.6h0M449.9 321.1h0M469.5 335.9h0M461.6 340.8h0" stroke="#D6AC88" stroke-width="1.2"/></g>
<g fill="none" stroke-linecap="round"><path d="M350.4 261.0h0M391.1 261.8h0M394.9 260.9h0M359.3 265.1h0M475.1 264.3h0M382.0 265.7h0M431.7 266.3h0M447.3 266.4h0M445.3 270.0h0M380.2 272.1h0M406.1 270.9h0M441.2 271.8h0M409.6 273.9h0M385.7 283.5h0M446.8 286.1h0M354.6 286.8h0M384.0 289.1h0M352.8 289.8h0M390.7 292.0h0M412.6 291.2h0M383.5 294.0h0M468.0 293.9h0M467.8 296.4h0M412.5 299.3h0M424.5 300.1h0M462.7 299.6h0M377.9 300.8h0M389.4 305.5h0M376.2 307.2h0M444.0 305.7h0M459.0 306.8h0M350.0 310.8h0M355.2 309.8h0M364.5 309.4h0M376.0 308.9h0M414.5 309.9h0M364.2 312.4h0M403.7 312.0h0M441.8 313.4h0M451.5 312.1h0M463.4 312.4h0M431.6 315.6h0M470.6 314.5h0M392.6 316.8h0M399.6 318.7h0M431.2 318.1h0M439.7 316.8h0M454.2 316.7h0M456.7 317.5h0M351.2 323.6h0M461.0 324.8h0M403.1 328.2h0M408.2 327.8h0M424.4 328.1h0M350.4 332.7h0M363.4 331.7h0M382.3 331.4h0M353.1 333.8h0M470.0 335.2h0M373.0 337.4h0M443.3 337.2h0M389.8 339.9h0M399.5 338.3h0M447.9 339.2h0M358.1 343.1h0M368.9 341.5h0M376.1 341.8h0M382.3 342.6h0M434.1 342.1h0M473.8 340.8h0M457.4 343.8h0" stroke="#A84A32" stroke-width="2.0"/><path d="M362.1 262.4h0M350.3 262.9h0M459.3 263.7h0M378.8 265.9h0M436.7 265.4h0M420.1 269.0h0M397.1 270.9h0M447.3 276.7h0M400.5 280.3h0M425.9 280.3h0M458.4 280.6h0M463.7 279.2h0M400.6 286.7h0M403.3 284.7h0M422.6 284.5h0M390.6 288.7h0M392.2 289.1h0M436.3 288.2h0M470.7 289.3h0M372.9 290.6h0M378.6 293.2h0M442.5 292.5h0M432.0 296.2h0M358.6 298.6h0M400.3 297.8h0M403.3 298.5h0M408.5 302.5h0M435.9 300.5h0M452.5 300.6h0M349.1 304.6h0M383.5 304.9h0M397.4 303.6h0M426.5 305.2h0M440.8 304.2h0M354.3 307.6h0M412.7 308.0h0M418.0 306.4h0M462.6 308.0h0M417.8 310.8h0M456.9 311.0h0M385.5 311.9h0M395.8 313.7h0M413.6 311.6h0M419.8 311.3h0M470.5 311.1h0M378.0 315.4h0M458.1 314.9h0M465.6 315.3h0M459.9 317.5h0M457.2 321.5h0M462.3 319.4h0M381.5 322.0h0M391.7 322.4h0M396.2 325.6h0M408.5 325.9h0M353.1 332.7h0M355.8 330.2h0M426.7 330.9h0M465.4 331.2h0M460.2 332.8h0M366.5 335.4h0M379.8 336.2h0M409.7 336.0h0M438.9 337.7h0M459.5 336.2h0M407.8 340.2h0M417.2 338.3h0M467.9 339.1h0M393.5 342.6h0M413.8 342.2h0M472.0 342.8h0" stroke="#903A28" stroke-width="2.4"/><path d="M377.4 261.5h0M417.3 260.9h0M418.8 261.0h0M432.1 259.8h0M372.0 267.7h0M399.7 266.8h0M401.0 265.7h0M405.1 267.2h0M443.0 265.5h0M373.8 269.1h0M386.5 269.8h0M431.2 269.6h0M434.7 269.8h0M383.1 274.2h0M440.7 275.2h0M421.9 277.8h0M445.1 276.6h0M349.7 278.8h0M382.1 279.1h0M405.5 280.6h0M410.4 279.0h0M424.1 279.9h0M363.8 283.1h0M352.8 284.8h0M405.9 285.6h0M409.4 286.5h0M425.1 284.3h0M350.2 288.3h0M403.1 287.3h0M415.5 288.4h0M418.4 287.7h0M419.4 287.4h0M424.6 287.0h0M453.9 287.2h0M460.3 288.9h0M410.1 290.6h0M354.0 293.5h0M359.5 294.1h0M449.3 293.4h0M451.4 294.5h0M392.9 296.6h0M398.6 295.5h0M408.7 296.3h0M411.8 297.4h0M423.2 295.9h0M426.6 296.4h0M442.3 295.1h0M393.8 300.3h0M405.1 301.0h0M392.5 303.9h0M402.0 303.2h0M429.1 304.8h0M379.4 306.6h0M423.9 307.9h0M469.1 309.7h0M447.2 311.1h0M349.9 314.7h0M384.6 316.3h0M424.0 314.2h0M427.0 316.4h0M352.5 318.8h0M374.0 321.5h0M393.7 321.7h0M417.9 320.5h0M443.8 321.8h0M472.2 320.3h0M369.6 324.1h0M418.9 322.5h0M425.6 323.5h0M441.7 324.2h0M468.9 323.8h0M383.7 326.0h0M406.0 325.7h0M363.5 329.4h0M365.2 328.5h0M386.9 328.1h0M399.7 329.6h0M444.0 329.0h0M407.5 330.9h0M449.0 330.6h0M381.6 334.8h0M407.2 334.5h0M420.9 334.0h0M390.1 338.1h0M392.7 337.7h0M420.3 336.8h0M371.2 340.4h0M360.2 343.1h0M469.7 341.2h0" stroke="#903A28" stroke-width="2.0"/><path d="M383.4 261.0h0M385.3 261.4h0M437.4 261.1h0M438.5 260.0h0M462.6 262.3h0M404.6 264.7h0M392.0 268.6h0M442.9 270.4h0M417.8 272.1h0M420.0 270.9h0M430.4 271.1h0M452.3 272.8h0M473.2 270.8h0M404.1 274.2h0M431.4 275.6h0M434.2 274.5h0M387.4 278.4h0M391.7 276.7h0M398.1 278.5h0M400.0 277.2h0M419.2 276.5h0M429.2 279.2h0M412.8 281.6h0M381.2 284.6h0M384.0 284.4h0M438.0 286.5h0M381.2 290.6h0M427.6 291.7h0M351.4 293.3h0M423.6 294.4h0M424.7 294.7h0M465.3 293.7h0M418.5 297.0h0M438.9 296.3h0M437.5 300.0h0M440.0 298.1h0M458.5 299.4h0M459.9 299.6h0M381.7 300.5h0M384.0 302.3h0M423.5 301.4h0M373.2 305.3h0M383.9 307.2h0M394.1 307.2h0M395.0 306.6h0M401.2 308.1h0M445.7 306.2h0M471.5 307.3h0M477.4 305.9h0M395.9 308.9h0M434.3 309.1h0M410.7 313.6h0M417.2 311.3h0M425.8 312.3h0M459.2 312.5h0M474.7 312.1h0M353.1 314.0h0M375.3 316.3h0M441.1 314.3h0M372.6 320.8h0M383.0 321.4h0M395.0 321.7h0M421.0 321.0h0M436.6 321.2h0M447.9 321.5h0M474.2 319.4h0M393.9 323.2h0M417.7 323.1h0M383.3 326.6h0M452.0 326.9h0M375.4 330.7h0M354.3 332.9h0M402.5 334.9h0M428.9 334.5h0M450.2 334.2h0M458.1 334.0h0M463.2 332.8h0M382.8 335.5h0M413.5 336.3h0M420.3 338.2h0M428.2 339.3h0M348.9 341.2h0M375.1 342.8h0M403.5 342.6h0M405.3 343.2h0M436.0 343.2h0M451.9 341.7h0" stroke="#9C402C" stroke-width="2.0"/><path d="M393.9 261.8h0M402.1 260.2h0M441.2 261.5h0M445.1 260.0h0M454.5 261.5h0M373.1 264.4h0M383.4 264.3h0M392.6 263.5h0M400.4 264.0h0M392.8 265.9h0M437.7 266.7h0M403.1 270.6h0M457.2 269.4h0M389.2 271.5h0M412.7 272.2h0M447.0 271.2h0M460.2 272.2h0M443.2 274.2h0M418.4 278.4h0M453.0 276.2h0M442.4 280.1h0M355.7 282.2h0M406.6 282.4h0M438.4 282.5h0M452.0 283.5h0M449.2 286.8h0M363.0 289.0h0M448.4 287.2h0M459.5 290.2h0M471.6 290.9h0M372.6 294.9h0M402.9 294.5h0M407.9 294.0h0M411.6 292.6h0M416.5 294.8h0M470.8 294.4h0M377.1 297.1h0M383.4 296.0h0M462.4 296.5h0M415.2 299.7h0M418.4 298.4h0M380.4 303.8h0M464.3 304.4h0M475.4 304.2h0M413.4 306.4h0M448.4 307.6h0M469.6 306.1h0M474.6 307.4h0M350.9 312.5h0M433.5 313.1h0M435.0 311.8h0M444.0 311.2h0M405.6 314.3h0M420.4 314.1h0M473.1 315.9h0M404.8 318.5h0M465.6 318.7h0M401.5 320.9h0M410.7 320.7h0M477.0 321.2h0M379.8 323.9h0M420.1 325.9h0M458.1 325.0h0M475.6 324.6h0M369.6 328.5h0M410.6 328.4h0M431.7 327.3h0M451.0 328.2h0M474.1 329.5h0M435.6 332.4h0M451.8 330.4h0M468.5 330.2h0M474.7 332.5h0M375.9 338.1h0M387.5 335.9h0M472.6 337.4h0M351.2 339.0h0M409.0 340.6h0M424.8 340.4h0M470.4 340.1h0M351.4 342.6h0M356.6 341.0h0M363.5 342.0h0M416.1 341.1h0M429.1 342.8h0M389.3 343.8h0M432.6 343.7h0" stroke="#A84A32" stroke-width="2.4"/><path d="M406.8 261.2h0M432.8 260.2h0M353.2 262.7h0M407.7 264.6h0M420.1 264.5h0M440.2 263.2h0M383.6 267.2h0M433.7 265.9h0M378.9 268.5h0M392.0 272.9h0M394.5 273.0h0M404.3 271.9h0M434.5 272.0h0M435.1 271.5h0M440.2 270.8h0M384.7 274.4h0M387.9 274.1h0M396.6 274.0h0M426.4 275.5h0M429.5 274.6h0M378.2 278.6h0M387.5 281.1h0M445.7 279.3h0M441.3 282.9h0M449.7 281.8h0M467.0 283.6h0M394.6 285.5h0M411.5 286.5h0M453.6 284.8h0M374.5 287.3h0M377.1 288.3h0M423.9 288.0h0M444.3 288.2h0M379.9 291.8h0M464.0 290.8h0M447.9 294.4h0M403.4 295.4h0M435.1 297.1h0M390.2 300.1h0M440.5 300.3h0M447.8 300.1h0M372.6 302.1h0M415.1 302.8h0M403.7 304.0h0M452.8 305.5h0M397.2 308.6h0M372.8 312.6h0M382.5 313.0h0M405.9 312.6h0M408.2 312.8h0M421.6 312.7h0M455.9 315.9h0M463.0 316.9h0M403.2 320.0h0M444.5 322.6h0M449.9 323.4h0M453.2 322.8h0M365.4 326.9h0M369.5 326.7h0M397.5 325.7h0M436.1 326.7h0M373.0 327.8h0M381.3 329.5h0M413.5 329.5h0M427.8 329.2h0M448.4 329.3h0M418.5 332.0h0M394.8 334.1h0M424.0 334.6h0M412.8 336.0h0M417.8 336.4h0M424.7 336.3h0M464.7 335.8h0M468.7 337.9h0M436.1 340.7h0M441.9 340.2h0M450.5 338.5h0M457.1 339.7h0M465.1 338.6h0M421.3 343.4h0M421.6 342.1h0M465.8 341.9h0" stroke="#B05440" stroke-width="2.4"/><path d="M415.9 261.8h0M415.1 277.3h0M439.7 278.6h0M413.3 279.2h0M433.0 282.0h0M461.1 285.6h0M371.3 289.0h0M364.6 290.4h0M459.1 295.8h0M383.4 300.0h0M396.8 303.6h0M455.3 304.0h0M465.0 313.7h0M378.9 318.8h0M391.2 316.8h0M375.5 326.8h0M401.1 327.8h0M470.9 331.1h0M474.2 340.1h0M440.0 343.4h0" stroke="#B05440" stroke-width="2.8"/><path d="M421.7 260.7h0M456.5 260.9h0M431.4 262.9h0M451.4 265.2h0M396.0 266.5h0M385.8 270.1h0M416.4 270.4h0M385.5 272.7h0M443.3 272.2h0M462.6 275.7h0M457.9 276.0h0M414.3 279.7h0M452.4 279.6h0M395.6 284.1h0M462.5 282.5h0M441.6 285.9h0M456.2 285.6h0M353.1 288.9h0M412.0 288.7h0M458.2 287.0h0M393.5 291.6h0M425.4 289.6h0M450.5 292.1h0M375.0 292.7h0M393.3 294.0h0M414.5 293.9h0M421.0 293.7h0M407.4 295.5h0M431.3 298.3h0M469.4 299.7h0M398.8 301.3h0M432.5 301.6h0M438.7 301.3h0M445.3 301.7h0M354.1 303.8h0M418.8 304.8h0M439.1 303.8h0M425.2 305.8h0M387.9 309.6h0M425.1 310.3h0M437.0 311.1h0M437.7 309.8h0M472.4 308.7h0M457.9 312.7h0M365.5 316.1h0M416.6 316.3h0M435.0 315.0h0M468.9 314.4h0M351.1 318.1h0M449.1 318.3h0M454.0 321.8h0M375.3 324.3h0M394.7 323.4h0M472.1 323.4h0M386.4 326.3h0M434.5 326.8h0M443.8 325.5h0M462.6 325.5h0M376.7 328.0h0M416.1 328.6h0M472.0 328.9h0M395.6 330.4h0M403.9 331.0h0M414.4 330.8h0M358.6 334.9h0M374.0 333.0h0M379.0 334.7h0M389.2 333.9h0M430.1 333.2h0M435.6 334.7h0M438.4 334.6h0M467.2 334.6h0M404.7 337.2h0M376.3 340.6h0M378.6 339.2h0M401.2 338.7h0M403.4 339.2h0M477.9 338.1h0M402.3 342.5h0M477.2 342.8h0M409.9 343.6h0" stroke="#9C402C" stroke-width="2.4"/><path d="M449.2 261.9h0M436.1 264.5h0M425.7 266.0h0M381.8 268.4h0M402.4 275.5h0M411.7 274.3h0M414.5 274.3h0M379.3 283.4h0M379.6 286.1h0M398.4 284.1h0M420.2 290.3h0M383.9 298.4h0M392.9 298.1h0M357.9 300.7h0M387.5 303.2h0M388.4 306.9h0M390.3 307.3h0M392.8 328.2h0M435.4 329.7h0M454.0 334.0h0M442.8 335.9h0M412.0 342.0h0" stroke="#B05440" stroke-width="1.6"/><path d="M453.3 260.2h0M421.6 267.5h0M406.0 268.3h0M398.9 281.9h0M444.3 283.0h0M471.2 283.5h0M355.6 302.4h0M416.5 300.6h0M428.2 306.9h0M406.6 318.3h0M478.0 322.9h0M368.1 332.5h0M411.9 333.7h0" stroke="#903A28" stroke-width="2.8"/><path d="M460.2 261.4h0M414.7 267.7h0M436.5 281.7h0M434.3 288.7h0M452.3 299.6h0M351.4 301.7h0M420.4 302.7h0M368.5 308.6h0M392.7 313.2h0M392.1 314.7h0M469.7 319.0h0M405.4 323.9h0M447.5 326.8h0M474.1 326.9h0M418.8 330.6h0M437.0 337.4h0M371.9 341.0h0M457.8 340.8h0" stroke="#9C402C" stroke-width="1.6"/><path d="M473.2 261.4h0M427.9 266.5h0M427.3 270.4h0M390.6 279.8h0M386.4 286.0h0M465.4 284.4h0M379.2 301.9h0M399.3 311.2h0M435.4 318.7h0M455.6 331.6h0M446.9 333.4h0M453.0 340.6h0M379.8 343.3h0" stroke="#A84A32" stroke-width="2.8"/><path d="M391.0 263.7h0M463.9 270.5h0M413.6 271.8h0M435.4 284.8h0M371.9 291.4h0M444.5 289.6h0M350.9 294.7h0M409.5 307.7h0M406.2 310.4h0M422.5 319.5h0M355.3 323.4h0M385.1 323.1h0M466.6 326.4h0M421.4 328.0h0M379.3 330.4h0M477.3 332.3h0M365.9 334.0h0M394.0 334.9h0" stroke="#A84A32" stroke-width="1.6"/><path d="M397.7 264.7h0M413.8 265.1h0M355.9 265.6h0M444.6 267.1h0M391.4 268.3h0M399.1 268.6h0M412.3 270.4h0M386.9 271.9h0M401.5 271.8h0M425.5 273.2h0M397.5 274.6h0M406.0 273.7h0M386.2 277.5h0M409.0 278.2h0M411.9 278.3h0M396.7 279.0h0M432.5 280.7h0M434.9 281.3h0M451.1 279.6h0M423.3 282.2h0M429.6 282.3h0M368.6 286.3h0M431.3 286.7h0M434.3 285.9h0M382.4 288.7h0M438.6 286.8h0M441.2 286.9h0M387.1 291.4h0M402.5 290.7h0M405.2 291.9h0M405.8 290.4h0M424.0 290.6h0M435.2 293.0h0M459.3 294.2h0M352.0 296.7h0M413.9 295.2h0M398.6 297.9h0M406.6 300.3h0M419.6 299.0h0M423.5 298.3h0M449.9 299.5h0M376.4 303.4h0M410.0 304.5h0M461.0 305.3h0M465.9 305.0h0M371.0 307.1h0M451.7 306.7h0M402.6 309.6h0M421.6 309.6h0M450.5 308.9h0M454.0 310.3h0M461.7 308.5h0M477.5 309.0h0M389.8 311.2h0M355.8 315.1h0M419.7 318.1h0M385.4 319.5h0M399.4 319.4h0M428.3 319.6h0M431.9 319.9h0M452.4 321.4h0M464.7 319.6h0M412.2 322.6h0M439.4 324.1h0M472.8 324.0h0M361.2 327.0h0M378.1 325.0h0M411.8 326.8h0M427.1 327.3h0M356.8 329.4h0M396.3 329.1h0M407.5 329.4h0M452.3 328.2h0M376.0 330.4h0M402.2 330.3h0M412.7 331.1h0M350.6 333.3h0M350.3 335.6h0M371.8 337.0h0M432.9 336.2h0M452.4 335.8h0M474.7 337.9h0M365.0 340.7h0M395.5 339.9h0M408.5 341.0h0M443.5 343.3h0M443.5 343.7h0" stroke="#B05440" stroke-width="2.0"/><path d="M411.9 264.3h0M377.4 285.9h0M421.1 284.5h0M417.5 290.4h0M435.7 292.1h0M427.9 294.1h0M370.4 295.8h0M354.7 299.1h0M387.8 301.5h0M406.7 302.4h0M423.6 303.4h0M355.2 313.1h0M401.8 311.9h0M427.3 312.4h0M387.0 321.3h0M459.1 322.0h0M391.2 325.5h0M370.1 332.6h0M360.2 334.9h0M387.8 338.6h0M448.0 341.0h0" stroke="#9C402C" stroke-width="2.8"/><path d="M445.5 263.0h0M389.8 265.6h0M456.4 273.1h0M452.0 273.4h0M460.5 284.0h0M446.8 289.1h0M388.7 300.3h0M417.8 305.0h0M433.5 304.5h0M447.8 304.3h0M466.9 308.5h0M473.0 310.7h0M386.7 316.7h0M395.5 317.8h0M474.0 316.5h0M358.8 320.1h0M437.9 319.9h0M461.6 320.7h0M415.7 323.3h0M422.6 323.1h0M455.3 327.2h0M385.0 328.4h0M417.8 332.8h0M460.9 340.6h0M386.6 342.9h0" stroke="#903A28" stroke-width="1.6"/></g>
</g>
<g filter="url(#bl1)"><circle cx="406.5" cy="306" r="9" fill="#F0F2EE"/><circle cx="348.5" cy="294.5" r="5" fill="#F2F2EE"/></g>
</g>
<rect x="357" y="333.2" width="26.2" height="2.6" fill="#000"/>
<text x="354" y="277.5" font-size="12.5" font-weight="bold" fill="#000">iv</text>
<defs><filter id="gb" x="-50%" y="-100%" width="200%" height="300%"><feGaussianBlur stdDeviation="0.6"/></filter><filter id="gb2" x="-50%" y="-100%" width="200%" height="300%"><feGaussianBlur stdDeviation="1.0"/></filter></defs>
<text x="15.5" y="580.3" font-size="16.5" font-weight="bold" text-anchor="end" fill="#000">G</text>
<rect x="49.8" y="584.3" width="109.60000000000001" height="10.0" fill="#1c1c1c"/>
<rect x="50.8" y="585.3" width="107.60000000000001" height="8.0" fill="#2f2f2f"/>
<rect x="51.2" y="585.3" width="8.8" height="8.0" fill="#4a4a4a"/>
<rect x="51.5" y="586.1" width="8.2" height="1.1" fill="#858585" opacity="0.90"/>
<rect x="51.5" y="588.4" width="8.2" height="1.1" fill="#858585" opacity="0.75"/>
<rect x="51.5" y="590.7" width="8.2" height="1.1" fill="#858585" opacity="0.60"/>
<g filter="url(#gb)"><path d="M85.2,589.5 Q89.5,590.1 93.8,589.5 L93.8,591.9 Q89.5,592.5 85.2,591.9 Z" fill="rgb(246,246,246)"/></g>
<g filter="url(#gb)"><path d="M95.7,589.7 Q100.0,590.3 104.3,589.7 L104.3,591.7 Q100.0,592.3 95.7,591.7 Z" fill="rgb(222,222,222)"/></g>
<g filter="url(#gb)"><path d="M106.2,589.6 Q110.5,590.2 114.8,589.6 L114.8,591.8 Q110.5,592.4 106.2,591.8 Z" fill="rgb(238,238,238)"/></g>
<g filter="url(#gb)"><path d="M117.2,589.6 Q121.5,590.2 125.8,589.6 L125.8,591.8 Q121.5,592.4 117.2,591.8 Z" fill="rgb(230,230,230)"/></g>
<g filter="url(#gb)"><path d="M128.2,589.2 Q132.5,589.8 136.8,589.2 L136.8,592.2 Q132.5,592.8 128.2,592.2 Z" fill="rgb(255,255,255)"/></g>
<g filter="url(#gb)"><path d="M139.0,589.7 Q143.3,590.3 147.6,589.7 L147.6,591.7 Q143.3,592.3 139.0,591.7 Z" fill="rgb(147,147,147)"/></g>
<rect x="49.8" y="596.6" width="109.60000000000001" height="11.699999999999932" fill="#1c1c1c"/>
<rect x="50.8" y="597.6" width="107.60000000000001" height="9.699999999999932" fill="#2f2f2f"/>
<rect x="51.2" y="597.6" width="8.8" height="9.699999999999932" fill="#4a4a4a"/>
<rect x="51.5" y="598.4" width="8.2" height="1.1" fill="#858585" opacity="0.90"/>
<rect x="51.5" y="600.7" width="8.2" height="1.1" fill="#858585" opacity="0.75"/>
<rect x="51.5" y="603.0" width="8.2" height="1.1" fill="#858585" opacity="0.60"/>
<rect x="51.5" y="605.3" width="8.2" height="1.1" fill="#858585" opacity="0.45"/>
<g filter="url(#gb)"><path d="M63.7,601.8 Q68.0,602.4 72.3,601.8 L72.3,605.2 Q68.0,605.9 63.7,605.2 Z" fill="rgb(255,255,255)"/></g>
<g filter="url(#gb)"><path d="M128.2,602.0 Q132.5,602.6 136.8,602.0 L136.8,605.0 Q132.5,605.6 128.2,605.0 Z" fill="rgb(246,246,246)"/></g>
<g filter="url(#gb)"><path d="M139.0,602.2 Q143.3,602.8 147.6,602.2 L147.6,604.8 Q143.3,605.4 139.0,604.8 Z" fill="rgb(238,238,238)"/></g>
<rect x="49.8" y="611.4" width="109.60000000000001" height="10.899999999999977" fill="#1c1c1c"/>
<rect x="50.8" y="612.4" width="107.60000000000001" height="8.899999999999977" fill="#2f2f2f"/>
<rect x="51.2" y="612.4" width="8.8" height="8.899999999999977" fill="#4a4a4a"/>
<rect x="51.5" y="613.2" width="8.2" height="1.1" fill="#858585" opacity="0.90"/>
<rect x="51.5" y="615.5" width="8.2" height="1.1" fill="#858585" opacity="0.75"/>
<rect x="51.5" y="617.8" width="8.2" height="1.1" fill="#858585" opacity="0.60"/>
<rect x="51.5" y="620.1" width="8.2" height="1.1" fill="#858585" opacity="0.45"/>
<g filter="url(#gb)"><path d="M62.5,616.1 Q66.8,616.7 71.1,616.1 L71.1,618.4 Q66.8,619.0 62.5,618.4 Z" fill="rgb(218,218,218)"/></g>
<rect x="49.8" y="625.2" width="109.60000000000001" height="13.199999999999932" fill="#1c1c1c"/>
<rect x="50.8" y="626.2" width="107.60000000000001" height="11.199999999999932" fill="#2f2f2f"/>
<rect x="51.2" y="626.2" width="8.8" height="11.199999999999932" fill="#4a4a4a"/>
<rect x="51.5" y="627.0" width="8.2" height="1.1" fill="#858585" opacity="0.90"/>
<rect x="51.5" y="629.3" width="8.2" height="1.1" fill="#858585" opacity="0.75"/>
<rect x="51.5" y="631.6" width="8.2" height="1.1" fill="#858585" opacity="0.60"/>
<rect x="51.5" y="633.9" width="8.2" height="1.1" fill="#858585" opacity="0.45"/>
<g filter="url(#gb)"><path d="M63.7,631.1 Q68.0,631.7 72.3,631.1 L72.3,633.4 Q68.0,634.0 63.7,633.4 Z" fill="rgb(241,241,241)"/></g>
<g filter="url(#gb)"><path d="M74.7,631.1 Q79.0,631.7 83.3,631.1 L83.3,633.4 Q79.0,634.0 74.7,633.4 Z" fill="rgb(241,241,241)"/></g>
<g filter="url(#gb)"><path d="M85.2,631.1 Q89.5,631.7 93.8,631.1 L93.8,633.4 Q89.5,634.0 85.2,633.4 Z" fill="rgb(241,241,241)"/></g>
<g filter="url(#gb)"><path d="M95.7,631.1 Q100.0,631.7 104.3,631.1 L104.3,633.4 Q100.0,634.0 95.7,633.4 Z" fill="rgb(238,238,238)"/></g>
<g filter="url(#gb)"><path d="M106.2,631.1 Q110.5,631.7 114.8,631.1 L114.8,633.4 Q110.5,634.0 106.2,633.4 Z" fill="rgb(241,241,241)"/></g>
<g filter="url(#gb)"><path d="M117.2,631.1 Q121.5,631.7 125.8,631.1 L125.8,633.4 Q121.5,634.0 117.2,633.4 Z" fill="rgb(241,241,241)"/></g>
<g filter="url(#gb)"><path d="M128.2,631.1 Q132.5,631.7 136.8,631.1 L136.8,633.4 Q132.5,634.0 128.2,633.4 Z" fill="rgb(238,238,238)"/></g>
<g filter="url(#gb)"><path d="M139.0,631.1 Q143.3,631.7 147.6,631.1 L147.6,633.3 Q143.3,633.9 139.0,633.3 Z" fill="rgb(180,180,180)"/></g>
<text x="55.6" y="582.2" font-size="10" text-anchor="middle" fill="#000" stroke="#000" stroke-width="0.25">L</text>
<text x="66.8" y="582.2" font-size="10" text-anchor="middle" fill="#000" stroke="#000" stroke-width="0.25">1</text>
<text x="78.3" y="582.2" font-size="10" text-anchor="middle" fill="#000" stroke="#000" stroke-width="0.25">2</text>
<text x="90.3" y="582.2" font-size="10" text-anchor="middle" fill="#000" stroke="#000" stroke-width="0.25">3</text>
<text x="98.8" y="582.2" font-size="10" text-anchor="middle" fill="#000" stroke="#000" stroke-width="0.25">4</text>
<text x="111.2" y="582.2" font-size="10" text-anchor="middle" fill="#000" stroke="#000" stroke-width="0.25">5</text>
<text x="122.2" y="582.2" font-size="10" text-anchor="middle" fill="#000" stroke="#000" stroke-width="0.25">6</text>
<text x="131" y="582.2" font-size="10" text-anchor="middle" fill="#000" stroke="#000" stroke-width="0.25">7</text>
<text x="143.1" y="582.2" font-size="10" text-anchor="middle" fill="#000" stroke="#000" stroke-width="0.25">8</text>
<text x="154.4" y="582.2" font-size="10" text-anchor="middle" fill="#000" stroke="#000" stroke-width="0.25">w</text>
<text x="113" y="567.2" font-size="10.4" text-anchor="middle" fill="#000" stroke="#000" stroke-width="0.25">tumors</text>
<line x1="85" y1="569.6" x2="141.3" y2="569.6" stroke="#000" stroke-width="1.3"/>
<text x="164" y="592.7" font-size="11" fill="#111" stroke="#111" stroke-width="0.3">Tg Lin28b</text>
<text x="164" y="607" font-size="11" fill="#111" stroke="#111" stroke-width="0.3">Endo Lin28b</text>
<text x="164" y="620.4" font-size="11" fill="#111" stroke="#111" stroke-width="0.3">Lin28a</text>
<text x="164" y="634.4" font-size="11" fill="#111" stroke="#111" stroke-width="0.3">Actb</text>
</svg></body></html>
